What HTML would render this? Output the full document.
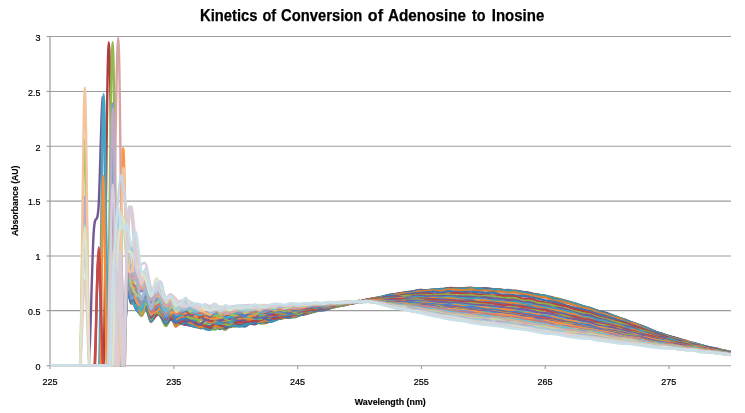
<!DOCTYPE html>
<html lang="en">
<head>
<meta charset="utf-8">
<title>Kinetics of Conversion of Adenosine to Inosine</title>
<style>
html,body{margin:0;padding:0;background:#fff;}
body{width:745px;height:413px;overflow:hidden;font-family:"Liberation Sans",sans-serif;}
svg{display:block;}
.grid line{stroke:#9c9c9c;stroke-width:1.12;}
.axis line{stroke:#9c9c9c;stroke-width:1.12;}
.axis line.v{stroke:#9c9c9c;stroke-width:1.2;}
.ticks line{stroke:#9c9c9c;stroke-width:1.1;}
.series path{fill:none;stroke-width:2.4;stroke-linejoin:round;stroke-linecap:butt;}
text{font-family:"Liberation Sans",sans-serif;fill:#000;}
.tl text{font-size:9.7px;stroke:#000;stroke-width:0.22px;}
.at{font-size:9px;font-weight:bold;stroke:#000;stroke-width:0.15px;}
.title{font-size:16.4px;font-weight:bold;stroke:#000;stroke-width:0.25px;}
</style>
</head>
<body>
<svg width="745" height="413" viewBox="0 0 745 413">
<rect width="745" height="413" fill="#fff"/>
<text class="title" y="20.6"><tspan x="200" textLength="57.4" lengthAdjust="spacingAndGlyphs">Kinetics</tspan> <tspan x="262.4" textLength="13.7" lengthAdjust="spacingAndGlyphs">of</tspan> <tspan x="281.1" textLength="81.2" lengthAdjust="spacingAndGlyphs">Conversion</tspan> <tspan x="367.8" textLength="15.2" lengthAdjust="spacingAndGlyphs">of</tspan> <tspan x="388" textLength="78.1" lengthAdjust="spacingAndGlyphs">Adenosine</tspan> <tspan x="471.9" textLength="13.5" lengthAdjust="spacingAndGlyphs">to</tspan> <tspan x="491.8" textLength="52.5" lengthAdjust="spacingAndGlyphs">Inosine</tspan></text>
<g class="grid">
<line x1="50" y1="310.65" x2="731.0" y2="310.65"/>
<line x1="50" y1="256.00" x2="731.0" y2="256.00"/>
<line x1="50" y1="201.10" x2="731.0" y2="201.10"/>
<line x1="50" y1="146.30" x2="731.0" y2="146.30"/>
<line x1="50" y1="91.45" x2="731.0" y2="91.45"/>
<line x1="50" y1="36.50" x2="731.0" y2="36.50"/>
</g>
<g class="axis">
<line class="v" x1="50" y1="35.95" x2="50" y2="368.9"/>
<line x1="50" y1="365.75" x2="731.0" y2="365.75"/>
</g>
<g class="ticks">
<line x1="46.6" y1="365.75" x2="50" y2="365.75"/>
<line x1="46.6" y1="310.65" x2="50" y2="310.65"/>
<line x1="46.6" y1="256.00" x2="50" y2="256.00"/>
<line x1="46.6" y1="201.10" x2="50" y2="201.10"/>
<line x1="46.6" y1="146.30" x2="50" y2="146.30"/>
<line x1="46.6" y1="91.45" x2="50" y2="91.45"/>
<line x1="46.6" y1="36.50" x2="50" y2="36.50"/>
<line x1="173.88" y1="365.7" x2="173.88" y2="368.9"/>
<line x1="297.66" y1="365.7" x2="297.66" y2="368.9"/>
<line x1="421.44" y1="365.7" x2="421.44" y2="368.9"/>
<line x1="545.22" y1="365.7" x2="545.22" y2="368.9"/>
<line x1="669.00" y1="365.7" x2="669.00" y2="368.9"/>
</g>
<svg class="series" x="50.7" y="35.2" width="680.3" height="331.3" viewBox="50.7 35.2 680.3 331.3" overflow="hidden">
<path d="M47.8,365.5C50.1,365.5 50.1,365.5 61.8,365.5C73.5,365.5 108.1,365.5 118.2,365.5C128.4,365.5 121.5,378.9 122.9,365.5C124.4,352.1 125.8,296.8 127.2,285.4C128.6,273.9 129.7,292.8 131.1,296.8C132.6,300.7 134.5,306.3 136.1,309.1C137.8,311.8 139.4,313.8 141.1,313.1C142.7,312.4 144.4,304.1 146.0,304.9C147.7,305.7 149.3,316.2 151.0,317.7C152.6,319.2 154.3,313.9 155.9,313.6C157.6,313.4 159.2,314.3 160.9,316.1C162.5,318.0 164.2,324.5 165.8,324.7C167.5,324.8 169.1,317.3 170.8,317.2C172.4,317.0 174.1,322.7 175.7,323.8C177.4,324.9 179.0,323.6 180.7,323.6C182.3,323.7 184.0,323.7 185.6,324.0C187.3,324.3 188.9,325.1 190.6,325.2C192.2,325.4 193.9,324.4 195.6,324.9C197.2,325.4 198.9,327.7 200.5,328.0C202.2,328.3 203.8,326.9 205.5,326.8C207.1,326.6 208.8,327.3 210.4,327.2C212.1,327.1 213.7,325.9 215.4,326.2C217.0,326.5 218.7,329.1 220.3,329.0C222.0,328.9 223.6,325.8 225.3,325.5C226.9,325.2 228.6,327.4 230.2,327.1C231.9,326.9 233.5,324.3 235.2,324.1C236.8,323.8 238.5,325.1 240.1,325.5C241.8,325.9 243.4,326.8 245.1,326.4C246.7,326.1 248.4,324.1 250.0,323.4C251.7,322.7 253.3,322.3 255.0,322.1C256.7,322.0 258.3,322.3 260.0,322.2C261.6,322.0 263.3,321.5 264.9,321.3C266.6,321.1 268.2,321.3 269.9,321.2C271.5,321.0 273.2,320.6 274.8,320.1C276.5,319.7 278.1,319.0 279.8,318.5C281.4,318.1 283.1,317.6 284.7,317.4C286.4,317.1 288.0,316.9 289.7,316.8C291.3,316.7 293.0,316.9 294.6,316.7C296.3,316.4 297.9,315.6 299.6,315.2C301.2,314.7 302.9,314.5 304.5,314.1C306.2,313.8 307.8,313.5 309.5,312.9C311.1,312.3 312.8,311.1 314.4,310.7C316.1,310.3 317.8,310.6 319.4,310.5C321.1,310.3 322.7,310.4 324.4,310.1C326.0,309.7 327.7,308.8 329.3,308.3C331.0,307.8 332.6,307.3 334.3,306.9C335.9,306.5 337.6,306.5 339.2,306.0C340.9,305.6 342.5,304.6 344.2,304.3C345.8,304.0 347.5,304.3 349.1,304.0C350.8,303.7 352.4,302.9 354.1,302.5C355.7,302.1 358.1,301.6 359.0,301.5C359.9,301.4 358.1,302.2 359.4,302.0C360.7,301.7 364.4,300.5 366.8,299.8C369.3,299.2 371.8,298.8 374.3,298.4C376.7,297.9 379.2,297.9 381.7,297.4C384.2,296.8 386.6,295.5 389.1,295.0C391.6,294.5 394.1,294.8 396.6,294.4C399.0,294.0 401.5,293.1 404.0,292.7C406.5,292.2 408.9,292.3 411.4,291.8C413.9,291.4 416.4,290.4 418.8,290.2C421.3,290.0 423.8,290.6 426.3,290.5C428.8,290.4 431.2,289.8 433.7,289.6C436.2,289.4 438.7,289.6 441.1,289.4C443.6,289.2 446.1,288.3 448.6,288.2C451.0,288.1 453.5,288.6 456.0,288.7C458.5,288.7 460.9,288.4 463.4,288.3C465.9,288.2 468.4,288.0 470.9,288.1C473.3,288.3 475.8,289.2 478.3,289.2C480.8,289.3 483.2,288.3 485.7,288.4C488.2,288.4 490.7,288.9 493.1,289.3C495.6,289.7 498.1,290.5 500.6,290.6C503.1,290.7 505.5,289.9 508.0,290.0C510.5,290.2 513.0,291.1 515.4,291.5C517.9,291.9 520.4,292.0 522.9,292.2C525.3,292.5 527.8,292.6 530.3,293.1C532.8,293.6 535.3,294.6 537.7,295.1C540.2,295.6 542.7,295.6 545.2,296.1C547.6,296.6 550.1,297.5 552.6,298.1C555.1,298.7 557.5,299.1 560.0,299.7C562.5,300.4 565.0,301.4 567.5,302.2C569.9,302.9 572.4,303.5 574.9,304.2C577.4,304.8 579.8,305.7 582.3,306.3C584.8,306.9 587.3,307.1 589.7,307.8C592.2,308.5 594.7,309.9 597.2,310.7C599.6,311.5 602.1,311.8 604.6,312.5C607.1,313.2 609.6,314.2 612.0,315.1C614.5,316.1 617.0,317.3 619.5,318.2C621.9,319.1 624.4,319.7 626.9,320.6C629.4,321.6 631.8,323.0 634.3,324.0C636.8,325.0 639.3,325.8 641.8,326.8C644.2,327.7 646.7,328.8 649.2,329.7C651.7,330.6 654.1,331.3 656.6,332.1C659.1,332.9 661.6,333.4 664.0,334.3C666.5,335.1 669.0,336.4 671.5,337.3C674.0,338.2 676.4,338.7 678.9,339.5C681.4,340.3 683.9,341.4 686.3,342.1C688.8,342.8 691.3,343.0 693.8,343.6C696.2,344.1 698.7,344.9 701.2,345.5C703.7,346.1 706.2,346.5 708.6,347.1C711.1,347.7 713.6,348.7 716.1,349.2C718.5,349.8 721.0,349.8 723.5,350.3C726.0,350.7 729.7,351.6 730.9,351.8" stroke="#3F6EA7"/>
<path d="M47.8,365.5C50.1,365.5 53.4,365.5 61.8,365.5C70.2,365.5 91.4,365.5 98.4,365.5C105.4,365.5 101.9,419.4 103.6,365.5C105.3,311.6 106.9,42.1 108.8,42.1C110.7,42.1 112.8,311.6 114.8,365.5C116.8,419.4 118.7,377.9 120.8,365.5C122.9,353.1 125.5,301.9 127.2,291.2C128.9,280.6 129.7,299.0 131.1,301.4C132.6,303.9 134.5,304.3 136.1,306.1C137.8,308.0 139.4,312.4 141.1,312.4C142.7,312.5 144.4,305.2 146.0,306.3C147.7,307.5 149.3,318.4 151.0,319.4C152.6,320.4 154.3,313.5 155.9,312.3C157.6,311.1 159.2,310.8 160.9,312.2C162.5,313.7 164.2,320.0 165.8,321.0C167.5,322.1 169.1,318.1 170.8,318.5C172.4,319.0 174.1,322.8 175.7,323.6C177.4,324.4 179.0,323.2 180.7,323.4C182.3,323.5 184.0,324.9 185.6,324.6C187.3,324.4 188.9,321.7 190.6,322.0C192.2,322.4 193.9,326.4 195.6,326.8C197.2,327.2 198.9,324.3 200.5,324.5C202.2,324.7 203.8,327.4 205.5,328.0C207.1,328.6 208.8,328.5 210.4,328.1C212.1,327.6 213.7,325.3 215.4,325.2C217.0,325.2 218.7,327.5 220.3,327.8C222.0,328.0 223.6,327.0 225.3,326.8C226.9,326.6 228.6,326.8 230.2,326.5C231.9,326.2 233.5,325.5 235.2,325.2C236.8,324.9 238.5,324.7 240.1,324.7C241.8,324.7 243.4,325.6 245.1,325.2C246.7,324.7 248.4,322.3 250.0,321.9C251.7,321.5 253.3,322.8 255.0,322.6C256.7,322.4 258.3,320.5 260.0,320.6C261.6,320.7 263.3,323.1 264.9,323.1C266.6,323.1 268.2,321.2 269.9,320.6C271.5,319.9 273.2,319.4 274.8,319.1C276.5,318.8 278.1,318.9 279.8,318.6C281.4,318.4 283.1,317.9 284.7,317.6C286.4,317.3 288.0,317.0 289.7,316.9C291.3,316.7 293.0,316.8 294.6,316.5C296.3,316.2 297.9,315.8 299.6,315.2C301.2,314.7 302.9,313.6 304.5,313.1C306.2,312.7 307.8,312.9 309.5,312.5C311.1,312.2 312.8,311.3 314.4,311.0C316.1,310.6 317.8,310.7 319.4,310.4C321.1,310.1 322.7,309.6 324.4,309.3C326.0,309.0 327.7,308.8 329.3,308.4C331.0,308.1 332.6,307.5 334.3,307.0C335.9,306.5 337.6,305.9 339.2,305.5C340.9,305.0 342.5,304.7 344.2,304.4C345.8,304.0 347.5,303.8 349.1,303.5C350.8,303.1 352.4,302.7 354.1,302.3C355.7,301.9 358.1,301.2 359.0,301.1C359.9,300.9 358.1,301.9 359.4,301.7C360.7,301.4 364.4,300.2 366.8,299.6C369.3,299.0 371.8,298.6 374.3,298.1C376.7,297.7 379.2,297.5 381.7,297.0C384.2,296.4 386.6,295.3 389.1,294.9C391.6,294.5 394.1,295.0 396.6,294.6C399.0,294.3 401.5,293.4 404.0,292.9C406.5,292.5 408.9,292.1 411.4,291.8C413.9,291.4 416.4,291.0 418.8,290.7C421.3,290.5 423.8,290.4 426.3,290.3C428.8,290.1 431.2,290.0 433.7,289.9C436.2,289.8 438.7,290.0 441.1,289.7C443.6,289.4 446.1,288.3 448.6,288.1C451.0,287.8 453.5,288.1 456.0,288.2C458.5,288.2 460.9,288.5 463.4,288.4C465.9,288.3 468.4,287.5 470.9,287.6C473.3,287.7 475.8,288.7 478.3,288.9C480.8,289.0 483.2,288.6 485.7,288.6C488.2,288.7 490.7,289.0 493.1,289.2C495.6,289.3 498.1,289.2 500.6,289.5C503.1,289.8 505.5,290.9 508.0,291.2C510.5,291.4 513.0,290.6 515.4,290.8C517.9,291.0 520.4,291.9 522.9,292.4C525.3,292.9 527.8,293.6 530.3,293.9C532.8,294.3 535.3,294.1 537.7,294.5C540.2,294.9 542.7,295.9 545.2,296.3C547.6,296.8 550.1,296.8 552.6,297.4C555.1,297.9 557.5,298.9 560.0,299.5C562.5,300.2 565.0,300.6 567.5,301.3C569.9,302.0 572.4,302.9 574.9,303.7C577.4,304.5 579.8,305.1 582.3,306.0C584.8,306.8 587.3,308.1 589.7,308.9C592.2,309.7 594.7,310.2 597.2,310.9C599.6,311.7 602.1,312.6 604.6,313.4C607.1,314.1 609.6,314.6 612.0,315.3C614.5,316.1 617.0,317.2 619.5,318.1C621.9,318.9 624.4,319.4 626.9,320.4C629.4,321.3 631.8,322.8 634.3,323.7C636.8,324.6 639.3,325.0 641.8,325.8C644.2,326.7 646.7,327.7 649.2,328.8C651.7,329.8 654.1,331.3 656.6,332.3C659.1,333.3 661.6,333.8 664.0,334.6C666.5,335.3 669.0,336.3 671.5,337.0C674.0,337.7 676.4,338.1 678.9,338.8C681.4,339.4 683.9,340.1 686.3,340.9C688.8,341.8 691.3,343.2 693.8,344.0C696.2,344.8 698.7,345.2 701.2,345.9C703.7,346.5 706.2,347.1 708.6,347.7C711.1,348.3 713.6,348.7 716.1,349.4C718.5,350.0 721.0,351.0 723.5,351.5C726.0,351.9 729.7,352.0 730.9,352.1" stroke="#AA403D"/>
<path d="M47.8,365.5C50.1,365.5 50.0,365.5 61.8,365.5C73.6,365.5 108.1,365.5 118.3,365.5C128.5,365.5 121.5,377.2 123.0,365.5C124.5,353.8 125.8,307.0 127.2,295.2C128.6,283.4 129.7,293.4 131.1,294.6C132.6,295.8 134.5,298.9 136.1,302.4C137.8,305.9 139.4,314.5 141.1,315.6C142.7,316.7 144.4,307.8 146.0,308.8C147.7,309.9 149.3,321.6 151.0,321.9C152.6,322.2 154.3,311.8 155.9,310.9C157.6,310.0 159.2,314.2 160.9,316.7C162.5,319.3 164.2,325.8 165.8,326.1C167.5,326.4 169.1,318.8 170.8,318.4C172.4,318.0 174.1,322.7 175.7,323.6C177.4,324.5 179.0,324.2 180.7,323.8C182.3,323.4 184.0,321.0 185.6,321.1C187.3,321.1 188.9,323.4 190.6,324.1C192.2,324.8 193.9,324.6 195.6,325.3C197.2,326.0 198.9,327.8 200.5,328.2C202.2,328.6 203.8,327.4 205.5,327.5C207.1,327.6 208.8,328.4 210.4,328.7C212.1,329.0 213.7,329.6 215.4,329.4C217.0,329.1 218.7,327.3 220.3,327.3C222.0,327.4 223.6,330.0 225.3,329.8C226.9,329.6 228.6,326.7 230.2,326.2C231.9,325.6 233.5,327.1 235.2,326.5C236.8,325.9 238.5,323.0 240.1,322.6C241.8,322.1 243.4,324.0 245.1,324.0C246.7,324.0 248.4,323.0 250.0,322.6C251.7,322.2 253.3,321.3 255.0,321.4C256.7,321.6 258.3,323.1 260.0,323.4C261.6,323.6 263.3,323.5 264.9,323.1C266.6,322.6 268.2,321.5 269.9,320.8C271.5,320.1 273.2,319.3 274.8,318.8C276.5,318.4 278.1,318.5 279.8,318.3C281.4,318.1 283.1,318.1 284.7,317.8C286.4,317.5 288.0,316.8 289.7,316.7C291.3,316.6 293.0,317.4 294.6,317.2C296.3,317.0 297.9,316.0 299.6,315.3C301.2,314.6 302.9,313.5 304.5,313.1C306.2,312.7 307.8,313.1 309.5,312.9C311.1,312.7 312.8,312.3 314.4,311.9C316.1,311.4 317.8,310.7 319.4,310.3C321.1,309.9 322.7,310.0 324.4,309.5C326.0,309.1 327.7,308.1 329.3,307.7C331.0,307.3 332.6,307.6 334.3,307.3C335.9,307.0 337.6,306.3 339.2,306.0C340.9,305.7 342.5,305.9 344.2,305.5C345.8,305.0 347.5,303.9 349.1,303.4C350.8,302.8 352.4,302.6 354.1,302.2C355.7,301.8 358.1,301.1 359.0,301.1C359.9,301.2 358.1,302.7 359.4,302.5C360.7,302.3 364.4,300.6 366.8,300.1C369.3,299.5 371.8,299.7 374.3,299.2C376.7,298.7 379.2,297.6 381.7,296.9C384.2,296.3 386.6,295.9 389.1,295.5C391.6,295.1 394.1,294.9 396.6,294.4C399.0,293.9 401.5,293.0 404.0,292.6C406.5,292.2 408.9,292.3 411.4,291.9C413.9,291.4 416.4,290.3 418.8,290.1C421.3,289.8 423.8,290.3 426.3,290.2C428.8,290.1 431.2,289.6 433.7,289.6C436.2,289.6 438.7,290.2 441.1,290.1C443.6,290.0 446.1,289.4 448.6,289.1C451.0,288.9 453.5,288.8 456.0,288.6C458.5,288.5 460.9,288.4 463.4,288.3C465.9,288.3 468.4,288.2 470.9,288.1C473.3,288.1 475.8,288.0 478.3,288.2C480.8,288.4 483.2,289.2 485.7,289.4C488.2,289.6 490.7,289.3 493.1,289.5C495.6,289.6 498.1,289.8 500.6,290.0C503.1,290.3 505.5,290.6 508.0,290.8C510.5,290.9 513.0,290.7 515.4,291.0C517.9,291.3 520.4,292.4 522.9,292.7C525.3,293.1 527.8,292.6 530.3,293.0C532.8,293.4 535.3,294.7 537.7,295.1C540.2,295.6 542.7,295.1 545.2,295.6C547.6,296.1 550.1,297.4 552.6,298.0C555.1,298.6 557.5,298.5 560.0,299.2C562.5,299.9 565.0,301.5 567.5,302.2C569.9,302.9 572.4,302.9 574.9,303.6C577.4,304.3 579.8,305.7 582.3,306.5C584.8,307.3 587.3,307.5 589.7,308.2C592.2,308.9 594.7,309.7 597.2,310.6C599.6,311.5 602.1,312.7 604.6,313.6C607.1,314.5 609.6,315.2 612.0,316.0C614.5,316.8 617.0,317.7 619.5,318.5C621.9,319.2 624.4,319.6 626.9,320.6C629.4,321.5 631.8,323.1 634.3,324.1C636.8,325.0 639.3,325.4 641.8,326.4C644.2,327.4 646.7,328.8 649.2,329.9C651.7,330.9 654.1,331.9 656.6,332.7C659.1,333.5 661.6,334.0 664.0,334.7C666.5,335.4 669.0,336.2 671.5,337.0C674.0,337.8 676.4,338.7 678.9,339.5C681.4,340.3 683.9,341.1 686.3,341.7C688.8,342.4 691.3,342.9 693.8,343.6C696.2,344.2 698.7,345.0 701.2,345.7C703.7,346.5 706.2,347.4 708.6,348.0C711.1,348.5 713.6,348.6 716.1,349.1C718.5,349.6 721.0,350.4 723.5,350.8C726.0,351.3 729.7,351.7 730.9,351.9" stroke="#86A548"/>
<path d="M47.8,365.5C50.1,365.5 50.0,365.5 61.8,365.5C73.6,365.5 108.4,365.5 118.5,365.5C128.6,365.5 121.0,378.9 122.5,365.5C123.9,352.1 125.8,296.6 127.2,285.2C128.6,273.9 129.7,294.1 131.1,297.4C132.6,300.6 134.5,301.8 136.1,304.9C137.8,307.9 139.4,315.2 141.1,315.4C142.7,315.6 144.4,305.5 146.0,306.0C147.7,306.6 149.3,317.8 151.0,318.7C152.6,319.5 154.3,311.5 155.9,311.2C157.6,310.8 159.2,314.8 160.9,316.8C162.5,318.7 164.2,322.7 165.8,322.7C167.5,322.7 169.1,317.0 170.8,316.8C172.4,316.6 174.1,320.7 175.7,321.6C177.4,322.5 179.0,321.7 180.7,322.2C182.3,322.7 184.0,323.9 185.6,324.5C187.3,325.1 188.9,325.2 190.6,325.6C192.2,325.9 193.9,326.2 195.6,326.6C197.2,326.9 198.9,327.9 200.5,327.8C202.2,327.8 203.8,326.3 205.5,326.1C207.1,326.0 208.8,326.8 210.4,326.8C212.1,326.7 213.7,325.8 215.4,325.7C217.0,325.6 218.7,325.6 220.3,326.0C222.0,326.4 223.6,328.0 225.3,328.0C226.9,327.9 228.6,326.1 230.2,325.6C231.9,325.1 233.5,325.2 235.2,325.0C236.8,324.8 238.5,324.7 240.1,324.4C241.8,324.0 243.4,323.0 245.1,322.9C246.7,322.7 248.4,323.4 250.0,323.6C251.7,323.8 253.3,324.4 255.0,324.2C256.7,324.0 258.3,322.6 260.0,322.3C261.6,321.9 263.3,322.2 264.9,322.1C266.6,322.0 268.2,322.1 269.9,321.8C271.5,321.5 273.2,320.8 274.8,320.1C276.5,319.4 278.1,318.1 279.8,317.7C281.4,317.2 283.1,317.3 284.7,317.3C286.4,317.3 288.0,317.8 289.7,317.5C291.3,317.2 293.0,316.2 294.6,315.8C296.3,315.3 297.9,315.0 299.6,314.8C301.2,314.6 302.9,314.8 304.5,314.4C306.2,314.1 307.8,313.2 309.5,312.6C311.1,312.1 312.8,311.5 314.4,311.1C316.1,310.7 317.8,310.3 319.4,310.1C321.1,309.9 322.7,310.4 324.4,310.0C326.0,309.7 327.7,308.6 329.3,308.0C331.0,307.4 332.6,306.9 334.3,306.5C335.9,306.1 337.6,305.9 339.2,305.5C340.9,305.2 342.5,304.5 344.2,304.2C345.8,303.9 347.5,304.2 349.1,303.9C350.8,303.5 352.4,302.6 354.1,302.2C355.7,301.8 358.1,301.3 359.0,301.4C359.9,301.4 358.1,302.7 359.4,302.4C360.7,302.2 364.4,300.5 366.8,299.9C369.3,299.3 371.8,299.2 374.3,298.7C376.7,298.2 379.2,297.4 381.7,296.9C384.2,296.3 386.6,296.1 389.1,295.5C391.6,295.0 394.1,294.0 396.6,293.6C399.0,293.1 401.5,292.9 404.0,292.7C406.5,292.4 408.9,292.5 411.4,292.0C413.9,291.6 416.4,290.4 418.8,290.1C421.3,289.8 423.8,290.2 426.3,290.2C428.8,290.2 431.2,290.1 433.7,289.9C436.2,289.7 438.7,289.2 441.1,289.0C443.6,288.8 446.1,288.9 448.6,288.9C451.0,288.9 453.5,288.8 456.0,288.7C458.5,288.7 460.9,288.7 463.4,288.7C465.9,288.7 468.4,288.7 470.9,288.8C473.3,288.8 475.8,289.1 478.3,289.1C480.8,289.0 483.2,288.4 485.7,288.5C488.2,288.6 490.7,289.5 493.1,289.8C495.6,290.1 498.1,290.0 500.6,290.2C503.1,290.4 505.5,290.9 508.0,291.2C510.5,291.4 513.0,291.3 515.4,291.5C517.9,291.6 520.4,291.7 522.9,292.0C525.3,292.3 527.8,292.7 530.3,293.3C532.8,293.8 535.3,294.8 537.7,295.3C540.2,295.8 542.7,295.6 545.2,296.1C547.6,296.6 550.1,297.7 552.6,298.4C555.1,299.0 557.5,299.5 560.0,300.2C562.5,300.8 565.0,301.4 567.5,302.0C569.9,302.7 572.4,303.5 574.9,304.2C577.4,304.9 579.8,305.6 582.3,306.3C584.8,306.9 587.3,307.3 589.7,308.1C592.2,308.9 594.7,310.0 597.2,310.9C599.6,311.7 602.1,312.4 604.6,313.3C607.1,314.1 609.6,315.2 612.0,316.1C614.5,316.9 617.0,317.3 619.5,318.1C621.9,319.0 624.4,320.2 626.9,321.0C629.4,321.9 631.8,322.2 634.3,323.1C636.8,324.0 639.3,325.3 641.8,326.3C644.2,327.3 646.7,328.1 649.2,329.1C651.7,330.1 654.1,331.4 656.6,332.4C659.1,333.4 661.6,334.5 664.0,335.2C666.5,336.0 669.0,336.2 671.5,336.8C674.0,337.4 676.4,337.9 678.9,338.8C681.4,339.7 683.9,341.3 686.3,342.1C688.8,342.9 691.3,343.0 693.8,343.5C696.2,344.0 698.7,344.5 701.2,345.2C703.7,345.9 706.2,347.2 708.6,347.7C711.1,348.3 713.6,347.8 716.1,348.4C718.5,348.9 721.0,350.3 723.5,351.0C726.0,351.7 729.7,352.4 730.9,352.7" stroke="#6E538E"/>
<path d="M47.8,365.5C50.1,365.5 50.1,365.5 61.8,365.5C73.5,365.5 107.9,365.5 118.1,365.5C128.3,365.5 121.7,378.8 123.2,365.5C124.8,352.2 125.9,296.8 127.2,285.7C128.5,274.5 129.7,295.0 131.1,298.6C132.6,302.1 134.5,305.1 136.1,307.1C137.8,309.0 139.4,309.8 141.1,310.4C142.7,310.9 144.4,309.4 146.0,310.5C147.7,311.6 149.3,316.1 151.0,317.0C152.6,317.8 154.3,316.1 155.9,315.6C157.6,315.2 159.2,313.0 160.9,314.4C162.5,315.7 164.2,323.4 165.8,323.9C167.5,324.4 169.1,317.7 170.8,317.5C172.4,317.2 174.1,321.6 175.7,322.7C177.4,323.8 179.0,324.1 180.7,324.1C182.3,324.0 184.0,322.1 185.6,322.2C187.3,322.4 188.9,324.1 190.6,324.9C192.2,325.7 193.9,326.7 195.6,327.1C197.2,327.4 198.9,326.8 200.5,327.1C202.2,327.4 203.8,328.5 205.5,329.0C207.1,329.4 208.8,330.2 210.4,329.6C212.1,329.0 213.7,325.6 215.4,325.3C217.0,325.1 218.7,327.9 220.3,327.9C222.0,328.0 223.6,326.1 225.3,325.7C226.9,325.3 228.6,325.4 230.2,325.5C231.9,325.5 233.5,325.7 235.2,325.9C236.8,326.0 238.5,326.7 240.1,326.5C241.8,326.4 243.4,325.7 245.1,325.1C246.7,324.6 248.4,323.7 250.0,323.2C251.7,322.8 253.3,322.4 255.0,322.3C256.7,322.3 258.3,323.1 260.0,322.8C261.6,322.5 263.3,320.7 264.9,320.5C266.6,320.4 268.2,322.0 269.9,321.9C271.5,321.9 273.2,321.1 274.8,320.4C276.5,319.8 278.1,318.8 279.8,318.2C281.4,317.7 283.1,317.5 284.7,317.3C286.4,317.1 288.0,317.0 289.7,316.9C291.3,316.9 293.0,317.2 294.6,316.9C296.3,316.6 297.9,315.6 299.6,315.1C301.2,314.5 302.9,314.0 304.5,313.5C306.2,313.0 307.8,312.5 309.5,312.2C311.1,311.8 312.8,311.5 314.4,311.2C316.1,311.0 317.8,310.9 319.4,310.5C321.1,310.2 322.7,309.7 324.4,309.3C326.0,308.8 327.7,308.2 329.3,307.7C331.0,307.2 332.6,306.7 334.3,306.3C335.9,305.9 337.6,305.6 339.2,305.4C340.9,305.2 342.5,305.3 344.2,305.1C345.8,304.8 347.5,304.3 349.1,303.9C350.8,303.6 352.4,303.2 354.1,302.8C355.7,302.4 358.1,301.9 359.0,301.7C359.9,301.6 358.1,302.0 359.4,301.7C360.7,301.4 364.4,300.5 366.8,300.0C369.3,299.5 371.8,299.0 374.3,298.5C376.7,297.9 379.2,297.0 381.7,296.6C384.2,296.1 386.6,295.9 389.1,295.6C391.6,295.2 394.1,294.8 396.6,294.5C399.0,294.1 401.5,293.7 404.0,293.4C406.5,293.0 408.9,292.8 411.4,292.4C413.9,291.9 416.4,291.1 418.8,290.9C421.3,290.7 423.8,291.2 426.3,291.0C428.8,290.8 431.2,289.7 433.7,289.5C436.2,289.2 438.7,289.5 441.1,289.5C443.6,289.4 446.1,289.0 448.6,288.9C451.0,288.9 453.5,288.8 456.0,288.9C458.5,288.9 460.9,289.2 463.4,289.2C465.9,289.1 468.4,288.7 470.9,288.6C473.3,288.5 475.8,288.2 478.3,288.4C480.8,288.5 483.2,289.6 485.7,289.8C488.2,290.0 490.7,289.4 493.1,289.4C495.6,289.4 498.1,289.7 500.6,290.0C503.1,290.2 505.5,290.5 508.0,290.7C510.5,291.0 513.0,291.2 515.4,291.4C517.9,291.7 520.4,291.9 522.9,292.3C525.3,292.8 527.8,293.6 530.3,294.1C532.8,294.5 535.3,294.7 537.7,294.9C540.2,295.2 542.7,295.0 545.2,295.6C547.6,296.2 550.1,297.7 552.6,298.5C555.1,299.3 557.5,299.7 560.0,300.2C562.5,300.8 565.0,301.1 567.5,301.7C569.9,302.2 572.4,302.8 574.9,303.5C577.4,304.2 579.8,305.2 582.3,305.9C584.8,306.7 587.3,307.2 589.7,308.1C592.2,309.0 594.7,310.4 597.2,311.4C599.6,312.3 602.1,313.0 604.6,313.7C607.1,314.4 609.6,314.8 612.0,315.5C614.5,316.2 617.0,317.0 619.5,318.0C621.9,318.9 624.4,320.2 626.9,321.1C629.4,322.1 631.8,322.6 634.3,323.4C636.8,324.3 639.3,325.5 641.8,326.4C644.2,327.3 646.7,328.0 649.2,329.0C651.7,330.1 654.1,331.8 656.6,332.7C659.1,333.6 661.6,333.6 664.0,334.4C666.5,335.2 669.0,336.7 671.5,337.6C674.0,338.4 676.4,338.8 678.9,339.5C681.4,340.1 683.9,341.0 686.3,341.6C688.8,342.2 691.3,342.4 693.8,343.0C696.2,343.6 698.7,344.4 701.2,345.1C703.7,345.8 706.2,346.6 708.6,347.2C711.1,347.8 713.6,348.2 716.1,348.8C718.5,349.3 721.0,349.8 723.5,350.5C726.0,351.2 729.7,352.4 730.9,352.8" stroke="#3B97AF"/>
<path d="M47.8,365.5C50.1,365.5 50.1,365.5 61.8,365.5C73.5,365.5 108.0,365.5 118.2,365.5C128.5,365.5 121.9,378.6 123.4,365.5C124.9,352.4 125.9,297.2 127.2,286.8C128.5,276.5 129.7,301.2 131.1,303.3C132.6,305.4 134.5,298.6 136.1,299.4C137.8,300.2 139.4,307.1 141.1,307.9C142.7,308.8 144.4,302.0 146.0,304.3C147.7,306.6 149.3,320.9 151.0,321.8C152.6,322.8 154.3,311.2 155.9,309.8C157.6,308.5 159.2,311.6 160.9,313.7C162.5,315.7 164.2,321.7 165.8,322.2C167.5,322.7 169.1,315.7 170.8,316.5C172.4,317.2 174.1,325.8 175.7,326.6C177.4,327.4 179.0,322.0 180.7,321.0C182.3,320.1 184.0,320.6 185.6,320.9C187.3,321.3 188.9,322.2 190.6,322.9C192.2,323.5 193.9,324.0 195.6,324.8C197.2,325.5 198.9,327.2 200.5,327.3C202.2,327.5 203.8,325.5 205.5,325.4C207.1,325.4 208.8,327.0 210.4,327.1C212.1,327.2 213.7,325.7 215.4,325.8C217.0,325.9 218.7,327.7 220.3,327.6C222.0,327.5 223.6,325.9 225.3,325.2C226.9,324.5 228.6,323.8 230.2,323.5C231.9,323.2 233.5,323.3 235.2,323.2C236.8,323.0 238.5,322.7 240.1,322.5C241.8,322.3 243.4,322.2 245.1,321.9C246.7,321.7 248.4,321.1 250.0,321.1C251.7,321.0 253.3,321.3 255.0,321.4C256.7,321.4 258.3,321.5 260.0,321.5C261.6,321.4 263.3,321.4 264.9,321.1C266.6,320.8 268.2,320.3 269.9,319.8C271.5,319.4 273.2,318.9 274.8,318.4C276.5,317.9 278.1,317.1 279.8,317.0C281.4,317.0 283.1,318.0 284.7,317.9C286.4,317.8 288.0,316.8 289.7,316.5C291.3,316.3 293.0,316.7 294.6,316.3C296.3,315.9 297.9,314.7 299.6,314.2C301.2,313.8 302.9,314.0 304.5,313.6C306.2,313.2 307.8,312.5 309.5,312.0C311.1,311.6 312.8,311.4 314.4,311.0C316.1,310.7 317.8,310.3 319.4,310.0C321.1,309.7 322.7,309.8 324.4,309.3C326.0,308.8 327.7,307.5 329.3,307.0C331.0,306.5 332.6,306.8 334.3,306.6C335.9,306.4 337.6,306.2 339.2,306.0C340.9,305.7 342.5,305.4 344.2,305.0C345.8,304.7 347.5,304.3 349.1,303.9C350.8,303.5 352.4,303.0 354.1,302.5C355.7,302.0 358.1,301.1 359.0,301.1C359.9,301.0 358.1,302.5 359.4,302.5C360.7,302.4 364.4,301.2 366.8,300.6C369.3,300.0 371.8,299.3 374.3,298.8C376.7,298.3 379.2,298.0 381.7,297.6C384.2,297.3 386.6,297.1 389.1,296.6C391.6,296.2 394.1,295.2 396.6,294.7C399.0,294.1 401.5,293.5 404.0,293.3C406.5,293.0 408.9,293.8 411.4,293.4C413.9,293.1 416.4,291.8 418.8,291.4C421.3,291.0 423.8,291.2 426.3,291.0C428.8,290.9 431.2,290.5 433.7,290.5C436.2,290.5 438.7,291.1 441.1,290.9C443.6,290.8 446.1,289.7 448.6,289.5C451.0,289.3 453.5,289.6 456.0,289.7C458.5,289.9 460.9,290.4 463.4,290.3C465.9,290.3 468.4,289.3 470.9,289.4C473.3,289.5 475.8,290.7 478.3,290.9C480.8,291.1 483.2,290.3 485.7,290.4C488.2,290.5 490.7,291.4 493.1,291.6C495.6,291.8 498.1,291.4 500.6,291.6C503.1,291.7 505.5,292.5 508.0,292.6C510.5,292.8 513.0,292.3 515.4,292.5C517.9,292.7 520.4,293.6 522.9,294.0C525.3,294.4 527.8,294.7 530.3,295.1C532.8,295.6 535.3,296.4 537.7,296.7C540.2,297.1 542.7,296.8 545.2,297.4C547.6,298.0 550.1,299.7 552.6,300.4C555.1,301.0 557.5,300.9 560.0,301.3C562.5,301.8 565.0,302.5 567.5,303.1C569.9,303.8 572.4,304.4 574.9,305.2C577.4,305.9 579.8,306.9 582.3,307.6C584.8,308.2 587.3,308.4 589.7,309.2C592.2,310.0 594.7,311.5 597.2,312.4C599.6,313.2 602.1,313.5 604.6,314.2C607.1,314.9 609.6,315.9 612.0,316.7C614.5,317.4 617.0,317.7 619.5,318.7C621.9,319.6 624.4,321.5 626.9,322.4C629.4,323.3 631.8,322.9 634.3,323.8C636.8,324.7 639.3,326.5 641.8,327.6C644.2,328.8 646.7,329.9 649.2,330.8C651.7,331.8 654.1,332.7 656.6,333.4C659.1,334.1 661.6,334.6 664.0,335.3C666.5,336.0 669.0,336.8 671.5,337.6C674.0,338.3 676.4,339.1 678.9,339.8C681.4,340.5 683.9,340.9 686.3,341.6C688.8,342.3 691.3,343.2 693.8,343.9C696.2,344.6 698.7,345.2 701.2,345.9C703.7,346.7 706.2,347.7 708.6,348.2C711.1,348.7 713.6,348.5 716.1,348.9C718.5,349.3 721.0,350.0 723.5,350.6C726.0,351.2 729.7,352.2 730.9,352.6" stroke="#DC8034"/>
<path d="M47.8,365.5C50.1,365.5 50.0,365.5 61.8,365.5C73.6,365.5 108.4,365.5 118.6,365.5C128.8,365.5 121.4,377.0 122.9,365.5C124.3,354.0 125.8,307.0 127.2,296.7C128.6,286.3 129.7,302.9 131.1,303.1C132.6,303.3 134.5,296.3 136.1,298.0C137.8,299.7 139.4,311.8 141.1,313.3C142.7,314.8 144.4,305.5 146.0,306.8C147.7,308.1 149.3,320.6 151.0,321.3C152.6,321.9 154.3,311.9 155.9,310.8C157.6,309.7 159.2,312.6 160.9,314.7C162.5,316.7 164.2,322.5 165.8,323.3C167.5,324.2 169.1,319.8 170.8,319.7C172.4,319.6 174.1,322.8 175.7,322.7C177.4,322.6 179.0,319.1 180.7,319.0C182.3,318.8 184.0,321.5 185.6,321.8C187.3,322.1 188.9,320.4 190.6,320.7C192.2,321.0 193.9,322.9 195.6,323.5C197.2,324.1 198.9,324.2 200.5,324.4C202.2,324.6 203.8,324.7 205.5,325.0C207.1,325.3 208.8,326.5 210.4,326.2C212.1,325.9 213.7,323.3 215.4,323.1C217.0,322.9 218.7,324.4 220.3,324.9C222.0,325.5 223.6,326.3 225.3,326.2C226.9,326.0 228.6,324.6 230.2,324.0C231.9,323.4 233.5,323.1 235.2,322.8C236.8,322.4 238.5,322.1 240.1,322.0C241.8,321.9 243.4,322.4 245.1,322.3C246.7,322.2 248.4,321.3 250.0,321.3C251.7,321.3 253.3,322.5 255.0,322.2C256.7,322.0 258.3,320.6 260.0,320.0C261.6,319.4 263.3,318.6 264.9,318.7C266.6,318.7 268.2,320.4 269.9,320.1C271.5,319.8 273.2,317.4 274.8,316.8C276.5,316.3 278.1,316.7 279.8,316.7C281.4,316.7 283.1,317.0 284.7,317.0C286.4,317.1 288.0,317.4 289.7,316.9C291.3,316.5 293.0,314.8 294.6,314.5C296.3,314.1 297.9,315.0 299.6,314.8C301.2,314.6 302.9,313.6 304.5,313.1C306.2,312.5 307.8,311.8 309.5,311.4C311.1,311.0 312.8,311.0 314.4,310.7C316.1,310.5 317.8,310.1 319.4,309.9C321.1,309.6 322.7,309.6 324.4,309.2C326.0,308.8 327.7,307.9 329.3,307.4C331.0,306.9 332.6,306.5 334.3,306.2C335.9,305.9 337.6,305.8 339.2,305.5C340.9,305.2 342.5,304.7 344.2,304.4C345.8,304.0 347.5,304.0 349.1,303.7C350.8,303.4 352.4,302.9 354.1,302.6C355.7,302.3 358.1,302.1 359.0,301.9C359.9,301.7 358.1,301.6 359.4,301.3C360.7,301.0 364.4,300.5 366.8,300.2C369.3,299.9 371.8,300.0 374.3,299.6C376.7,299.3 379.2,298.8 381.7,298.2C384.2,297.6 386.6,296.4 389.1,296.0C391.6,295.7 394.1,296.2 396.6,296.0C399.0,295.8 401.5,295.0 404.0,294.7C406.5,294.3 408.9,294.0 411.4,293.8C413.9,293.5 416.4,293.3 418.8,293.1C421.3,292.9 423.8,292.5 426.3,292.3C428.8,292.1 431.2,291.7 433.7,291.8C436.2,291.8 438.7,292.7 441.1,292.6C443.6,292.6 446.1,291.4 448.6,291.3C451.0,291.2 453.5,291.9 456.0,292.0C458.5,292.2 460.9,292.3 463.4,292.2C465.9,292.2 468.4,291.6 470.9,291.6C473.3,291.6 475.8,292.1 478.3,292.3C480.8,292.5 483.2,292.8 485.7,292.9C488.2,293.0 490.7,292.5 493.1,292.7C495.6,293.0 498.1,294.1 500.6,294.4C503.1,294.8 505.5,294.6 508.0,294.8C510.5,294.9 513.0,295.2 515.4,295.4C517.9,295.6 520.4,295.8 522.9,296.0C525.3,296.3 527.8,296.6 530.3,297.1C532.8,297.5 535.3,298.0 537.7,298.6C540.2,299.1 542.7,299.8 545.2,300.4C547.6,300.9 550.1,301.2 552.6,301.7C555.1,302.2 557.5,302.6 560.0,303.3C562.5,304.0 565.0,305.1 567.5,305.8C569.9,306.6 572.4,307.0 574.9,307.6C577.4,308.2 579.8,308.8 582.3,309.4C584.8,310.0 587.3,310.4 589.7,311.2C592.2,311.9 594.7,313.2 597.2,313.9C599.6,314.7 602.1,315.1 604.6,315.8C607.1,316.5 609.6,317.3 612.0,318.1C614.5,318.9 617.0,319.8 619.5,320.6C621.9,321.4 624.4,322.2 626.9,323.1C629.4,324.0 631.8,325.0 634.3,325.9C636.8,326.8 639.3,327.6 641.8,328.5C644.2,329.4 646.7,330.5 649.2,331.3C651.7,332.1 654.1,332.5 656.6,333.2C659.1,334.0 661.6,335.0 664.0,335.8C666.5,336.7 669.0,337.5 671.5,338.3C674.0,339.1 676.4,339.7 678.9,340.4C681.4,341.1 683.9,341.8 686.3,342.5C688.8,343.1 691.3,343.8 693.8,344.4C696.2,345.0 698.7,345.5 701.2,346.0C703.7,346.6 706.2,347.3 708.6,347.8C711.1,348.3 713.6,348.4 716.1,349.0C718.5,349.6 721.0,350.9 723.5,351.4C726.0,352.0 729.7,352.2 730.9,352.4" stroke="#4374B0"/>
<path d="M47.8,365.5C50.1,365.5 50.1,365.5 61.8,365.5C73.5,365.5 108.0,365.5 118.2,365.5C128.4,365.5 121.5,379.2 123.0,365.5C124.5,351.8 125.8,294.2 127.2,283.5C128.6,272.9 129.7,298.8 131.1,301.8C132.6,304.8 134.5,300.4 136.1,301.7C137.8,303.0 139.4,309.2 141.1,309.8C142.7,310.4 144.4,303.6 146.0,305.2C147.7,306.9 149.3,318.0 151.0,319.8C152.6,321.5 154.3,317.5 155.9,315.9C157.6,314.2 159.2,308.7 160.9,309.8C162.5,311.0 164.2,321.2 165.8,322.6C167.5,324.1 169.1,318.7 170.8,318.4C172.4,318.0 174.1,319.5 175.7,320.3C177.4,321.0 179.0,323.2 180.7,322.9C182.3,322.7 184.0,319.2 185.6,318.7C187.3,318.3 188.9,319.8 190.6,320.3C192.2,320.8 193.9,321.1 195.6,321.7C197.2,322.2 198.9,323.0 200.5,323.7C202.2,324.5 203.8,325.4 205.5,326.0C207.1,326.7 208.8,328.5 210.4,327.7C212.1,326.9 213.7,321.7 215.4,321.3C217.0,320.9 218.7,324.6 220.3,325.3C222.0,325.9 223.6,325.7 225.3,325.0C226.9,324.3 228.6,321.5 230.2,321.1C231.9,320.6 233.5,322.4 235.2,322.5C236.8,322.7 238.5,322.0 240.1,321.9C241.8,321.8 243.4,322.0 245.1,321.9C246.7,321.7 248.4,321.2 250.0,321.0C251.7,320.9 253.3,321.0 255.0,320.9C256.7,320.7 258.3,320.5 260.0,320.0C261.6,319.5 263.3,318.2 264.9,317.8C266.6,317.4 268.2,317.4 269.9,317.5C271.5,317.6 273.2,318.5 274.8,318.5C276.5,318.5 278.1,317.8 279.8,317.3C281.4,316.9 283.1,316.3 284.7,315.9C286.4,315.6 288.0,315.5 289.7,315.3C291.3,315.1 293.0,315.0 294.6,314.6C296.3,314.3 297.9,313.4 299.6,313.1C301.2,312.9 302.9,313.5 304.5,313.1C306.2,312.7 307.8,311.2 309.5,310.6C311.1,310.1 312.8,310.0 314.4,309.7C316.1,309.4 317.8,309.1 319.4,308.8C321.1,308.6 322.7,308.6 324.4,308.2C326.0,307.9 327.7,307.0 329.3,306.7C331.0,306.4 332.6,306.5 334.3,306.3C335.9,306.2 337.6,306.1 339.2,305.7C340.9,305.3 342.5,304.4 344.2,304.1C345.8,303.7 347.5,303.5 349.1,303.4C350.8,303.2 352.4,303.5 354.1,303.1C355.7,302.7 358.1,301.4 359.0,301.1C359.9,300.8 358.1,301.6 359.4,301.4C360.7,301.2 364.4,300.2 366.8,299.8C369.3,299.4 371.8,299.4 374.3,299.1C376.7,298.9 379.2,298.4 381.7,298.1C384.2,297.8 386.6,297.6 389.1,297.4C391.6,297.1 394.1,297.0 396.6,296.6C399.0,296.3 401.5,295.7 404.0,295.4C406.5,295.1 408.9,295.1 411.4,294.9C413.9,294.7 416.4,294.4 418.8,294.1C421.3,293.9 423.8,293.4 426.3,293.5C428.8,293.5 431.2,294.3 433.7,294.4C436.2,294.5 438.7,294.3 441.1,294.2C443.6,294.0 446.1,293.9 448.6,293.6C451.0,293.4 453.5,292.9 456.0,292.9C458.5,292.9 460.9,293.6 463.4,293.7C465.9,293.9 468.4,293.5 470.9,293.7C473.3,293.8 475.8,294.4 478.3,294.6C480.8,294.8 483.2,294.7 485.7,294.9C488.2,295.0 490.7,295.4 493.1,295.5C495.6,295.6 498.1,295.3 500.6,295.5C503.1,295.6 505.5,296.0 508.0,296.2C510.5,296.4 513.0,296.2 515.4,296.6C517.9,297.0 520.4,298.3 522.9,298.6C525.3,299.0 527.8,298.4 530.3,298.8C532.8,299.2 535.3,300.6 537.7,301.2C540.2,301.8 542.7,302.1 545.2,302.5C547.6,302.9 550.1,303.3 552.6,303.8C555.1,304.3 557.5,304.8 560.0,305.3C562.5,305.8 565.0,306.1 567.5,306.8C569.9,307.5 572.4,308.8 574.9,309.5C577.4,310.2 579.8,310.7 582.3,311.2C584.8,311.7 587.3,311.8 589.7,312.6C592.2,313.4 594.7,315.1 597.2,316.0C599.6,316.9 602.1,317.1 604.6,317.8C607.1,318.6 609.6,319.6 612.0,320.3C614.5,321.0 617.0,321.3 619.5,321.9C621.9,322.5 624.4,323.2 626.9,324.0C629.4,324.7 631.8,325.6 634.3,326.4C636.8,327.3 639.3,328.3 641.8,329.1C644.2,330.0 646.7,330.6 649.2,331.5C651.7,332.4 654.1,333.8 656.6,334.6C659.1,335.4 661.6,335.5 664.0,336.3C666.5,337.1 669.0,338.5 671.5,339.3C674.0,340.1 676.4,340.6 678.9,341.2C681.4,341.8 683.9,342.2 686.3,342.8C688.8,343.4 691.3,344.4 693.8,345.0C696.2,345.6 698.7,345.9 701.2,346.4C703.7,346.8 706.2,347.1 708.6,347.6C711.1,348.1 713.6,348.7 716.1,349.4C718.5,350.1 721.0,351.0 723.5,351.6C726.0,352.2 729.7,352.7 730.9,353.0" stroke="#B34441"/>
<path d="M47.8,365.5C50.1,365.5 50.0,365.5 61.8,365.5C73.6,365.5 108.2,365.5 118.4,365.5C128.6,365.5 121.7,379.8 123.1,365.5C124.6,351.2 125.9,290.6 127.2,279.6C128.5,268.6 129.7,295.9 131.1,299.5C132.6,303.1 134.5,299.2 136.1,301.1C137.8,303.0 139.4,310.5 141.1,310.8C142.7,311.2 144.4,302.7 146.0,303.4C147.7,304.0 149.3,313.1 151.0,314.6C152.6,316.1 154.3,312.2 155.9,312.3C157.6,312.4 159.2,314.3 160.9,315.0C162.5,315.8 164.2,316.6 165.8,316.6C167.5,316.5 169.1,314.1 170.8,314.6C172.4,315.0 174.1,318.5 175.7,319.2C177.4,319.9 179.0,319.1 180.7,318.9C182.3,318.7 184.0,318.2 185.6,318.0C187.3,317.8 188.9,317.5 190.6,317.7C192.2,317.9 193.9,318.4 195.6,319.2C197.2,320.1 198.9,322.1 200.5,322.8C202.2,323.5 203.8,323.5 205.5,323.5C207.1,323.6 208.8,323.6 210.4,323.3C212.1,323.1 213.7,322.2 215.4,322.1C217.0,322.0 218.7,322.3 220.3,322.7C222.0,323.0 223.6,324.0 225.3,324.3C226.9,324.6 228.6,325.2 230.2,324.5C231.9,323.8 233.5,320.9 235.2,320.1C236.8,319.3 238.5,319.8 240.1,319.7C241.8,319.7 243.4,320.2 245.1,319.9C246.7,319.7 248.4,318.6 250.0,318.3C251.7,318.0 253.3,317.9 255.0,318.0C256.7,318.1 258.3,319.1 260.0,319.0C261.6,318.9 263.3,317.5 264.9,317.3C266.6,317.0 268.2,317.7 269.9,317.4C271.5,317.1 273.2,315.8 274.8,315.4C276.5,315.1 278.1,315.3 279.8,315.2C281.4,315.2 283.1,315.3 284.7,315.2C286.4,315.0 288.0,314.6 289.7,314.4C291.3,314.2 293.0,313.9 294.6,313.8C296.3,313.7 297.9,314.2 299.6,313.9C301.2,313.6 302.9,312.1 304.5,311.7C306.2,311.3 307.8,312.0 309.5,311.5C311.1,311.1 312.8,309.7 314.4,309.2C316.1,308.6 317.8,308.5 319.4,308.2C321.1,307.9 322.7,307.6 324.4,307.4C326.0,307.1 327.7,306.8 329.3,306.6C331.0,306.4 332.6,306.4 334.3,306.3C335.9,306.2 337.6,306.4 339.2,306.0C340.9,305.5 342.5,304.0 344.2,303.6C345.8,303.3 347.5,304.2 349.1,303.9C350.8,303.7 352.4,302.5 354.1,302.2C355.7,301.9 358.1,302.3 359.0,302.3C359.9,302.2 358.1,302.3 359.4,301.9C360.7,301.6 364.4,300.6 366.8,300.2C369.3,299.7 371.8,299.5 374.3,299.2C376.7,299.0 379.2,298.8 381.7,298.6C384.2,298.4 386.6,298.3 389.1,298.1C391.6,297.9 394.1,297.7 396.6,297.4C399.0,297.0 401.5,296.1 404.0,295.9C406.5,295.6 408.9,295.9 411.4,295.8C413.9,295.7 416.4,295.2 418.8,295.1C421.3,295.0 423.8,295.1 426.3,295.2C428.8,295.3 431.2,295.5 433.7,295.4C436.2,295.4 438.7,295.1 441.1,294.9C443.6,294.7 446.1,294.4 448.6,294.4C451.0,294.5 453.5,295.1 456.0,295.3C458.5,295.4 460.9,295.4 463.4,295.3C465.9,295.2 468.4,294.7 470.9,294.9C473.3,295.1 475.8,296.2 478.3,296.3C480.8,296.5 483.2,295.8 485.7,295.8C488.2,295.8 490.7,295.9 493.1,296.2C495.6,296.6 498.1,297.5 500.6,297.8C503.1,298.1 505.5,297.8 508.0,297.9C510.5,298.0 513.0,297.9 515.4,298.3C517.9,298.8 520.4,300.3 522.9,300.8C525.3,301.2 527.8,300.7 530.3,301.1C532.8,301.4 535.3,302.3 537.7,302.8C540.2,303.3 542.7,303.4 545.2,303.8C547.6,304.2 550.1,304.7 552.6,305.3C555.1,305.9 557.5,306.7 560.0,307.4C562.5,308.1 565.0,308.8 567.5,309.4C569.9,310.1 572.4,310.8 574.9,311.4C577.4,312.0 579.8,312.6 582.3,313.1C584.8,313.6 587.3,313.8 589.7,314.5C592.2,315.2 594.7,316.4 597.2,317.2C599.6,317.9 602.1,318.4 604.6,319.0C607.1,319.7 609.6,320.4 612.0,321.0C614.5,321.6 617.0,322.1 619.5,322.8C621.9,323.5 624.4,324.4 626.9,325.3C629.4,326.2 631.8,327.2 634.3,328.1C636.8,329.0 639.3,329.8 641.8,330.5C644.2,331.3 646.7,331.6 649.2,332.5C651.7,333.3 654.1,334.8 656.6,335.7C659.1,336.5 661.6,336.9 664.0,337.5C666.5,338.2 669.0,338.8 671.5,339.5C674.0,340.2 676.4,341.2 678.9,341.8C681.4,342.4 683.9,342.3 686.3,343.0C688.8,343.6 691.3,345.1 693.8,345.7C696.2,346.3 698.7,345.9 701.2,346.3C703.7,346.8 706.2,347.9 708.6,348.5C711.1,349.2 713.6,349.8 716.1,350.3C718.5,350.7 721.0,350.9 723.5,351.4C726.0,351.9 729.7,353.1 730.9,353.5" stroke="#8EAE4C"/>
<path d="M47.8,365.5C50.1,365.5 55.7,365.5 61.8,365.5C67.9,365.5 79.9,365.5 84.4,365.5C88.9,365.5 87.5,387.4 89.0,365.5C90.5,343.6 92.0,260.2 93.6,233.9C95.2,207.6 96.9,229.8 98.5,207.7C100.1,185.6 101.8,75.0 103.4,101.3C105.0,127.6 106.5,321.5 108.0,365.5C109.5,409.5 110.9,365.5 112.6,365.5C114.3,365.5 116.4,365.5 118.1,365.5C119.9,365.5 121.6,379.2 123.2,365.5C124.7,351.8 125.9,295.5 127.2,283.1C128.5,270.7 129.7,287.7 131.1,291.1C132.6,294.4 134.5,299.9 136.1,303.2C137.8,306.5 139.4,311.4 141.1,310.8C142.7,310.2 144.4,298.4 146.0,299.8C147.7,301.2 149.3,317.5 151.0,319.2C152.6,321.0 154.3,311.8 155.9,310.2C157.6,308.7 159.2,309.2 160.9,310.1C162.5,311.1 164.2,314.8 165.8,315.7C167.5,316.6 169.1,314.8 170.8,315.5C172.4,316.2 174.1,319.8 175.7,319.9C177.4,320.0 179.0,315.6 180.7,315.9C182.3,316.2 184.0,321.1 185.6,321.7C187.3,322.3 188.9,319.2 190.6,319.5C192.2,319.9 193.9,322.8 195.6,323.6C197.2,324.4 198.9,325.0 200.5,324.3C202.2,323.7 203.8,319.9 205.5,319.7C207.1,319.4 208.8,322.8 210.4,322.8C212.1,322.7 213.7,319.3 215.4,319.3C217.0,319.4 218.7,322.7 220.3,323.0C222.0,323.4 223.6,321.9 225.3,321.7C226.9,321.5 228.6,322.2 230.2,322.0C231.9,321.8 233.5,321.0 235.2,320.7C236.8,320.4 238.5,320.2 240.1,320.1C241.8,319.9 243.4,320.3 245.1,319.8C246.7,319.4 248.4,317.8 250.0,317.6C251.7,317.3 253.3,318.4 255.0,318.4C256.7,318.4 258.3,317.7 260.0,317.6C261.6,317.5 263.3,317.9 264.9,317.8C266.6,317.6 268.2,316.7 269.9,316.6C271.5,316.4 273.2,317.2 274.8,316.8C276.5,316.4 278.1,314.3 279.8,314.0C281.4,313.8 283.1,315.3 284.7,315.2C286.4,315.2 288.0,314.3 289.7,314.0C291.3,313.7 293.0,313.7 294.6,313.4C296.3,313.1 297.9,312.5 299.6,312.1C301.2,311.7 302.9,311.4 304.5,311.1C306.2,310.8 307.8,310.7 309.5,310.4C311.1,310.0 312.8,309.3 314.4,309.0C316.1,308.6 317.8,308.5 319.4,308.2C321.1,308.0 322.7,307.8 324.4,307.4C326.0,307.1 327.7,306.7 329.3,306.3C331.0,306.0 332.6,305.6 334.3,305.3C335.9,305.0 337.6,304.8 339.2,304.5C340.9,304.3 342.5,304.0 344.2,303.9C345.8,303.8 347.5,304.1 349.1,303.8C350.8,303.5 352.4,302.4 354.1,301.9C355.7,301.5 358.1,301.0 359.0,301.0C359.9,301.0 358.1,302.1 359.4,302.0C360.7,302.0 364.4,301.0 366.8,300.6C369.3,300.3 371.8,300.5 374.3,300.2C376.7,299.9 379.2,298.9 381.7,298.6C384.2,298.3 386.6,298.9 389.1,298.6C391.6,298.4 394.1,297.2 396.6,297.0C399.0,296.8 401.5,297.7 404.0,297.6C406.5,297.6 408.9,297.1 411.4,296.7C413.9,296.4 416.4,295.7 418.8,295.6C421.3,295.6 423.8,296.3 426.3,296.4C428.8,296.5 431.2,296.5 433.7,296.5C436.2,296.4 438.7,296.3 441.1,296.3C443.6,296.3 446.1,296.3 448.6,296.3C451.0,296.3 453.5,296.3 456.0,296.4C458.5,296.5 460.9,296.6 463.4,296.7C465.9,296.8 468.4,296.8 470.9,296.9C473.3,297.0 475.8,297.5 478.3,297.6C480.8,297.7 483.2,297.4 485.7,297.5C488.2,297.7 490.7,298.2 493.1,298.4C495.6,298.7 498.1,298.8 500.6,299.1C503.1,299.4 505.5,299.9 508.0,300.1C510.5,300.3 513.0,299.7 515.4,300.1C517.9,300.4 520.4,301.9 522.9,302.3C525.3,302.7 527.8,302.0 530.3,302.4C532.8,302.9 535.3,304.4 537.7,304.9C540.2,305.4 542.7,305.2 545.2,305.6C547.6,306.1 550.1,307.2 552.6,307.6C555.1,308.1 557.5,307.8 560.0,308.3C562.5,308.7 565.0,309.5 567.5,310.2C569.9,311.0 572.4,312.0 574.9,312.7C577.4,313.4 579.8,314.2 582.3,314.6C584.8,315.1 587.3,314.8 589.7,315.5C592.2,316.1 594.7,317.6 597.2,318.4C599.6,319.1 602.1,319.2 604.6,319.9C607.1,320.6 609.6,321.8 612.0,322.7C614.5,323.5 617.0,324.3 619.5,324.9C621.9,325.5 624.4,325.7 626.9,326.2C629.4,326.7 631.8,327.2 634.3,328.1C636.8,329.0 639.3,330.5 641.8,331.4C644.2,332.3 646.7,332.6 649.2,333.4C651.7,334.3 654.1,335.8 656.6,336.4C659.1,337.1 661.6,336.8 664.0,337.4C666.5,338.1 669.0,339.4 671.5,340.2C674.0,340.9 676.4,341.3 678.9,342.0C681.4,342.7 683.9,343.8 686.3,344.4C688.8,344.9 691.3,345.1 693.8,345.5C696.2,346.0 698.7,346.6 701.2,347.1C703.7,347.5 706.2,347.5 708.6,348.0C711.1,348.6 713.6,349.9 716.1,350.4C718.5,351.0 721.0,350.8 723.5,351.3C726.0,351.7 729.7,352.8 730.9,353.0" stroke="#745895"/>
<path d="M47.8,365.5C50.1,365.5 50.1,365.5 61.8,365.5C73.5,365.5 108.2,365.5 118.3,365.5C128.4,365.5 120.9,378.5 122.4,365.5C123.9,352.5 125.7,298.3 127.2,287.3C128.7,276.3 129.7,295.9 131.1,299.4C132.6,302.8 134.5,305.3 136.1,307.7C137.8,310.1 139.4,315.5 141.1,313.7C142.7,311.9 144.4,296.1 146.0,297.2C147.7,298.3 149.3,318.2 151.0,320.5C152.6,322.8 154.3,313.1 155.9,311.0C157.6,308.9 159.2,305.7 160.9,307.6C162.5,309.5 164.2,321.5 165.8,322.4C167.5,323.3 169.1,313.2 170.8,312.8C172.4,312.5 174.1,319.6 175.7,320.3C177.4,321.0 179.0,317.7 180.7,317.0C182.3,316.4 184.0,316.0 185.6,316.2C187.3,316.5 188.9,317.8 190.6,318.5C192.2,319.2 193.9,320.0 195.6,320.2C197.2,320.4 198.9,319.4 200.5,319.4C202.2,319.4 203.8,319.5 205.5,320.2C207.1,320.9 208.8,323.2 210.4,323.4C212.1,323.5 213.7,321.0 215.4,321.1C217.0,321.1 218.7,324.1 220.3,323.9C222.0,323.7 223.6,320.1 225.3,319.8C226.9,319.6 228.6,322.5 230.2,322.3C231.9,322.2 233.5,319.8 235.2,319.0C236.8,318.2 238.5,317.4 240.1,317.3C241.8,317.2 243.4,318.0 245.1,318.3C246.7,318.6 248.4,318.9 250.0,318.9C251.7,318.9 253.3,318.5 255.0,318.3C256.7,318.1 258.3,318.3 260.0,317.9C261.6,317.5 263.3,316.4 264.9,316.0C266.6,315.7 268.2,315.9 269.9,315.8C271.5,315.6 273.2,315.6 274.8,315.2C276.5,314.7 278.1,313.2 279.8,313.1C281.4,313.1 283.1,314.8 284.7,314.9C286.4,315.0 288.0,314.1 289.7,313.8C291.3,313.5 293.0,313.3 294.6,313.0C296.3,312.7 297.9,312.4 299.6,312.1C301.2,311.7 302.9,311.1 304.5,310.8C306.2,310.4 307.8,310.5 309.5,310.1C311.1,309.7 312.8,308.8 314.4,308.4C316.1,308.0 317.8,308.0 319.4,307.9C321.1,307.7 322.7,307.8 324.4,307.6C326.0,307.5 327.7,307.4 329.3,307.0C331.0,306.6 332.6,305.6 334.3,305.3C335.9,305.0 337.6,305.6 339.2,305.4C340.9,305.2 342.5,304.6 344.2,304.3C345.8,303.9 347.5,303.5 349.1,303.3C350.8,303.1 352.4,303.2 354.1,303.0C355.7,302.8 358.1,302.1 359.0,301.9C359.9,301.8 358.1,302.1 359.4,301.9C360.7,301.7 364.4,301.1 366.8,300.7C369.3,300.3 371.8,299.8 374.3,299.6C376.7,299.4 379.2,299.7 381.7,299.6C384.2,299.5 386.6,299.0 389.1,298.8C391.6,298.7 394.1,298.8 396.6,298.7C399.0,298.5 401.5,298.0 404.0,297.8C406.5,297.7 408.9,297.7 411.4,297.5C413.9,297.4 416.4,296.9 418.8,297.0C421.3,297.0 423.8,297.8 426.3,297.9C428.8,298.0 431.2,297.4 433.7,297.4C436.2,297.3 438.7,297.7 441.1,297.6C443.6,297.6 446.1,297.0 448.6,297.0C451.0,297.0 453.5,297.5 456.0,297.7C458.5,297.9 460.9,298.2 463.4,298.3C465.9,298.5 468.4,298.6 470.9,298.7C473.3,298.7 475.8,298.2 478.3,298.4C480.8,298.6 483.2,299.5 485.7,299.8C488.2,300.1 490.7,300.1 493.1,300.3C495.6,300.5 498.1,300.6 500.6,300.8C503.1,301.1 505.5,301.9 508.0,302.1C510.5,302.2 513.0,301.4 515.4,301.7C517.9,301.9 520.4,303.0 522.9,303.4C525.3,303.8 527.8,303.8 530.3,304.3C532.8,304.8 535.3,305.8 537.7,306.3C540.2,306.7 542.7,306.8 545.2,307.1C547.6,307.4 550.1,307.9 552.6,308.3C555.1,308.8 557.5,309.4 560.0,309.9C562.5,310.4 565.0,310.7 567.5,311.3C569.9,311.8 572.4,312.4 574.9,313.3C577.4,314.1 579.8,315.8 582.3,316.5C584.8,317.1 587.3,316.8 589.7,317.3C592.2,317.9 594.7,319.2 597.2,319.8C599.6,320.4 602.1,320.4 604.6,321.0C607.1,321.5 609.6,322.6 612.0,323.3C614.5,324.0 617.0,324.5 619.5,325.2C621.9,325.9 624.4,326.9 626.9,327.6C629.4,328.3 631.8,328.7 634.3,329.4C636.8,330.0 639.3,330.6 641.8,331.5C644.2,332.4 646.7,333.7 649.2,334.6C651.7,335.6 654.1,336.7 656.6,337.4C659.1,338.1 661.6,338.5 664.0,338.9C666.5,339.3 669.0,339.4 671.5,339.9C674.0,340.5 676.4,341.5 678.9,342.2C681.4,342.9 683.9,343.6 686.3,344.2C688.8,344.9 691.3,345.6 693.8,346.0C696.2,346.5 698.7,346.6 701.2,347.0C703.7,347.5 706.2,348.2 708.6,348.7C711.1,349.2 713.6,349.6 716.1,350.2C718.5,350.7 721.0,351.5 723.5,352.0C726.0,352.5 729.7,352.9 730.9,353.1" stroke="#3E9FB9"/>
<path d="M47.8,365.5C50.1,365.5 50.0,365.5 61.8,365.5C73.6,365.5 108.2,365.5 118.4,365.5C128.6,365.5 121.6,378.6 123.1,365.5C124.6,352.4 125.9,299.4 127.2,286.9C128.5,274.4 129.7,289.3 131.1,290.4C132.6,291.5 134.5,289.2 136.1,293.3C137.8,297.5 139.4,312.9 141.1,315.2C142.7,317.5 144.4,307.1 146.0,307.3C147.7,307.5 149.3,316.3 151.0,316.6C152.6,316.8 154.3,309.4 155.9,309.0C157.6,308.5 159.2,312.1 160.9,313.8C162.5,315.6 164.2,319.3 165.8,319.3C167.5,319.4 169.1,314.0 170.8,314.0C172.4,314.1 174.1,318.9 175.7,319.5C177.4,320.1 179.0,317.9 180.7,317.5C182.3,317.1 184.0,317.4 185.6,317.1C187.3,316.8 188.9,315.6 190.6,315.7C192.2,315.8 193.9,317.1 195.6,317.7C197.2,318.2 198.9,318.4 200.5,318.7C202.2,319.1 203.8,319.2 205.5,319.9C207.1,320.5 208.8,322.3 210.4,322.5C212.1,322.6 213.7,321.0 215.4,320.6C217.0,320.2 218.7,320.0 220.3,320.0C222.0,320.0 223.6,320.9 225.3,320.7C226.9,320.5 228.6,319.1 230.2,318.7C231.9,318.3 233.5,318.1 235.2,318.1C236.8,318.1 238.5,318.5 240.1,318.4C241.8,318.4 243.4,317.8 245.1,318.0C246.7,318.2 248.4,319.8 250.0,319.6C251.7,319.5 253.3,317.4 255.0,317.0C256.7,316.6 258.3,317.4 260.0,317.2C261.6,316.9 263.3,315.6 264.9,315.4C266.6,315.2 268.2,316.2 269.9,316.0C271.5,315.8 273.2,314.7 274.8,314.4C276.5,314.0 278.1,314.1 279.8,313.9C281.4,313.8 283.1,313.7 284.7,313.5C286.4,313.2 288.0,312.7 289.7,312.5C291.3,312.3 293.0,312.6 294.6,312.4C296.3,312.3 297.9,312.0 299.6,311.7C301.2,311.3 302.9,310.8 304.5,310.4C306.2,310.0 307.8,309.6 309.5,309.2C311.1,308.9 312.8,308.8 314.4,308.5C316.1,308.3 317.8,308.0 319.4,307.8C321.1,307.6 322.7,307.6 324.4,307.4C326.0,307.2 327.7,306.8 329.3,306.5C331.0,306.1 332.6,305.7 334.3,305.4C335.9,305.1 337.6,304.9 339.2,304.7C340.9,304.5 342.5,304.6 344.2,304.2C345.8,303.9 347.5,302.8 349.1,302.5C350.8,302.3 352.4,303.0 354.1,302.8C355.7,302.6 358.1,301.5 359.0,301.3C359.9,301.2 358.1,301.8 359.4,301.8C360.7,301.7 364.4,301.6 366.8,301.3C369.3,301.0 371.8,300.1 374.3,299.9C376.7,299.7 379.2,300.3 381.7,300.2C384.2,300.1 386.6,299.5 389.1,299.3C391.6,299.0 394.1,298.8 396.6,298.6C399.0,298.4 401.5,297.9 404.0,297.8C406.5,297.8 408.9,298.1 411.4,298.2C413.9,298.3 416.4,298.4 418.8,298.4C421.3,298.5 423.8,298.6 426.3,298.5C428.8,298.4 431.2,297.8 433.7,297.9C436.2,297.9 438.7,298.8 441.1,298.8C443.6,298.8 446.1,298.0 448.6,298.1C451.0,298.2 453.5,299.0 456.0,299.3C458.5,299.6 460.9,299.6 463.4,299.8C465.9,299.9 468.4,300.1 470.9,300.2C473.3,300.4 475.8,300.6 478.3,300.7C480.8,300.7 483.2,300.2 485.7,300.4C488.2,300.6 490.7,301.5 493.1,301.8C495.6,302.0 498.1,301.8 500.6,302.0C503.1,302.2 505.5,302.6 508.0,302.8C510.5,303.0 513.0,303.0 515.4,303.4C517.9,303.8 520.4,304.7 522.9,305.2C525.3,305.6 527.8,305.8 530.3,306.1C532.8,306.3 535.3,306.4 537.7,306.9C540.2,307.4 542.7,308.5 545.2,309.0C547.6,309.5 550.1,309.5 552.6,309.9C555.1,310.3 557.5,310.6 560.0,311.2C562.5,311.7 565.0,312.6 567.5,313.2C569.9,313.7 572.4,313.7 574.9,314.5C577.4,315.3 579.8,317.1 582.3,317.8C584.8,318.6 587.3,318.2 589.7,318.8C592.2,319.4 594.7,320.7 597.2,321.4C599.6,322.0 602.1,322.2 604.6,322.7C607.1,323.3 609.6,323.9 612.0,324.4C614.5,325.0 617.0,325.6 619.5,326.3C621.9,327.0 624.4,328.1 626.9,328.8C629.4,329.4 631.8,329.4 634.3,330.2C636.8,331.0 639.3,332.7 641.8,333.5C644.2,334.3 646.7,334.1 649.2,334.8C651.7,335.5 654.1,336.7 656.6,337.5C659.1,338.3 661.6,339.0 664.0,339.7C666.5,340.4 669.0,341.0 671.5,341.7C674.0,342.3 676.4,342.8 678.9,343.3C681.4,343.9 683.9,344.4 686.3,344.9C688.8,345.3 691.3,345.6 693.8,346.0C696.2,346.3 698.7,346.7 701.2,347.2C703.7,347.6 706.2,348.1 708.6,348.7C711.1,349.4 713.6,350.2 716.1,350.9C718.5,351.5 721.0,352.2 723.5,352.6C726.0,353.0 729.7,353.2 730.9,353.3" stroke="#E88737"/>
<path d="M47.8,365.5C50.1,365.5 50.0,365.5 61.8,365.5C73.6,365.5 108.3,365.5 118.5,365.5C128.8,365.5 121.9,377.4 123.3,365.5C124.8,353.6 125.9,306.0 127.2,294.2C128.5,282.3 129.7,293.0 131.1,294.4C132.6,295.8 134.5,301.5 136.1,302.6C137.8,303.7 139.4,300.3 141.1,301.2C142.7,302.0 144.4,305.5 146.0,307.8C147.7,310.1 149.3,315.6 151.0,315.0C152.6,314.4 154.3,304.8 155.9,304.1C157.6,303.3 159.2,307.9 160.9,310.5C162.5,313.0 164.2,319.6 165.8,319.4C167.5,319.1 169.1,308.7 170.8,309.0C172.4,309.4 174.1,319.7 175.7,321.4C177.4,323.1 179.0,319.7 180.7,319.3C182.3,318.8 184.0,319.3 185.6,318.7C187.3,318.2 188.9,316.2 190.6,315.9C192.2,315.6 193.9,316.4 195.6,317.0C197.2,317.5 198.9,319.3 200.5,319.3C202.2,319.3 203.8,316.7 205.5,317.0C207.1,317.3 208.8,320.6 210.4,321.0C212.1,321.4 213.7,319.3 215.4,319.2C217.0,319.2 218.7,321.0 220.3,320.9C222.0,320.7 223.6,318.7 225.3,318.5C226.9,318.2 228.6,319.2 230.2,319.2C231.9,319.2 233.5,319.0 235.2,318.4C236.8,317.9 238.5,316.2 240.1,315.9C241.8,315.5 243.4,316.4 245.1,316.4C246.7,316.5 248.4,316.0 250.0,316.2C251.7,316.4 253.3,317.5 255.0,317.6C256.7,317.8 258.3,317.4 260.0,317.1C261.6,316.8 263.3,316.2 264.9,315.9C266.6,315.5 268.2,315.4 269.9,315.1C271.5,314.9 273.2,314.7 274.8,314.4C276.5,314.1 278.1,313.5 279.8,313.3C281.4,313.0 283.1,312.9 284.7,312.9C286.4,312.8 288.0,313.3 289.7,313.1C291.3,312.9 293.0,312.0 294.6,311.7C296.3,311.5 297.9,311.7 299.6,311.5C301.2,311.3 302.9,310.7 304.5,310.4C306.2,310.0 307.8,309.9 309.5,309.4C311.1,309.0 312.8,308.1 314.4,307.7C316.1,307.4 317.8,307.5 319.4,307.4C321.1,307.3 322.7,307.6 324.4,307.3C326.0,307.1 327.7,306.1 329.3,305.7C331.0,305.4 332.6,305.4 334.3,305.2C335.9,305.0 337.6,304.8 339.2,304.6C340.9,304.3 342.5,304.2 344.2,303.9C345.8,303.6 347.5,303.0 349.1,302.7C350.8,302.4 352.4,302.4 354.1,302.3C355.7,302.2 358.1,302.0 359.0,302.1C359.9,302.1 358.1,302.5 359.4,302.4C360.7,302.3 364.4,301.6 366.8,301.2C369.3,300.8 371.8,300.1 374.3,299.9C376.7,299.7 379.2,300.1 381.7,300.1C384.2,300.1 386.6,299.8 389.1,299.7C391.6,299.6 394.1,299.6 396.6,299.4C399.0,299.2 401.5,298.7 404.0,298.6C406.5,298.4 408.9,298.6 411.4,298.6C413.9,298.6 416.4,298.6 418.8,298.7C421.3,298.7 423.8,298.5 426.3,298.6C428.8,298.7 431.2,299.0 433.7,299.1C436.2,299.3 438.7,299.3 441.1,299.4C443.6,299.5 446.1,299.7 448.6,299.9C451.0,300.1 453.5,300.5 456.0,300.6C458.5,300.7 460.9,300.6 463.4,300.6C465.9,300.5 468.4,300.1 470.9,300.4C473.3,300.7 475.8,302.1 478.3,302.4C480.8,302.7 483.2,302.2 485.7,302.2C488.2,302.2 490.7,302.4 493.1,302.6C495.6,302.8 498.1,303.0 500.6,303.4C503.1,303.8 505.5,304.4 508.0,304.7C510.5,305.0 513.0,305.0 515.4,305.2C517.9,305.4 520.4,305.8 522.9,306.0C525.3,306.3 527.8,306.4 530.3,306.8C532.8,307.3 535.3,308.3 537.7,308.8C540.2,309.2 542.7,309.0 545.2,309.4C547.6,309.9 550.1,310.9 552.6,311.4C555.1,312.0 557.5,312.3 560.0,312.9C562.5,313.4 565.0,314.2 567.5,314.8C569.9,315.3 572.4,315.8 574.9,316.4C577.4,317.1 579.8,318.0 582.3,318.6C584.8,319.1 587.3,319.2 589.7,319.7C592.2,320.2 594.7,320.9 597.2,321.5C599.6,322.2 602.1,322.9 604.6,323.5C607.1,324.1 609.6,324.4 612.0,325.1C614.5,325.8 617.0,327.0 619.5,327.6C621.9,328.3 624.4,328.3 626.9,329.0C629.4,329.7 631.8,331.1 634.3,331.9C636.8,332.8 639.3,333.5 641.8,334.1C644.2,334.8 646.7,335.1 649.2,335.9C651.7,336.6 654.1,338.0 656.6,338.6C659.1,339.2 661.6,338.9 664.0,339.4C666.5,339.8 669.0,340.7 671.5,341.3C674.0,342.0 676.4,342.8 678.9,343.4C681.4,344.0 683.9,344.2 686.3,344.7C688.8,345.3 691.3,346.2 693.8,346.8C696.2,347.4 698.7,347.8 701.2,348.2C703.7,348.6 706.2,348.9 708.6,349.3C711.1,349.8 713.6,350.7 716.1,351.1C718.5,351.5 721.0,351.2 723.5,351.6C726.0,352.0 729.7,353.2 730.9,353.5" stroke="#467AB9"/>
<path d="M47.8,365.5C50.1,365.5 54.5,365.5 61.8,365.5C69.1,365.5 86.2,365.5 91.7,365.5C97.2,365.5 93.9,383.4 95.0,365.5C96.1,347.6 97.0,258.0 98.3,258.0C99.6,258.0 101.4,347.6 102.9,365.5C104.4,383.4 104.9,365.5 107.5,365.5C110.1,365.5 116.0,365.5 118.6,365.5C121.1,365.5 121.4,380.4 122.8,365.5C124.3,350.6 125.8,288.5 127.2,276.4C128.6,264.3 129.7,289.7 131.1,293.1C132.6,296.5 134.5,293.5 136.1,296.5C137.8,299.6 139.4,310.4 141.1,311.4C142.7,312.3 144.4,301.4 146.0,302.3C147.7,303.2 149.3,315.9 151.0,316.7C152.6,317.6 154.3,309.4 155.9,307.5C157.6,305.5 159.2,303.1 160.9,304.9C162.5,306.7 164.2,316.9 165.8,318.2C167.5,319.4 169.1,312.7 170.8,312.4C172.4,312.2 174.1,316.4 175.7,316.6C177.4,316.8 179.0,313.8 180.7,313.7C182.3,313.5 184.0,315.4 185.6,315.9C187.3,316.3 188.9,316.1 190.6,316.6C192.2,317.0 193.9,318.3 195.6,318.6C197.2,318.9 198.9,318.3 200.5,318.3C202.2,318.3 203.8,318.1 205.5,318.5C207.1,319.0 208.8,321.0 210.4,321.0C212.1,321.1 213.7,319.4 215.4,319.0C217.0,318.6 218.7,318.4 220.3,318.5C222.0,318.7 223.6,319.5 225.3,319.6C226.9,319.8 228.6,320.0 230.2,319.4C231.9,318.8 233.5,316.8 235.2,316.3C236.8,315.8 238.5,316.4 240.1,316.4C241.8,316.5 243.4,316.7 245.1,316.7C246.7,316.6 248.4,316.1 250.0,316.0C251.7,315.9 253.3,316.3 255.0,316.2C256.7,316.0 258.3,315.5 260.0,315.3C261.6,315.1 263.3,315.1 264.9,314.9C266.6,314.7 268.2,314.3 269.9,314.3C271.5,314.3 273.2,315.2 274.8,314.9C276.5,314.7 278.1,313.1 279.8,312.7C281.4,312.4 283.1,312.8 284.7,312.7C286.4,312.5 288.0,312.0 289.7,311.8C291.3,311.7 293.0,311.8 294.6,311.7C296.3,311.5 297.9,311.1 299.6,311.0C301.2,310.8 302.9,310.9 304.5,310.7C306.2,310.5 307.8,310.1 309.5,309.7C311.1,309.4 312.8,309.0 314.4,308.6C316.1,308.3 317.8,307.8 319.4,307.4C321.1,307.0 322.7,306.6 324.4,306.2C326.0,305.8 327.7,305.2 329.3,305.1C331.0,305.0 332.6,305.7 334.3,305.6C335.9,305.5 337.6,304.8 339.2,304.4C340.9,304.0 342.5,303.4 344.2,303.2C345.8,303.0 347.5,303.2 349.1,303.1C350.8,303.1 352.4,303.4 354.1,303.1C355.7,302.7 358.1,301.2 359.0,301.0C359.9,300.9 358.1,302.0 359.4,302.0C360.7,302.0 364.4,301.2 366.8,300.8C369.3,300.4 371.8,299.7 374.3,299.5C376.7,299.4 379.2,299.8 381.7,299.8C384.2,299.8 386.6,299.6 389.1,299.5C391.6,299.4 394.1,299.1 396.6,299.1C399.0,299.1 401.5,299.4 404.0,299.5C406.5,299.7 408.9,300.1 411.4,300.0C413.9,299.9 416.4,298.9 418.8,298.8C421.3,298.8 423.8,299.6 426.3,299.8C428.8,299.9 431.2,299.6 433.7,299.7C436.2,299.8 438.7,300.2 441.1,300.4C443.6,300.6 446.1,300.7 448.6,300.8C451.0,300.9 453.5,300.7 456.0,300.9C458.5,301.0 460.9,301.5 463.4,301.7C465.9,301.8 468.4,301.7 470.9,301.8C473.3,302.0 475.8,302.4 478.3,302.6C480.8,302.8 483.2,302.7 485.7,302.9C488.2,303.0 490.7,303.1 493.1,303.5C495.6,303.8 498.1,304.7 500.6,305.0C503.1,305.2 505.5,304.7 508.0,304.9C510.5,305.2 513.0,306.1 515.4,306.4C517.9,306.7 520.4,306.4 522.9,306.7C525.3,307.1 527.8,308.1 530.3,308.6C532.8,309.1 535.3,309.5 537.7,309.7C540.2,310.0 542.7,309.7 545.2,310.2C547.6,310.6 550.1,311.7 552.6,312.4C555.1,313.1 557.5,313.8 560.0,314.4C562.5,315.0 565.0,315.5 567.5,316.0C569.9,316.4 572.4,316.5 574.9,317.0C577.4,317.5 579.8,318.5 582.3,319.0C584.8,319.5 587.3,319.6 589.7,320.2C592.2,320.8 594.7,321.9 597.2,322.6C599.6,323.3 602.1,323.9 604.6,324.4C607.1,325.0 609.6,325.3 612.0,325.8C614.5,326.3 617.0,326.7 619.5,327.4C621.9,328.1 624.4,329.5 626.9,330.1C629.4,330.7 631.8,330.5 634.3,331.2C636.8,331.9 639.3,333.4 641.8,334.2C644.2,334.9 646.7,335.1 649.2,335.7C651.7,336.3 654.1,337.1 656.6,337.7C659.1,338.4 661.6,338.9 664.0,339.5C666.5,340.2 669.0,341.0 671.5,341.6C674.0,342.1 676.4,342.5 678.9,343.0C681.4,343.5 683.9,343.8 686.3,344.4C688.8,345.1 691.3,346.5 693.8,347.1C696.2,347.6 698.7,347.4 701.2,347.8C703.7,348.2 706.2,349.0 708.6,349.4C711.1,349.9 713.6,350.4 716.1,350.8C718.5,351.2 721.0,351.6 723.5,352.0C726.0,352.4 729.7,353.0 730.9,353.2" stroke="#BC4744"/>
<path d="M47.8,365.5C50.1,365.5 52.8,365.5 61.8,365.5C70.8,365.5 94.4,365.5 102.0,365.5C109.6,365.5 105.5,419.4 107.3,365.5C109.1,311.6 110.8,42.1 112.6,42.1C114.4,42.1 116.1,311.6 117.9,365.5C119.7,419.4 121.7,380.0 123.3,365.5C124.8,351.0 125.9,290.4 127.2,278.6C128.5,266.8 129.7,292.7 131.1,294.7C132.6,296.8 134.5,287.7 136.1,291.0C137.8,294.3 139.4,312.3 141.1,314.5C142.7,316.7 144.4,303.4 146.0,304.2C147.7,304.9 149.3,318.4 151.0,318.8C152.6,319.3 154.3,308.7 155.9,307.1C157.6,305.5 159.2,308.0 160.9,309.2C162.5,310.5 164.2,313.9 165.8,314.5C167.5,315.2 169.1,313.3 170.8,313.1C172.4,313.0 174.1,313.7 175.7,313.7C177.4,313.6 179.0,312.6 180.7,312.9C182.3,313.3 184.0,314.8 185.6,315.6C187.3,316.5 188.9,317.5 190.6,318.0C192.2,318.5 193.9,318.3 195.6,318.6C197.2,319.0 198.9,320.4 200.5,320.0C202.2,319.5 203.8,316.2 205.5,315.8C207.1,315.4 208.8,317.0 210.4,317.7C212.1,318.3 213.7,319.7 215.4,319.5C217.0,319.3 218.7,316.5 220.3,316.4C222.0,316.4 223.6,318.5 225.3,319.1C226.9,319.7 228.6,320.7 230.2,320.0C231.9,319.4 233.5,315.8 235.2,314.9C236.8,314.0 238.5,314.5 240.1,314.8C241.8,315.1 243.4,316.2 245.1,316.5C246.7,316.9 248.4,317.4 250.0,317.0C251.7,316.5 253.3,313.9 255.0,313.6C256.7,313.3 258.3,315.1 260.0,315.2C261.6,315.4 263.3,314.7 264.9,314.4C266.6,314.1 268.2,313.6 269.9,313.3C271.5,313.0 273.2,312.8 274.8,312.6C276.5,312.5 278.1,312.3 279.8,312.3C281.4,312.4 283.1,313.1 284.7,312.9C286.4,312.7 288.0,311.2 289.7,311.0C291.3,310.8 293.0,312.0 294.6,311.9C296.3,311.8 297.9,310.7 299.6,310.3C301.2,309.8 302.9,309.5 304.5,309.2C306.2,308.9 307.8,308.6 309.5,308.3C311.1,308.1 312.8,307.9 314.4,307.6C316.1,307.4 317.8,307.1 319.4,306.9C321.1,306.6 322.7,306.3 324.4,306.2C326.0,306.0 327.7,306.1 329.3,305.9C331.0,305.7 332.6,305.2 334.3,304.9C335.9,304.6 337.6,304.4 339.2,304.3C340.9,304.2 342.5,304.3 344.2,304.1C345.8,303.9 347.5,303.7 349.1,303.3C350.8,302.9 352.4,302.1 354.1,301.8C355.7,301.4 358.1,301.1 359.0,301.2C359.9,301.2 358.1,302.3 359.4,302.2C360.7,302.0 364.4,300.8 366.8,300.4C369.3,300.1 371.8,300.2 374.3,300.1C376.7,300.0 379.2,299.9 381.7,299.8C384.2,299.8 386.6,299.7 389.1,299.9C391.6,300.2 394.1,301.0 396.6,301.1C399.0,301.2 401.5,300.6 404.0,300.4C406.5,300.2 408.9,300.2 411.4,300.0C413.9,299.9 416.4,299.4 418.8,299.6C421.3,299.8 423.8,300.9 426.3,301.2C428.8,301.6 431.2,301.6 433.7,301.7C436.2,301.8 438.7,301.7 441.1,301.8C443.6,301.9 446.1,302.1 448.6,302.2C451.0,302.3 453.5,302.2 456.0,302.5C458.5,302.7 460.9,303.5 463.4,303.6C465.9,303.7 468.4,303.1 470.9,303.1C473.3,303.2 475.8,303.9 478.3,304.1C480.8,304.4 483.2,304.3 485.7,304.6C488.2,304.9 490.7,305.4 493.1,305.7C495.6,306.1 498.1,306.7 500.6,306.9C503.1,307.2 505.5,307.4 508.0,307.5C510.5,307.6 513.0,307.1 515.4,307.5C517.9,307.9 520.4,309.4 522.9,309.8C525.3,310.2 527.8,309.7 530.3,309.9C532.8,310.1 535.3,310.5 537.7,311.0C540.2,311.4 542.7,312.2 545.2,312.8C547.6,313.3 550.1,313.8 552.6,314.2C555.1,314.7 557.5,314.8 560.0,315.3C562.5,315.7 565.0,316.2 567.5,316.8C569.9,317.4 572.4,318.4 574.9,319.1C577.4,319.7 579.8,320.3 582.3,320.8C584.8,321.3 587.3,321.4 589.7,322.0C592.2,322.6 594.7,323.7 597.2,324.2C599.6,324.8 602.1,324.9 604.6,325.4C607.1,325.9 609.6,326.6 612.0,327.2C614.5,327.7 617.0,328.0 619.5,328.7C621.9,329.4 624.4,331.0 626.9,331.6C629.4,332.2 631.8,331.8 634.3,332.4C636.8,332.9 639.3,333.9 641.8,334.7C644.2,335.4 646.7,336.4 649.2,337.1C651.7,337.8 654.1,338.4 656.6,338.9C659.1,339.4 661.6,339.6 664.0,340.2C666.5,340.7 669.0,341.5 671.5,342.2C674.0,342.8 676.4,343.4 678.9,343.9C681.4,344.4 683.9,344.8 686.3,345.3C688.8,345.8 691.3,346.4 693.8,347.0C696.2,347.6 698.7,348.3 701.2,348.8C703.7,349.3 706.2,349.5 708.6,349.9C711.1,350.3 713.6,350.7 716.1,351.0C718.5,351.4 721.0,351.8 723.5,352.2C726.0,352.5 729.7,352.9 730.9,353.1" stroke="#95B750"/>
<path d="M47.8,365.5C50.1,365.5 50.1,365.5 61.8,365.5C73.5,365.5 108.0,365.5 118.2,365.5C128.3,365.5 121.1,379.7 122.6,365.5C124.1,351.3 125.8,294.3 127.2,280.3C128.6,266.3 129.7,278.6 131.1,281.5C132.6,284.3 134.5,292.7 136.1,297.4C137.8,302.0 139.4,308.4 141.1,309.3C142.7,310.3 144.4,301.7 146.0,303.1C147.7,304.5 149.3,316.7 151.0,317.6C152.6,318.4 154.3,310.5 155.9,308.1C157.6,305.8 159.2,301.8 160.9,303.6C162.5,305.5 164.2,318.4 165.8,319.4C167.5,320.4 169.1,310.2 170.8,309.7C172.4,309.1 174.1,315.8 175.7,316.2C177.4,316.7 179.0,312.6 180.7,312.4C182.3,312.3 184.0,315.1 185.6,315.2C187.3,315.3 188.9,312.8 190.6,313.1C192.2,313.4 193.9,316.5 195.6,317.0C197.2,317.5 198.9,315.2 200.5,315.8C202.2,316.4 203.8,320.0 205.5,320.4C207.1,320.7 208.8,318.4 210.4,317.7C212.1,316.9 213.7,315.4 215.4,315.9C217.0,316.4 218.7,320.5 220.3,320.7C222.0,320.9 223.6,317.3 225.3,317.0C226.9,316.7 228.6,319.3 230.2,318.9C231.9,318.5 233.5,315.1 235.2,314.7C236.8,314.2 238.5,316.0 240.1,316.1C241.8,316.3 243.4,315.5 245.1,315.4C246.7,315.2 248.4,315.1 250.0,315.2C251.7,315.2 253.3,316.2 255.0,315.9C256.7,315.5 258.3,313.5 260.0,313.0C261.6,312.5 263.3,312.8 264.9,313.0C266.6,313.2 268.2,314.4 269.9,314.2C271.5,314.1 273.2,312.6 274.8,312.1C276.5,311.7 278.1,311.4 279.8,311.4C281.4,311.5 283.1,312.3 284.7,312.4C286.4,312.5 288.0,312.3 289.7,311.9C291.3,311.5 293.0,310.2 294.6,310.0C296.3,309.7 297.9,310.7 299.6,310.4C301.2,310.2 302.9,309.2 304.5,308.7C306.2,308.3 307.8,308.0 309.5,307.7C311.1,307.4 312.8,307.2 314.4,307.1C316.1,307.0 317.8,307.4 319.4,307.2C321.1,307.0 322.7,306.2 324.4,305.9C326.0,305.7 327.7,306.0 329.3,305.9C331.0,305.8 332.6,305.5 334.3,305.2C335.9,304.8 337.6,304.0 339.2,303.8C340.9,303.6 342.5,304.0 344.2,303.8C345.8,303.7 347.5,302.9 349.1,302.7C350.8,302.5 352.4,302.9 354.1,302.7C355.7,302.5 358.1,301.8 359.0,301.6C359.9,301.4 358.1,301.8 359.4,301.8C360.7,301.7 364.4,301.6 366.8,301.4C369.3,301.2 371.8,300.8 374.3,300.6C376.7,300.4 379.2,300.3 381.7,300.2C384.2,300.1 386.6,300.2 389.1,300.2C391.6,300.2 394.1,300.4 396.6,300.5C399.0,300.6 401.5,300.9 404.0,300.9C406.5,300.9 408.9,300.7 411.4,300.7C413.9,300.7 416.4,300.6 418.8,300.7C421.3,300.9 423.8,301.5 426.3,301.6C428.8,301.8 431.2,301.6 433.7,301.7C436.2,301.7 438.7,301.6 441.1,301.8C443.6,302.0 446.1,302.7 448.6,302.8C451.0,302.9 453.5,302.4 456.0,302.5C458.5,302.7 460.9,303.2 463.4,303.6C465.9,303.9 468.4,304.2 470.9,304.5C473.3,304.8 475.8,305.1 478.3,305.2C480.8,305.3 483.2,305.2 485.7,305.4C488.2,305.5 490.7,305.8 493.1,306.0C495.6,306.3 498.1,306.4 500.6,306.7C503.1,307.1 505.5,307.6 508.0,307.9C510.5,308.3 513.0,308.4 515.4,308.7C517.9,308.9 520.4,309.0 522.9,309.3C525.3,309.7 527.8,310.2 530.3,310.7C532.8,311.2 535.3,312.0 537.7,312.4C540.2,312.8 542.7,312.8 545.2,313.1C547.6,313.4 550.1,313.6 552.6,314.2C555.1,314.7 557.5,315.7 560.0,316.4C562.5,317.1 565.0,317.8 567.5,318.3C569.9,318.7 572.4,318.6 574.9,319.0C577.4,319.4 579.8,320.2 582.3,320.7C584.8,321.2 587.3,321.3 589.7,322.0C592.2,322.8 594.7,324.3 597.2,325.1C599.6,325.9 602.1,326.4 604.6,326.7C607.1,327.1 609.6,326.7 612.0,327.2C614.5,327.7 617.0,329.0 619.5,329.7C621.9,330.3 624.4,330.5 626.9,331.1C629.4,331.7 631.8,332.6 634.3,333.2C636.8,333.8 639.3,334.0 641.8,334.7C644.2,335.4 646.7,336.5 649.2,337.2C651.7,338.0 654.1,338.8 656.6,339.4C659.1,340.0 661.6,340.1 664.0,340.7C666.5,341.3 669.0,342.4 671.5,342.9C674.0,343.4 676.4,343.4 678.9,343.9C681.4,344.3 683.9,345.0 686.3,345.6C688.8,346.2 691.3,347.0 693.8,347.5C696.2,348.1 698.7,348.4 701.2,348.8C703.7,349.3 706.2,349.7 708.6,350.1C711.1,350.5 713.6,351.1 716.1,351.4C718.5,351.8 721.0,351.9 723.5,352.2C726.0,352.4 729.7,352.9 730.9,353.0" stroke="#7A5C9D"/>
<path d="M47.8,365.5C50.1,365.5 54.0,365.5 61.8,365.5C69.6,365.5 88.6,365.5 94.8,365.5C101.0,365.5 97.7,410.7 99.2,365.5C100.7,320.3 102.1,94.1 103.6,94.1C105.1,94.1 106.8,320.3 108.4,365.5C110.0,410.7 111.5,365.5 113.2,365.5C114.9,365.5 116.7,365.5 118.4,365.5C120.0,365.5 121.6,380.0 123.0,365.5C124.5,351.0 125.8,289.4 127.2,278.4C128.6,267.5 129.7,295.3 131.1,299.9C132.6,304.4 134.5,305.5 136.1,305.8C137.8,306.1 139.4,302.5 141.1,301.7C142.7,300.8 144.4,298.7 146.0,300.7C147.7,302.8 149.3,312.4 151.0,314.0C152.6,315.7 154.3,311.0 155.9,310.6C157.6,310.3 159.2,311.7 160.9,311.7C162.5,311.7 164.2,310.8 165.8,310.7C167.5,310.7 169.1,310.8 170.8,311.6C172.4,312.4 174.1,315.0 175.7,315.7C177.4,316.3 179.0,316.5 180.7,315.6C182.3,314.7 184.0,310.5 185.6,310.2C187.3,309.9 188.9,313.1 190.6,313.9C192.2,314.8 193.9,315.0 195.6,315.2C197.2,315.5 198.9,315.5 200.5,315.7C202.2,315.8 203.8,316.4 205.5,316.3C207.1,316.2 208.8,314.7 210.4,315.0C212.1,315.4 213.7,318.4 215.4,318.6C217.0,318.8 218.7,316.4 220.3,316.3C222.0,316.2 223.6,318.0 225.3,318.1C226.9,318.2 228.6,317.3 230.2,316.9C231.9,316.5 233.5,316.3 235.2,315.9C236.8,315.5 238.5,314.5 240.1,314.7C241.8,314.8 243.4,316.8 245.1,316.9C246.7,317.0 248.4,315.9 250.0,315.3C251.7,314.7 253.3,313.3 255.0,313.1C256.7,312.9 258.3,314.0 260.0,314.1C261.6,314.2 263.3,314.0 264.9,313.7C266.6,313.4 268.2,312.6 269.9,312.2C271.5,311.9 273.2,311.9 274.8,311.7C276.5,311.6 278.1,311.3 279.8,311.2C281.4,311.1 283.1,311.3 284.7,311.2C286.4,311.2 288.0,311.4 289.7,311.1C291.3,310.8 293.0,309.7 294.6,309.6C296.3,309.4 297.9,310.3 299.6,310.2C301.2,310.2 302.9,309.9 304.5,309.4C306.2,309.0 307.8,308.1 309.5,307.7C311.1,307.4 312.8,307.6 314.4,307.5C316.1,307.3 317.8,307.1 319.4,306.9C321.1,306.7 322.7,306.5 324.4,306.2C326.0,305.8 327.7,305.0 329.3,304.8C331.0,304.5 332.6,304.9 334.3,304.8C335.9,304.7 337.6,304.6 339.2,304.4C340.9,304.2 342.5,303.9 344.2,303.6C345.8,303.3 347.5,302.9 349.1,302.7C350.8,302.5 352.4,302.7 354.1,302.5C355.7,302.3 358.1,301.7 359.0,301.5C359.9,301.3 358.1,301.4 359.4,301.4C360.7,301.3 364.4,301.0 366.8,300.9C369.3,300.8 371.8,300.7 374.3,300.8C376.7,300.8 379.2,301.2 381.7,301.3C384.2,301.4 386.6,301.4 389.1,301.5C391.6,301.6 394.1,301.9 396.6,302.0C399.0,302.1 401.5,301.9 404.0,302.0C406.5,302.0 408.9,302.3 411.4,302.3C413.9,302.2 416.4,301.7 418.8,301.7C421.3,301.8 423.8,302.3 426.3,302.6C428.8,302.9 431.2,303.1 433.7,303.4C436.2,303.6 438.7,303.6 441.1,303.9C443.6,304.1 446.1,304.6 448.6,304.7C451.0,304.7 453.5,304.1 456.0,304.2C458.5,304.2 460.9,304.7 463.4,305.0C465.9,305.3 468.4,305.7 470.9,306.0C473.3,306.3 475.8,306.5 478.3,306.7C480.8,306.9 483.2,307.2 485.7,307.3C488.2,307.5 490.7,307.4 493.1,307.7C495.6,308.0 498.1,308.8 500.6,309.2C503.1,309.7 505.5,310.1 508.0,310.3C510.5,310.5 513.0,309.8 515.4,310.1C517.9,310.5 520.4,311.9 522.9,312.3C525.3,312.8 527.8,312.4 530.3,312.7C532.8,313.1 535.3,314.2 537.7,314.6C540.2,315.1 542.7,315.2 545.2,315.5C547.6,315.9 550.1,316.1 552.6,316.5C555.1,316.8 557.5,317.1 560.0,317.7C562.5,318.2 565.0,319.2 567.5,319.8C569.9,320.4 572.4,320.9 574.9,321.5C577.4,322.0 579.8,322.5 582.3,323.0C584.8,323.5 587.3,323.9 589.7,324.5C592.2,325.2 594.7,326.4 597.2,326.9C599.6,327.5 602.1,327.2 604.6,327.7C607.1,328.2 609.6,329.3 612.0,329.9C614.5,330.4 617.0,330.4 619.5,330.9C621.9,331.4 624.4,332.3 626.9,332.9C629.4,333.4 631.8,333.6 634.3,334.3C636.8,335.0 639.3,336.2 641.8,337.0C644.2,337.7 646.7,338.1 649.2,338.6C651.7,339.1 654.1,339.6 656.6,340.0C659.1,340.4 661.6,340.6 664.0,341.0C666.5,341.5 669.0,342.3 671.5,342.8C674.0,343.4 676.4,343.8 678.9,344.4C681.4,345.0 683.9,346.1 686.3,346.5C688.8,346.9 691.3,346.7 693.8,347.1C696.2,347.5 698.7,348.2 701.2,348.7C703.7,349.2 706.2,349.8 708.6,350.1C711.1,350.4 713.6,350.1 716.1,350.6C718.5,351.0 721.0,352.4 723.5,352.8C726.0,353.2 729.7,353.0 730.9,353.0" stroke="#42A7C3"/>
<path d="M47.8,365.5C50.1,365.5 53.4,365.5 61.8,365.5C70.1,365.5 91.4,365.5 97.9,365.5C104.4,365.5 99.7,397.1 100.6,365.5C101.5,333.9 102.3,175.9 103.3,175.9C104.3,175.9 105.6,333.9 106.7,365.5C107.8,397.1 108.1,365.5 110.1,365.5C112.1,365.5 116.3,365.5 118.4,365.5C120.5,365.5 121.3,378.7 122.8,365.5C124.3,352.3 125.8,298.3 127.2,286.5C128.6,274.7 129.7,293.0 131.1,294.7C132.6,296.4 134.5,293.7 136.1,296.6C137.8,299.5 139.4,311.5 141.1,312.3C142.7,313.1 144.4,301.3 146.0,301.5C147.7,301.7 149.3,311.7 151.0,313.4C152.6,315.1 154.3,312.5 155.9,311.8C157.6,311.0 159.2,307.9 160.9,309.0C162.5,310.1 164.2,318.0 165.8,318.3C167.5,318.7 169.1,312.1 170.8,311.1C172.4,310.1 174.1,312.0 175.7,312.5C177.4,312.9 179.0,313.7 180.7,313.9C182.3,314.0 184.0,313.5 185.6,313.3C187.3,313.1 188.9,311.9 190.6,312.5C192.2,313.1 193.9,316.2 195.6,316.7C197.2,317.1 198.9,315.0 200.5,315.0C202.2,315.1 203.8,316.4 205.5,316.9C207.1,317.4 208.8,317.8 210.4,318.1C212.1,318.3 213.7,318.2 215.4,318.2C217.0,318.2 218.7,318.3 220.3,317.9C222.0,317.4 223.6,316.0 225.3,315.4C226.9,314.8 228.6,314.3 230.2,314.3C231.9,314.2 233.5,315.1 235.2,315.2C236.8,315.2 238.5,314.8 240.1,314.8C241.8,314.9 243.4,315.4 245.1,315.5C246.7,315.7 248.4,315.7 250.0,315.7C251.7,315.6 253.3,315.8 255.0,315.2C256.7,314.5 258.3,311.9 260.0,311.7C261.6,311.5 263.3,313.8 264.9,313.9C266.6,313.9 268.2,312.7 269.9,312.1C271.5,311.5 273.2,310.5 274.8,310.3C276.5,310.1 278.1,310.9 279.8,311.0C281.4,311.1 283.1,311.3 284.7,311.1C286.4,311.0 288.0,310.3 289.7,310.2C291.3,310.0 293.0,310.2 294.6,310.0C296.3,309.9 297.9,309.5 299.6,309.3C301.2,309.1 302.9,309.0 304.5,308.6C306.2,308.3 307.8,307.6 309.5,307.2C311.1,306.9 312.8,306.6 314.4,306.5C316.1,306.4 317.8,306.8 319.4,306.8C321.1,306.8 322.7,306.8 324.4,306.5C326.0,306.2 327.7,305.5 329.3,305.2C331.0,304.9 332.6,304.9 334.3,304.8C335.9,304.6 337.6,304.7 339.2,304.4C340.9,304.1 342.5,303.2 344.2,303.0C345.8,302.8 347.5,303.2 349.1,303.1C350.8,303.0 352.4,302.7 354.1,302.4C355.7,302.2 358.1,301.5 359.0,301.5C359.9,301.5 358.1,302.7 359.4,302.5C360.7,302.4 364.4,301.0 366.8,300.7C369.3,300.3 371.8,300.5 374.3,300.4C376.7,300.4 379.2,300.3 381.7,300.5C384.2,300.8 386.6,301.6 389.1,301.8C391.6,302.0 394.1,302.0 396.6,301.9C399.0,301.9 401.5,301.7 404.0,301.8C406.5,301.9 408.9,302.4 411.4,302.5C413.9,302.7 416.4,302.8 418.8,302.8C421.3,302.9 423.8,302.7 426.3,302.9C428.8,303.0 431.2,303.6 433.7,303.8C436.2,304.1 438.7,304.2 441.1,304.4C443.6,304.6 446.1,305.1 448.6,305.2C451.0,305.3 453.5,304.8 456.0,305.0C458.5,305.2 460.9,306.1 463.4,306.4C465.9,306.7 468.4,306.8 470.9,306.9C473.3,307.0 475.8,307.1 478.3,307.3C480.8,307.4 483.2,307.3 485.7,307.6C488.2,307.9 490.7,308.7 493.1,309.0C495.6,309.3 498.1,309.1 500.6,309.3C503.1,309.4 505.5,309.5 508.0,309.8C510.5,310.1 513.0,310.5 515.4,311.1C517.9,311.6 520.4,312.8 522.9,313.2C525.3,313.5 527.8,313.1 530.3,313.4C532.8,313.6 535.3,314.1 537.7,314.6C540.2,315.1 542.7,316.0 545.2,316.4C547.6,316.8 550.1,316.5 552.6,317.0C555.1,317.4 557.5,318.5 560.0,319.0C562.5,319.6 565.0,320.0 567.5,320.4C569.9,320.9 572.4,321.0 574.9,321.5C577.4,322.1 579.8,323.2 582.3,323.7C584.8,324.2 587.3,323.9 589.7,324.4C592.2,325.0 594.7,326.3 597.2,326.9C599.6,327.5 602.1,327.6 604.6,328.1C607.1,328.5 609.6,329.2 612.0,329.7C614.5,330.3 617.0,330.9 619.5,331.4C621.9,332.0 624.4,332.4 626.9,332.9C629.4,333.4 631.8,333.9 634.3,334.6C636.8,335.2 639.3,336.3 641.8,336.9C644.2,337.5 646.7,337.6 649.2,338.2C651.7,338.9 654.1,340.0 656.6,340.5C659.1,341.0 661.6,340.9 664.0,341.3C666.5,341.8 669.0,342.5 671.5,343.1C674.0,343.7 676.4,344.2 678.9,344.8C681.4,345.3 683.9,346.1 686.3,346.5C688.8,346.9 691.3,347.1 693.8,347.4C696.2,347.7 698.7,347.9 701.2,348.3C703.7,348.8 706.2,349.5 708.6,349.9C711.1,350.3 713.6,350.3 716.1,350.7C718.5,351.2 721.0,352.1 723.5,352.6C726.0,353.1 729.7,353.5 730.9,353.7" stroke="#F48E3A"/>
<path d="M47.8,365.5C50.1,365.5 50.0,365.5 61.8,365.5C73.6,365.5 108.3,365.5 118.5,365.5C128.6,365.5 121.5,378.8 123.0,365.5C124.4,352.2 125.8,296.6 127.2,285.9C128.6,275.1 129.7,299.9 131.1,301.1C132.6,302.3 134.5,292.6 136.1,293.2C137.8,293.8 139.4,303.7 141.1,304.7C142.7,305.7 144.4,298.1 146.0,299.0C147.7,299.9 149.3,308.4 151.0,310.0C152.6,311.7 154.3,310.5 155.9,309.0C157.6,307.6 159.2,299.9 160.9,301.4C162.5,302.9 164.2,316.7 165.8,318.0C167.5,319.2 169.1,308.9 170.8,308.8C172.4,308.6 174.1,316.5 175.7,317.1C177.4,317.8 179.0,314.1 180.7,312.9C182.3,311.7 184.0,309.5 185.6,309.9C187.3,310.3 188.9,314.5 190.6,315.1C192.2,315.7 193.9,313.7 195.6,313.6C197.2,313.5 198.9,314.3 200.5,314.5C202.2,314.8 203.8,314.8 205.5,315.0C207.1,315.2 208.8,316.1 210.4,315.9C212.1,315.7 213.7,313.8 215.4,313.7C217.0,313.6 218.7,315.2 220.3,315.5C222.0,315.8 223.6,316.0 225.3,315.7C226.9,315.5 228.6,314.5 230.2,314.1C231.9,313.7 233.5,313.2 235.2,313.3C236.8,313.3 238.5,314.1 240.1,314.5C241.8,315.0 243.4,316.2 245.1,316.0C246.7,315.7 248.4,313.4 250.0,313.0C251.7,312.5 253.3,313.6 255.0,313.3C256.7,313.0 258.3,311.3 260.0,311.3C261.6,311.2 263.3,312.7 264.9,313.0C266.6,313.3 268.2,313.3 269.9,312.8C271.5,312.4 273.2,310.5 274.8,310.2C276.5,309.9 278.1,310.6 279.8,310.8C281.4,311.1 283.1,311.9 284.7,311.6C286.4,311.3 288.0,309.4 289.7,309.2C291.3,309.0 293.0,310.4 294.6,310.3C296.3,310.2 297.9,308.7 299.6,308.4C301.2,308.1 302.9,308.8 304.5,308.6C306.2,308.4 307.8,307.7 309.5,307.3C311.1,306.9 312.8,306.5 314.4,306.4C316.1,306.3 317.8,307.0 319.4,306.9C321.1,306.7 322.7,306.1 324.4,305.8C326.0,305.4 327.7,305.2 329.3,305.0C331.0,304.7 332.6,304.5 334.3,304.3C335.9,304.1 337.6,304.1 339.2,303.8C340.9,303.5 342.5,302.8 344.2,302.7C345.8,302.5 347.5,302.9 349.1,302.8C350.8,302.7 352.4,302.6 354.1,302.3C355.7,302.0 358.1,301.1 359.0,301.0C359.9,300.9 358.1,301.6 359.4,301.6C360.7,301.5 364.4,300.6 366.8,300.6C369.3,300.6 371.8,301.2 374.3,301.4C376.7,301.6 379.2,301.7 381.7,301.8C384.2,301.9 386.6,301.9 389.1,301.9C391.6,302.0 394.1,302.2 396.6,302.2C399.0,302.3 401.5,302.1 404.0,302.1C406.5,302.2 408.9,302.1 411.4,302.3C413.9,302.5 416.4,303.1 418.8,303.3C421.3,303.6 423.8,303.9 426.3,304.0C428.8,304.2 431.2,304.0 433.7,304.1C436.2,304.3 438.7,305.0 441.1,305.2C443.6,305.3 446.1,304.9 448.6,305.1C451.0,305.3 453.5,305.9 456.0,306.3C458.5,306.7 460.9,307.4 463.4,307.5C465.9,307.6 468.4,306.8 470.9,307.0C473.3,307.1 475.8,307.9 478.3,308.3C480.8,308.7 483.2,309.2 485.7,309.5C488.2,309.7 490.7,309.5 493.1,309.7C495.6,309.9 498.1,310.3 500.6,310.7C503.1,311.0 505.5,311.8 508.0,312.0C510.5,312.2 513.0,311.6 515.4,311.9C517.9,312.1 520.4,313.1 522.9,313.6C525.3,314.0 527.8,314.3 530.3,314.7C532.8,315.2 535.3,316.0 537.7,316.2C540.2,316.5 542.7,316.0 545.2,316.4C547.6,316.8 550.1,317.9 552.6,318.6C555.1,319.2 557.5,319.6 560.0,320.2C562.5,320.8 565.0,321.5 567.5,322.0C569.9,322.5 572.4,322.9 574.9,323.3C577.4,323.7 579.8,324.0 582.3,324.4C584.8,324.7 587.3,324.6 589.7,325.2C592.2,325.8 594.7,327.4 597.2,328.1C599.6,328.9 602.1,329.2 604.6,329.6C607.1,330.0 609.6,330.0 612.0,330.5C614.5,330.9 617.0,331.7 619.5,332.2C621.9,332.7 624.4,332.8 626.9,333.4C629.4,334.0 631.8,335.0 634.3,335.6C636.8,336.3 639.3,336.6 641.8,337.2C644.2,337.9 646.7,339.0 649.2,339.7C651.7,340.4 654.1,340.9 656.6,341.4C659.1,341.8 661.6,342.0 664.0,342.4C666.5,342.8 669.0,343.4 671.5,343.8C674.0,344.3 676.4,344.5 678.9,344.8C681.4,345.2 683.9,345.4 686.3,346.0C688.8,346.5 691.3,347.8 693.8,348.2C696.2,348.6 698.7,348.1 701.2,348.5C703.7,348.8 706.2,350.0 708.6,350.5C711.1,351.0 713.6,351.1 716.1,351.4C718.5,351.7 721.0,351.7 723.5,352.2C726.0,352.7 729.7,354.0 730.9,354.3" stroke="#4A80C3"/>
<path d="M47.8,365.5C50.1,365.5 54.7,365.5 61.8,365.5C68.9,365.5 84.8,365.5 90.2,365.5C95.7,365.5 93.1,385.2 94.5,365.5C95.9,345.8 97.4,247.1 98.8,247.1C100.2,247.1 101.5,345.8 102.8,365.5C104.1,385.2 104.2,365.5 106.8,365.5C109.4,365.5 115.8,365.5 118.5,365.5C121.3,365.5 121.9,377.7 123.3,365.5C124.8,353.3 125.9,304.0 127.2,292.2C128.5,280.4 129.7,294.4 131.1,294.7C132.6,295.0 134.5,293.5 136.1,294.2C137.8,294.9 139.4,299.0 141.1,298.9C142.7,298.8 144.4,290.6 146.0,293.5C147.7,296.4 149.3,314.8 151.0,316.3C152.6,317.8 154.3,304.3 155.9,302.7C157.6,301.1 159.2,305.6 160.9,306.7C162.5,307.8 164.2,308.8 165.8,309.3C167.5,309.8 169.1,309.2 170.8,309.6C172.4,309.9 174.1,310.6 175.7,311.3C177.4,312.1 179.0,314.1 180.7,313.9C182.3,313.7 184.0,309.9 185.6,309.9C187.3,310.0 188.9,313.6 190.6,314.1C192.2,314.6 193.9,312.5 195.6,313.0C197.2,313.4 198.9,316.5 200.5,316.8C202.2,317.1 203.8,314.7 205.5,314.7C207.1,314.7 208.8,316.7 210.4,316.8C212.1,317.0 213.7,316.0 215.4,315.7C217.0,315.5 218.7,315.4 220.3,315.1C222.0,314.9 223.6,314.5 225.3,314.4C226.9,314.3 228.6,314.7 230.2,314.5C231.9,314.3 233.5,313.4 235.2,313.1C236.8,312.8 238.5,312.9 240.1,312.7C241.8,312.6 243.4,312.4 245.1,312.3C246.7,312.2 248.4,312.1 250.0,312.1C251.7,312.0 253.3,312.1 255.0,311.8C256.7,311.6 258.3,310.5 260.0,310.6C261.6,310.7 263.3,312.4 264.9,312.4C266.6,312.3 268.2,310.7 269.9,310.6C271.5,310.4 273.2,311.7 274.8,311.4C276.5,311.1 278.1,308.9 279.8,308.7C281.4,308.5 283.1,310.1 284.7,310.3C286.4,310.4 288.0,309.7 289.7,309.4C291.3,309.0 293.0,308.3 294.6,308.2C296.3,308.1 297.9,308.8 299.6,308.8C301.2,308.8 302.9,308.3 304.5,308.2C306.2,308.0 307.8,308.3 309.5,308.0C311.1,307.6 312.8,306.8 314.4,306.3C316.1,305.8 317.8,305.3 319.4,305.2C321.1,305.0 322.7,305.6 324.4,305.4C326.0,305.2 327.7,304.2 329.3,303.9C331.0,303.7 332.6,303.8 334.3,303.9C335.9,303.9 337.6,304.1 339.2,304.1C340.9,304.0 342.5,304.0 344.2,303.7C345.8,303.5 347.5,303.0 349.1,302.7C350.8,302.4 352.4,302.1 354.1,302.0C355.7,301.8 358.1,301.7 359.0,301.7C359.9,301.6 358.1,302.0 359.4,301.8C360.7,301.6 364.4,300.8 366.8,300.7C369.3,300.6 371.8,300.8 374.3,301.1C376.7,301.3 379.2,301.9 381.7,302.1C384.2,302.3 386.6,302.2 389.1,302.3C391.6,302.3 394.1,302.3 396.6,302.5C399.0,302.7 401.5,303.0 404.0,303.3C406.5,303.6 408.9,304.0 411.4,304.1C413.9,304.2 416.4,304.0 418.8,304.1C421.3,304.2 423.8,304.7 426.3,304.9C428.8,305.1 431.2,305.2 433.7,305.5C436.2,305.7 438.7,306.1 441.1,306.4C443.6,306.7 446.1,307.0 448.6,307.2C451.0,307.4 453.5,307.2 456.0,307.4C458.5,307.7 460.9,308.4 463.4,308.7C465.9,309.0 468.4,308.9 470.9,309.2C473.3,309.6 475.8,310.2 478.3,310.5C480.8,310.8 483.2,310.7 485.7,310.8C488.2,310.9 490.7,311.1 493.1,311.3C495.6,311.5 498.1,311.8 500.6,312.0C503.1,312.2 505.5,312.4 508.0,312.7C510.5,312.9 513.0,313.2 515.4,313.6C517.9,314.0 520.4,314.5 522.9,315.0C525.3,315.5 527.8,316.1 530.3,316.5C532.8,316.8 535.3,316.9 537.7,317.1C540.2,317.4 542.7,317.7 545.2,318.1C547.6,318.5 550.1,319.1 552.6,319.7C555.1,320.3 557.5,321.0 560.0,321.5C562.5,322.0 565.0,322.3 567.5,322.7C569.9,323.2 572.4,323.8 574.9,324.4C577.4,325.0 579.8,325.9 582.3,326.4C584.8,326.9 587.3,326.6 589.7,327.1C592.2,327.6 594.7,328.8 597.2,329.4C599.6,330.0 602.1,330.4 604.6,330.7C607.1,331.0 609.6,330.9 612.0,331.3C614.5,331.7 617.0,332.5 619.5,333.0C621.9,333.5 624.4,333.8 626.9,334.3C629.4,334.9 631.8,335.7 634.3,336.3C636.8,337.0 639.3,337.5 641.8,338.0C644.2,338.5 646.7,338.9 649.2,339.5C651.7,340.1 654.1,341.0 656.6,341.7C659.1,342.3 661.6,343.0 664.0,343.3C666.5,343.7 669.0,343.3 671.5,343.5C674.0,343.8 676.4,344.5 678.9,344.9C681.4,345.4 683.9,345.8 686.3,346.3C688.8,346.8 691.3,347.3 693.8,347.9C696.2,348.4 698.7,349.2 701.2,349.6C703.7,350.0 706.2,350.1 708.6,350.3C711.1,350.6 713.6,350.8 716.1,351.3C718.5,351.8 721.0,352.8 723.5,353.3C726.0,353.7 729.7,353.9 730.9,354.0" stroke="#C64B47"/>
<path d="M47.8,365.5C50.1,365.5 57.2,365.5 61.8,365.5C66.4,365.5 72.5,365.5 75.6,365.5C78.7,365.5 78.7,403.1 80.2,365.5C81.7,327.9 83.3,139.7 84.8,139.7C86.3,139.7 87.9,327.9 89.4,365.5C90.9,403.1 89.1,365.5 94.0,365.5C98.9,365.5 113.8,365.5 118.7,365.5C123.5,365.5 121.7,380.7 123.1,365.5C124.5,350.3 125.9,289.2 127.2,274.4C128.5,259.6 129.7,274.0 131.1,276.6C132.6,279.3 134.5,285.3 136.1,290.3C137.8,295.2 139.4,304.0 141.1,306.3C142.7,308.6 144.4,304.0 146.0,304.0C147.7,304.0 149.3,306.1 151.0,306.2C152.6,306.3 154.3,305.0 155.9,304.4C157.6,303.8 159.2,301.1 160.9,302.6C162.5,304.0 164.2,311.3 165.8,312.9C167.5,314.4 169.1,312.4 170.8,311.8C172.4,311.3 174.1,310.1 175.7,309.8C177.4,309.4 179.0,309.9 180.7,309.7C182.3,309.5 184.0,308.0 185.6,308.5C187.3,308.9 188.9,311.7 190.6,312.4C192.2,313.1 193.9,312.9 195.6,312.7C197.2,312.4 198.9,310.6 200.5,311.0C202.2,311.3 203.8,313.7 205.5,314.5C207.1,315.4 208.8,316.0 210.4,316.2C212.1,316.3 213.7,315.3 215.4,315.4C217.0,315.6 218.7,317.3 220.3,317.1C222.0,316.8 223.6,314.3 225.3,313.8C226.9,313.4 228.6,314.0 230.2,314.3C231.9,314.5 233.5,315.8 235.2,315.3C236.8,314.8 238.5,311.9 240.1,311.3C241.8,310.7 243.4,311.8 245.1,311.8C246.7,311.8 248.4,311.2 250.0,311.5C251.7,311.8 253.3,313.6 255.0,313.7C256.7,313.7 258.3,312.2 260.0,311.6C261.6,311.1 263.3,310.3 264.9,310.3C266.6,310.3 268.2,311.6 269.9,311.7C271.5,311.8 273.2,311.1 274.8,310.8C276.5,310.4 278.1,309.6 279.8,309.6C281.4,309.6 283.1,311.0 284.7,310.9C286.4,310.8 288.0,309.5 289.7,309.0C291.3,308.5 293.0,308.3 294.6,308.1C296.3,308.0 297.9,308.3 299.6,308.1C301.2,307.8 302.9,307.0 304.5,306.8C306.2,306.6 307.8,307.0 309.5,306.9C311.1,306.7 312.8,306.2 314.4,306.0C316.1,305.8 317.8,305.8 319.4,305.7C321.1,305.7 322.7,305.8 324.4,305.6C326.0,305.5 327.7,305.1 329.3,304.9C331.0,304.7 332.6,304.6 334.3,304.4C335.9,304.2 337.6,304.0 339.2,303.8C340.9,303.6 342.5,303.5 344.2,303.3C345.8,303.1 347.5,302.8 349.1,302.6C350.8,302.4 352.4,302.3 354.1,302.1C355.7,301.9 358.1,301.3 359.0,301.3C359.9,301.3 358.1,302.0 359.4,302.1C360.7,302.1 364.4,301.7 366.8,301.6C369.3,301.5 371.8,301.5 374.3,301.4C376.7,301.3 379.2,301.0 381.7,301.2C384.2,301.3 386.6,301.8 389.1,302.1C391.6,302.5 394.1,303.0 396.6,303.2C399.0,303.4 401.5,303.3 404.0,303.5C406.5,303.6 408.9,304.0 411.4,304.2C413.9,304.3 416.4,304.2 418.8,304.4C421.3,304.6 423.8,305.1 426.3,305.3C428.8,305.5 431.2,305.5 433.7,305.8C436.2,306.0 438.7,306.3 441.1,306.6C443.6,306.9 446.1,307.3 448.6,307.6C451.0,307.9 453.5,308.0 456.0,308.3C458.5,308.6 460.9,309.1 463.4,309.3C465.9,309.6 468.4,309.5 470.9,309.7C473.3,309.8 475.8,310.0 478.3,310.3C480.8,310.6 483.2,311.3 485.7,311.5C488.2,311.7 490.7,311.1 493.1,311.3C495.6,311.5 498.1,312.4 500.6,312.7C503.1,313.0 505.5,312.9 508.0,313.3C510.5,313.6 513.0,314.4 515.4,314.8C517.9,315.3 520.4,315.7 522.9,316.1C525.3,316.5 527.8,316.8 530.3,317.1C532.8,317.5 535.3,317.8 537.7,318.3C540.2,318.8 542.7,319.5 545.2,319.9C547.6,320.3 550.1,320.1 552.6,320.6C555.1,321.1 557.5,322.3 560.0,322.8C562.5,323.3 565.0,323.1 567.5,323.4C569.9,323.7 572.4,324.0 574.9,324.6C577.4,325.1 579.8,326.1 582.3,326.7C584.8,327.2 587.3,327.3 589.7,327.7C592.2,328.2 594.7,329.1 597.2,329.6C599.6,330.1 602.1,330.4 604.6,330.8C607.1,331.2 609.6,331.6 612.0,332.0C614.5,332.4 617.0,332.9 619.5,333.4C621.9,333.9 624.4,334.5 626.9,334.9C629.4,335.4 631.8,335.5 634.3,336.1C636.8,336.7 639.3,337.7 641.8,338.4C644.2,339.1 646.7,339.7 649.2,340.3C651.7,340.9 654.1,341.5 656.6,342.0C659.1,342.5 661.6,343.1 664.0,343.5C666.5,343.9 669.0,344.1 671.5,344.5C674.0,344.9 676.4,345.5 678.9,345.9C681.4,346.2 683.9,346.1 686.3,346.4C688.8,346.7 691.3,347.4 693.8,347.8C696.2,348.3 698.7,348.3 701.2,348.8C703.7,349.4 706.2,350.7 708.6,351.1C711.1,351.5 713.6,351.1 716.1,351.3C718.5,351.6 721.0,352.0 723.5,352.4C726.0,352.8 729.7,353.5 730.9,353.7" stroke="#9DC054"/>
<path d="M47.8,365.5C50.1,365.5 50.0,365.5 61.8,365.5C73.6,365.5 108.4,365.5 118.6,365.5C128.9,365.5 121.9,379.4 123.4,365.5C124.8,351.6 125.9,295.5 127.2,282.2C128.5,268.9 129.7,284.0 131.1,285.7C132.6,287.5 134.5,289.8 136.1,292.7C137.8,295.5 139.4,302.2 141.1,302.8C142.7,303.3 144.4,295.4 146.0,296.2C147.7,297.1 149.3,306.7 151.0,307.9C152.6,309.2 154.3,304.3 155.9,303.6C157.6,302.8 159.2,302.1 160.9,303.6C162.5,305.1 164.2,311.9 165.8,312.5C167.5,313.0 169.1,306.5 170.8,306.8C172.4,307.2 174.1,314.1 175.7,314.6C177.4,315.0 179.0,310.0 180.7,309.5C182.3,308.9 184.0,311.4 185.6,311.2C187.3,311.1 188.9,308.4 190.6,308.8C192.2,309.1 193.9,312.6 195.6,313.3C197.2,314.0 198.9,313.0 200.5,313.1C202.2,313.2 203.8,313.3 205.5,313.8C207.1,314.4 208.8,316.6 210.4,316.2C212.1,315.9 213.7,312.0 215.4,311.6C217.0,311.2 218.7,313.5 220.3,314.0C222.0,314.6 223.6,315.0 225.3,314.6C226.9,314.3 228.6,312.4 230.2,312.1C231.9,311.9 233.5,313.0 235.2,313.1C236.8,313.3 238.5,313.2 240.1,312.9C241.8,312.7 243.4,312.0 245.1,311.7C246.7,311.4 248.4,311.0 250.0,310.9C251.7,310.9 253.3,311.6 255.0,311.5C256.7,311.3 258.3,310.2 260.0,310.1C261.6,310.0 263.3,310.9 264.9,311.1C266.6,311.3 268.2,311.5 269.9,311.3C271.5,311.0 273.2,310.0 274.8,309.5C276.5,309.0 278.1,308.3 279.8,308.3C281.4,308.3 283.1,309.4 284.7,309.4C286.4,309.5 288.0,308.7 289.7,308.7C291.3,308.6 293.0,309.0 294.6,309.1C296.3,309.2 297.9,309.5 299.6,309.2C301.2,308.9 302.9,307.5 304.5,307.2C306.2,307.0 307.8,307.7 309.5,307.5C311.1,307.3 312.8,306.2 314.4,305.9C316.1,305.6 317.8,306.0 319.4,305.8C321.1,305.7 322.7,305.5 324.4,305.2C326.0,304.9 327.7,304.1 329.3,304.0C331.0,303.9 332.6,304.8 334.3,304.7C335.9,304.7 337.6,304.1 339.2,303.8C340.9,303.5 342.5,303.4 344.2,303.1C345.8,302.8 347.5,302.2 349.1,302.1C350.8,301.9 352.4,302.2 354.1,302.1C355.7,302.1 358.1,301.9 359.0,301.9C359.9,301.9 358.1,302.3 359.4,302.1C360.7,301.8 364.4,300.5 366.8,300.4C369.3,300.3 371.8,301.2 374.3,301.4C376.7,301.6 379.2,301.6 381.7,301.8C384.2,302.0 386.6,302.1 389.1,302.4C391.6,302.7 394.1,303.4 396.6,303.6C399.0,303.9 401.5,303.6 404.0,303.8C406.5,304.1 408.9,304.8 411.4,305.0C413.9,305.1 416.4,304.7 418.8,304.8C421.3,304.8 423.8,305.1 426.3,305.3C428.8,305.6 431.2,305.7 433.7,306.2C436.2,306.6 438.7,307.8 441.1,307.9C443.6,308.1 446.1,307.0 448.6,307.1C451.0,307.3 453.5,308.5 456.0,309.0C458.5,309.4 460.9,309.8 463.4,309.9C465.9,309.9 468.4,309.2 470.9,309.4C473.3,309.6 475.8,310.4 478.3,310.8C480.8,311.2 483.2,311.4 485.7,311.5C488.2,311.7 490.7,311.3 493.1,311.6C495.6,311.9 498.1,312.9 500.6,313.2C503.1,313.6 505.5,313.6 508.0,313.9C510.5,314.2 513.0,314.6 515.4,315.0C517.9,315.4 520.4,315.9 522.9,316.3C525.3,316.7 527.8,317.0 530.3,317.3C532.8,317.6 535.3,317.8 537.7,318.2C540.2,318.6 542.7,319.3 545.2,319.8C547.6,320.3 550.1,320.6 552.6,321.2C555.1,321.7 557.5,322.6 560.0,323.1C562.5,323.6 565.0,324.2 567.5,324.5C569.9,324.8 572.4,324.6 574.9,325.0C577.4,325.4 579.8,326.6 582.3,327.1C584.8,327.6 587.3,327.7 589.7,328.1C592.2,328.5 594.7,329.0 597.2,329.5C599.6,330.0 602.1,330.6 604.6,331.1C607.1,331.6 609.6,331.8 612.0,332.3C614.5,332.8 617.0,333.5 619.5,334.1C621.9,334.7 624.4,335.6 626.9,336.0C629.4,336.5 631.8,336.3 634.3,336.6C636.8,337.0 639.3,337.5 641.8,338.1C644.2,338.6 646.7,339.2 649.2,339.8C651.7,340.5 654.1,341.4 656.6,342.0C659.1,342.5 661.6,342.6 664.0,343.0C666.5,343.4 669.0,344.0 671.5,344.3C674.0,344.7 676.4,344.8 678.9,345.2C681.4,345.5 683.9,346.1 686.3,346.6C688.8,347.1 691.3,347.8 693.8,348.3C696.2,348.8 698.7,349.1 701.2,349.5C703.7,349.9 706.2,350.2 708.6,350.6C711.1,351.0 713.6,351.3 716.1,351.8C718.5,352.2 721.0,352.7 723.5,353.1C726.0,353.5 729.7,353.8 730.9,353.9" stroke="#8061A5"/>
<path d="M47.8,365.5C50.1,365.5 50.0,365.5 61.8,365.5C73.6,365.5 108.2,365.5 118.4,365.5C128.7,365.5 121.7,377.5 123.1,365.5C124.6,353.5 125.9,307.1 127.2,293.6C128.5,280.1 129.7,284.0 131.1,284.5C132.6,285.0 134.5,292.3 136.1,296.6C137.8,301.0 139.4,310.2 141.1,310.6C142.7,310.9 144.4,297.9 146.0,298.6C147.7,299.4 149.3,314.8 151.0,315.0C152.6,315.3 154.3,301.3 155.9,300.1C157.6,298.9 159.2,305.9 160.9,308.0C162.5,310.0 164.2,312.4 165.8,312.2C167.5,312.1 169.1,306.6 170.8,307.0C172.4,307.4 174.1,313.7 175.7,314.7C177.4,315.7 179.0,314.1 180.7,313.2C182.3,312.3 184.0,309.8 185.6,309.4C187.3,309.0 188.9,310.1 190.6,310.8C192.2,311.5 193.9,312.8 195.6,313.5C197.2,314.2 198.9,315.3 200.5,315.1C202.2,314.9 203.8,312.6 205.5,312.1C207.1,311.5 208.8,311.4 210.4,311.7C212.1,311.9 213.7,313.4 215.4,313.6C217.0,313.9 218.7,313.5 220.3,313.4C222.0,313.2 223.6,312.9 225.3,312.7C226.9,312.4 228.6,312.0 230.2,312.0C231.9,312.1 233.5,313.1 235.2,313.0C236.8,313.0 238.5,312.0 240.1,311.8C241.8,311.6 243.4,312.1 245.1,311.8C246.7,311.6 248.4,310.4 250.0,310.3C251.7,310.1 253.3,310.9 255.0,310.9C256.7,310.9 258.3,310.1 260.0,310.0C261.6,309.9 263.3,310.1 264.9,310.0C266.6,310.0 268.2,309.6 269.9,309.6C271.5,309.7 273.2,310.4 274.8,310.2C276.5,310.1 278.1,308.9 279.8,308.6C281.4,308.2 283.1,308.1 284.7,308.2C286.4,308.2 288.0,308.8 289.7,308.8C291.3,308.7 293.0,308.1 294.6,308.0C296.3,307.9 297.9,308.5 299.6,308.3C301.2,308.1 302.9,307.2 304.5,306.9C306.2,306.6 307.8,306.6 309.5,306.3C311.1,306.1 312.8,305.4 314.4,305.3C316.1,305.1 317.8,305.5 319.4,305.5C321.1,305.5 322.7,305.4 324.4,305.2C326.0,305.1 327.7,304.7 329.3,304.4C331.0,304.2 332.6,303.9 334.3,303.8C335.9,303.6 337.6,303.8 339.2,303.5C340.9,303.3 342.5,302.5 344.2,302.4C345.8,302.2 347.5,302.8 349.1,302.8C350.8,302.7 352.4,302.0 354.1,301.9C355.7,301.7 358.1,301.7 359.0,301.8C359.9,301.8 358.1,302.2 359.4,302.0C360.7,301.8 364.4,300.8 366.8,300.6C369.3,300.4 371.8,300.8 374.3,301.0C376.7,301.2 379.2,301.5 381.7,301.9C384.2,302.3 386.6,303.2 389.1,303.4C391.6,303.6 394.1,303.1 396.6,303.1C399.0,303.2 401.5,303.2 404.0,303.6C406.5,303.9 408.9,304.9 411.4,305.3C413.9,305.6 416.4,305.5 418.8,305.7C421.3,306.0 423.8,306.5 426.3,306.7C428.8,307.0 431.2,306.8 433.7,307.1C436.2,307.4 438.7,308.4 441.1,308.6C443.6,308.9 446.1,308.5 448.6,308.7C451.0,308.9 453.5,309.6 456.0,309.9C458.5,310.1 460.9,309.9 463.4,310.1C465.9,310.4 468.4,310.9 470.9,311.3C473.3,311.7 475.8,312.3 478.3,312.4C480.8,312.6 483.2,312.1 485.7,312.2C488.2,312.4 490.7,313.0 493.1,313.4C495.6,313.7 498.1,314.2 500.6,314.5C503.1,314.9 505.5,315.1 508.0,315.4C510.5,315.6 513.0,315.5 515.4,315.9C517.9,316.4 520.4,317.4 522.9,317.8C525.3,318.2 527.8,318.2 530.3,318.6C532.8,319.0 535.3,319.7 537.7,320.2C540.2,320.7 542.7,321.1 545.2,321.4C547.6,321.8 550.1,322.2 552.6,322.6C555.1,322.9 557.5,323.4 560.0,323.7C562.5,324.0 565.0,324.1 567.5,324.5C569.9,325.0 572.4,325.8 574.9,326.4C577.4,327.0 579.8,327.8 582.3,328.2C584.8,328.7 587.3,328.6 589.7,329.0C592.2,329.4 594.7,330.0 597.2,330.6C599.6,331.2 602.1,332.2 604.6,332.6C607.1,333.1 609.6,333.0 612.0,333.5C614.5,334.0 617.0,335.0 619.5,335.6C621.9,336.1 624.4,336.5 626.9,336.9C629.4,337.3 631.8,337.5 634.3,337.9C636.8,338.3 639.3,338.9 641.8,339.4C644.2,339.9 646.7,340.4 649.2,340.9C651.7,341.4 654.1,342.1 656.6,342.5C659.1,342.9 661.6,342.8 664.0,343.1C666.5,343.5 669.0,344.3 671.5,344.7C674.0,345.2 676.4,345.5 678.9,346.0C681.4,346.4 683.9,347.2 686.3,347.5C688.8,347.8 691.3,347.5 693.8,347.8C696.2,348.1 698.7,348.7 701.2,349.2C703.7,349.7 706.2,350.5 708.6,350.9C711.1,351.4 713.6,351.6 716.1,351.9C718.5,352.2 721.0,352.4 723.5,352.7C726.0,353.0 729.7,353.4 730.9,353.6" stroke="#45B0CC"/>
<path d="M47.8,365.5C50.1,365.5 50.6,365.5 61.8,365.5C73.0,365.5 105.4,365.5 114.9,365.5C124.4,365.5 117.6,401.5 118.9,365.5C120.2,329.5 121.5,163.7 122.9,149.6C124.3,135.4 125.8,259.3 127.2,280.7C128.6,302.1 129.7,274.8 131.1,278.1C132.6,281.4 134.5,296.3 136.1,300.6C137.8,304.9 139.4,305.4 141.1,304.1C142.7,302.7 144.4,290.9 146.0,292.5C147.7,294.1 149.3,312.0 151.0,313.8C152.6,315.6 154.3,305.1 155.9,303.5C157.6,301.9 159.2,302.5 160.9,304.1C162.5,305.7 164.2,311.5 165.8,312.8C167.5,314.1 169.1,312.0 170.8,312.1C172.4,312.1 174.1,313.5 175.7,313.1C177.4,312.8 179.0,310.4 180.7,309.8C182.3,309.2 184.0,309.8 185.6,309.5C187.3,309.3 188.9,308.2 190.6,308.3C192.2,308.3 193.9,309.0 195.6,309.8C197.2,310.6 198.9,312.3 200.5,312.9C202.2,313.5 203.8,313.4 205.5,313.2C207.1,313.0 208.8,311.8 210.4,311.5C212.1,311.1 213.7,310.8 215.4,311.2C217.0,311.6 218.7,313.4 220.3,313.9C222.0,314.4 223.6,314.7 225.3,314.3C226.9,314.0 228.6,312.4 230.2,311.7C231.9,311.1 233.5,310.5 235.2,310.6C236.8,310.7 238.5,312.2 240.1,312.4C241.8,312.6 243.4,312.0 245.1,311.9C246.7,311.8 248.4,312.0 250.0,311.9C251.7,311.7 253.3,311.4 255.0,311.0C256.7,310.6 258.3,309.3 260.0,309.5C261.6,309.6 263.3,311.8 264.9,311.8C266.6,311.8 268.2,309.7 269.9,309.4C271.5,309.2 273.2,310.2 274.8,310.2C276.5,310.1 278.1,309.4 279.8,309.2C281.4,308.9 283.1,308.5 284.7,308.5C286.4,308.5 288.0,309.2 289.7,309.3C291.3,309.3 293.0,308.7 294.6,308.6C296.3,308.5 297.9,308.7 299.6,308.4C301.2,308.2 302.9,307.6 304.5,307.3C306.2,306.9 307.8,306.7 309.5,306.3C311.1,305.9 312.8,305.2 314.4,305.0C316.1,304.9 317.8,305.6 319.4,305.6C321.1,305.5 322.7,304.8 324.4,304.6C326.0,304.5 327.7,304.9 329.3,304.7C331.0,304.4 332.6,303.4 334.3,303.2C335.9,303.1 337.6,303.8 339.2,303.8C340.9,303.8 342.5,303.4 344.2,303.1C345.8,302.9 347.5,302.6 349.1,302.4C350.8,302.2 352.4,302.2 354.1,302.1C355.7,301.9 358.1,301.5 359.0,301.6C359.9,301.7 358.1,302.7 359.4,302.5C360.7,302.3 364.4,301.0 366.8,300.7C369.3,300.4 371.8,300.7 374.3,300.9C376.7,301.2 379.2,301.8 381.7,302.2C384.2,302.7 386.6,303.1 389.1,303.4C391.6,303.6 394.1,303.6 396.6,303.6C399.0,303.7 401.5,303.4 404.0,303.8C406.5,304.1 408.9,305.4 411.4,305.7C413.9,306.0 416.4,305.6 418.8,305.7C421.3,305.8 423.8,306.2 426.3,306.5C428.8,306.8 431.2,307.2 433.7,307.6C436.2,307.9 438.7,308.3 441.1,308.5C443.6,308.7 446.1,308.7 448.6,308.9C451.0,309.0 453.5,309.1 456.0,309.4C458.5,309.7 460.9,310.2 463.4,310.5C465.9,310.8 468.4,310.7 470.9,311.0C473.3,311.2 475.8,311.6 478.3,312.0C480.8,312.4 483.2,312.8 485.7,313.1C488.2,313.5 490.7,314.0 493.1,314.2C495.6,314.4 498.1,314.3 500.6,314.5C503.1,314.7 505.5,315.0 508.0,315.3C510.5,315.5 513.0,315.6 515.4,316.1C517.9,316.5 520.4,317.7 522.9,318.0C525.3,318.3 527.8,317.7 530.3,318.1C532.8,318.6 535.3,320.3 537.7,320.7C540.2,321.1 542.7,320.5 545.2,320.7C547.6,321.0 550.1,321.8 552.6,322.3C555.1,322.8 557.5,323.1 560.0,323.5C562.5,323.9 565.0,324.2 567.5,324.7C569.9,325.1 572.4,325.8 574.9,326.4C577.4,327.0 579.8,327.6 582.3,328.1C584.8,328.5 587.3,328.8 589.7,329.3C592.2,329.7 594.7,330.2 597.2,330.6C599.6,331.1 602.1,331.5 604.6,331.9C607.1,332.3 609.6,332.5 612.0,333.1C614.5,333.7 617.0,334.8 619.5,335.4C621.9,336.0 624.4,336.5 626.9,336.9C629.4,337.2 631.8,337.3 634.3,337.7C636.8,338.0 639.3,338.5 641.8,339.2C644.2,339.8 646.7,340.9 649.2,341.5C651.7,342.2 654.1,342.6 656.6,343.0C659.1,343.3 661.6,343.5 664.0,343.8C666.5,344.1 669.0,344.5 671.5,344.8C674.0,345.2 676.4,345.7 678.9,346.0C681.4,346.4 683.9,346.6 686.3,347.0C688.8,347.4 691.3,348.1 693.8,348.5C696.2,348.9 698.7,349.2 701.2,349.5C703.7,349.8 706.2,349.9 708.6,350.2C711.1,350.6 713.6,351.4 716.1,351.8C718.5,352.1 721.0,352.0 723.5,352.4C726.0,352.8 729.7,353.8 730.9,354.1" stroke="#FF953E"/>
<path d="M47.8,365.5C50.1,365.5 51.8,365.5 61.8,365.5C71.8,365.5 100.0,365.5 108.1,365.5C116.2,365.5 109.6,409.2 110.3,365.5C111.0,321.8 111.8,103.5 112.5,103.5C113.2,103.5 114.0,321.8 114.7,365.5C115.4,409.2 115.5,365.5 116.9,365.5C118.3,365.5 121.3,380.6 123.0,365.5C124.7,350.4 125.8,285.9 127.2,274.7C128.6,263.5 129.7,295.6 131.1,298.4C132.6,301.2 134.5,290.5 136.1,291.6C137.8,292.6 139.4,303.5 141.1,304.7C142.7,305.9 144.4,298.1 146.0,298.8C147.7,299.5 149.3,307.6 151.0,308.9C152.6,310.3 154.3,307.9 155.9,306.8C157.6,305.7 159.2,300.7 160.9,302.2C162.5,303.8 164.2,315.1 165.8,316.1C167.5,317.1 169.1,309.3 170.8,308.0C172.4,306.7 174.1,308.2 175.7,308.4C177.4,308.6 179.0,309.2 180.7,309.2C182.3,309.1 184.0,307.7 185.6,308.0C187.3,308.2 188.9,309.9 190.6,310.8C192.2,311.7 193.9,313.5 195.6,313.2C197.2,313.0 198.9,309.7 200.5,309.2C202.2,308.7 203.8,310.0 205.5,310.5C207.1,310.9 208.8,311.6 210.4,311.8C212.1,312.1 213.7,312.0 215.4,311.9C217.0,311.9 218.7,311.2 220.3,311.5C222.0,311.9 223.6,314.0 225.3,314.0C226.9,314.1 228.6,312.2 230.2,311.7C231.9,311.1 233.5,310.4 235.2,310.6C236.8,310.8 238.5,312.9 240.1,312.9C241.8,312.8 243.4,310.5 245.1,310.2C246.7,310.0 248.4,311.3 250.0,311.2C251.7,311.1 253.3,309.5 255.0,309.6C256.7,309.7 258.3,311.6 260.0,311.8C261.6,312.1 263.3,311.6 264.9,311.2C266.6,310.9 268.2,310.4 269.9,309.9C271.5,309.5 273.2,309.0 274.8,308.5C276.5,308.1 278.1,307.4 279.8,307.4C281.4,307.4 283.1,308.3 284.7,308.4C286.4,308.5 288.0,308.3 289.7,308.1C291.3,308.0 293.0,307.5 294.6,307.4C296.3,307.3 297.9,307.7 299.6,307.6C301.2,307.5 302.9,306.9 304.5,306.6C306.2,306.3 307.8,306.1 309.5,306.0C311.1,305.8 312.8,305.8 314.4,305.6C316.1,305.4 317.8,304.9 319.4,304.9C321.1,304.8 322.7,305.5 324.4,305.4C326.0,305.3 327.7,304.7 329.3,304.3C331.0,304.0 332.6,303.5 334.3,303.4C335.9,303.3 337.6,303.9 339.2,303.7C340.9,303.6 342.5,302.9 344.2,302.7C345.8,302.5 347.5,302.5 349.1,302.4C350.8,302.3 352.4,302.4 354.1,302.2C355.7,301.9 358.1,301.0 359.0,301.0C359.9,300.9 358.1,301.6 359.4,301.7C360.7,301.7 364.4,301.3 366.8,301.3C369.3,301.3 371.8,301.4 374.3,301.5C376.7,301.7 379.2,301.9 381.7,302.3C384.2,302.7 386.6,303.6 389.1,303.9C391.6,304.1 394.1,303.6 396.6,303.8C399.0,303.9 401.5,304.4 404.0,304.8C406.5,305.2 408.9,306.1 411.4,306.4C413.9,306.6 416.4,306.3 418.8,306.4C421.3,306.5 423.8,306.5 426.3,306.8C428.8,307.1 431.2,307.7 433.7,308.1C436.2,308.4 438.7,308.4 441.1,308.7C443.6,309.0 446.1,309.5 448.6,309.9C451.0,310.2 453.5,310.3 456.0,310.6C458.5,310.8 460.9,311.1 463.4,311.3C465.9,311.6 468.4,311.5 470.9,311.9C473.3,312.3 475.8,313.6 478.3,313.9C480.8,314.2 483.2,313.5 485.7,313.8C488.2,314.0 490.7,314.8 493.1,315.2C495.6,315.6 498.1,315.7 500.6,316.0C503.1,316.4 505.5,317.1 508.0,317.3C510.5,317.6 513.0,316.9 515.4,317.3C517.9,317.6 520.4,318.9 522.9,319.4C525.3,319.9 527.8,320.0 530.3,320.3C532.8,320.5 535.3,320.5 537.7,320.8C540.2,321.0 542.7,321.4 545.2,322.0C547.6,322.5 550.1,323.2 552.6,323.8C555.1,324.5 557.5,325.3 560.0,325.7C562.5,326.1 565.0,325.8 567.5,326.2C569.9,326.7 572.4,327.8 574.9,328.4C577.4,329.0 579.8,329.4 582.3,329.6C584.8,329.9 587.3,329.6 589.7,330.0C592.2,330.3 594.7,331.1 597.2,331.6C599.6,332.1 602.1,332.6 604.6,333.0C607.1,333.3 609.6,333.5 612.0,334.0C614.5,334.4 617.0,335.2 619.5,335.7C621.9,336.3 624.4,336.9 626.9,337.4C629.4,337.8 631.8,338.0 634.3,338.4C636.8,338.7 639.3,338.9 641.8,339.4C644.2,340.0 646.7,341.0 649.2,341.6C651.7,342.2 654.1,342.6 656.6,343.0C659.1,343.4 661.6,343.4 664.0,343.9C666.5,344.4 669.0,345.4 671.5,345.9C674.0,346.4 676.4,346.5 678.9,346.9C681.4,347.3 683.9,348.0 686.3,348.3C688.8,348.6 691.3,348.2 693.8,348.5C696.2,348.8 698.7,349.6 701.2,350.0C703.7,350.5 706.2,351.0 708.6,351.4C711.1,351.7 713.6,352.1 716.1,352.3C718.5,352.5 721.0,352.6 723.5,352.8C726.0,353.1 729.7,353.6 730.9,353.7" stroke="#779DCB"/>
<path d="M47.8,365.5C50.1,365.5 50.1,365.5 61.8,365.5C73.5,365.5 107.9,365.5 118.1,365.5C128.4,365.5 121.7,381.2 123.3,365.5C124.8,349.8 125.9,285.0 127.2,271.4C128.5,257.8 129.7,281.1 131.1,283.7C132.6,286.4 134.5,284.1 136.1,287.0C137.8,289.9 139.4,300.0 141.1,301.1C142.7,302.2 144.4,291.9 146.0,293.6C147.7,295.3 149.3,309.4 151.0,311.5C152.6,313.6 154.3,307.3 155.9,306.2C157.6,305.1 159.2,304.4 160.9,305.1C162.5,305.7 164.2,310.6 165.8,310.2C167.5,309.7 169.1,302.0 170.8,302.5C172.4,303.1 174.1,312.0 175.7,313.5C177.4,315.0 179.0,312.8 180.7,311.8C182.3,310.8 184.0,308.3 185.6,307.6C187.3,306.9 188.9,306.8 190.6,307.6C192.2,308.3 193.9,311.3 195.6,312.1C197.2,313.0 198.9,312.4 200.5,312.6C202.2,312.8 203.8,313.1 205.5,313.1C207.1,313.1 208.8,313.2 210.4,312.6C212.1,312.0 213.7,309.1 215.4,309.4C217.0,309.7 218.7,313.8 220.3,314.4C222.0,315.0 223.6,313.1 225.3,313.0C226.9,312.8 228.6,313.6 230.2,313.3C231.9,313.0 233.5,311.6 235.2,311.3C236.8,310.9 238.5,311.1 240.1,311.2C241.8,311.2 243.4,311.3 245.1,311.6C246.7,311.8 248.4,312.5 250.0,312.5C251.7,312.5 253.3,312.0 255.0,311.5C256.7,311.0 258.3,309.7 260.0,309.4C261.6,309.2 263.3,309.9 264.9,309.9C266.6,309.9 268.2,309.6 269.9,309.4C271.5,309.1 273.2,308.6 274.8,308.5C276.5,308.3 278.1,308.8 279.8,308.7C281.4,308.6 283.1,307.9 284.7,307.8C286.4,307.8 288.0,308.5 289.7,308.5C291.3,308.6 293.0,308.4 294.6,308.3C296.3,308.2 297.9,308.2 299.6,308.0C301.2,307.7 302.9,307.2 304.5,306.7C306.2,306.3 307.8,305.6 309.5,305.4C311.1,305.2 312.8,305.4 314.4,305.3C316.1,305.2 317.8,305.1 319.4,304.9C321.1,304.7 322.7,304.3 324.4,304.2C326.0,304.1 327.7,304.1 329.3,304.2C331.0,304.2 332.6,304.4 334.3,304.3C335.9,304.2 337.6,304.0 339.2,303.8C340.9,303.6 342.5,303.2 344.2,303.1C345.8,303.0 347.5,303.3 349.1,303.1C350.8,303.0 352.4,302.5 354.1,302.2C355.7,302.0 358.1,301.7 359.0,301.6C359.9,301.4 358.1,301.4 359.4,301.3C360.7,301.1 364.4,300.8 366.8,300.8C369.3,300.8 371.8,301.1 374.3,301.4C376.7,301.7 379.2,302.2 381.7,302.6C384.2,303.0 386.6,303.3 389.1,303.7C391.6,304.1 394.1,304.8 396.6,305.0C399.0,305.2 401.5,304.7 404.0,305.0C406.5,305.2 408.9,306.3 411.4,306.5C413.9,306.7 416.4,306.2 418.8,306.3C421.3,306.3 423.8,306.5 426.3,306.9C428.8,307.3 431.2,308.1 433.7,308.5C436.2,308.9 438.7,309.0 441.1,309.4C443.6,309.7 446.1,310.0 448.6,310.4C451.0,310.8 453.5,311.3 456.0,311.6C458.5,311.9 460.9,311.9 463.4,312.1C465.9,312.3 468.4,312.6 470.9,312.8C473.3,313.1 475.8,313.4 478.3,313.6C480.8,313.8 483.2,314.1 485.7,314.3C488.2,314.5 490.7,314.5 493.1,314.8C495.6,315.1 498.1,316.0 500.6,316.3C503.1,316.6 505.5,316.6 508.0,316.7C510.5,316.9 513.0,316.9 515.4,317.4C517.9,317.8 520.4,319.0 522.9,319.5C525.3,320.0 527.8,320.1 530.3,320.3C532.8,320.6 535.3,320.9 537.7,321.2C540.2,321.5 542.7,321.9 545.2,322.4C547.6,322.8 550.1,323.5 552.6,324.1C555.1,324.7 557.5,325.4 560.0,325.9C562.5,326.3 565.0,326.5 567.5,326.7C569.9,327.0 572.4,326.9 574.9,327.4C577.4,327.9 579.8,329.2 582.3,329.7C584.8,330.2 587.3,330.0 589.7,330.5C592.2,331.0 594.7,332.0 597.2,332.5C599.6,332.9 602.1,332.9 604.6,333.3C607.1,333.6 609.6,334.0 612.0,334.5C614.5,334.9 617.0,335.4 619.5,335.9C621.9,336.4 624.4,337.0 626.9,337.5C629.4,338.0 631.8,338.6 634.3,339.0C636.8,339.3 639.3,339.1 641.8,339.5C644.2,340.0 646.7,341.0 649.2,341.6C651.7,342.3 654.1,343.1 656.6,343.6C659.1,344.0 661.6,344.0 664.0,344.3C666.5,344.6 669.0,345.0 671.5,345.3C674.0,345.6 676.4,345.8 678.9,346.2C681.4,346.6 683.9,347.2 686.3,347.7C688.8,348.1 691.3,348.5 693.8,348.9C696.2,349.2 698.7,349.4 701.2,349.8C703.7,350.2 706.2,351.1 708.6,351.5C711.1,351.9 713.6,352.0 716.1,352.2C718.5,352.4 721.0,352.4 723.5,352.7C726.0,353.0 729.7,353.8 730.9,354.0" stroke="#CD7876"/>
<path d="M47.8,365.5C50.1,365.5 52.4,365.5 61.8,365.5C71.2,365.5 96.6,365.5 104.2,365.5C111.8,365.5 106.3,386.5 107.4,365.5C108.5,344.5 109.3,239.4 110.6,239.4C111.9,239.4 113.5,344.5 115.0,365.5C116.5,386.5 118.2,365.5 119.4,365.5C120.6,365.5 121.2,381.1 122.5,365.5C123.8,349.9 125.8,285.3 127.2,271.9C128.6,258.5 129.7,281.4 131.1,285.1C132.6,288.9 134.5,292.6 136.1,294.5C137.8,296.4 139.4,297.1 141.1,296.7C142.7,296.4 144.4,291.6 146.0,292.2C147.7,292.8 149.3,298.3 151.0,300.2C152.6,302.0 154.3,303.3 155.9,303.4C157.6,303.5 159.2,299.5 160.9,300.7C162.5,301.8 164.2,309.2 165.8,310.3C167.5,311.5 169.1,308.4 170.8,307.7C172.4,307.1 174.1,306.8 175.7,306.4C177.4,306.0 179.0,305.1 180.7,305.4C182.3,305.6 184.0,307.1 185.6,308.0C187.3,309.0 188.9,310.8 190.6,311.0C192.2,311.3 193.9,309.7 195.6,309.6C197.2,309.4 198.9,309.6 200.5,310.0C202.2,310.5 203.8,311.7 205.5,312.5C207.1,313.3 208.8,315.7 210.4,315.1C212.1,314.5 213.7,308.7 215.4,308.6C217.0,308.6 218.7,314.3 220.3,314.7C222.0,315.1 223.6,311.5 225.3,311.2C226.9,310.9 228.6,312.9 230.2,312.9C231.9,313.0 233.5,311.9 235.2,311.4C236.8,310.9 238.5,309.7 240.1,309.9C241.8,310.1 243.4,312.5 245.1,312.7C246.7,312.9 248.4,311.6 250.0,311.2C251.7,310.7 253.3,310.4 255.0,309.9C256.7,309.5 258.3,308.9 260.0,308.7C261.6,308.5 263.3,308.7 264.9,308.7C266.6,308.7 268.2,308.8 269.9,308.9C271.5,309.0 273.2,309.7 274.8,309.3C276.5,309.0 278.1,307.0 279.8,306.9C281.4,306.7 283.1,308.3 284.7,308.4C286.4,308.5 288.0,307.5 289.7,307.4C291.3,307.4 293.0,308.2 294.6,308.1C296.3,308.1 297.9,307.5 299.6,307.2C301.2,306.8 302.9,306.3 304.5,306.1C306.2,305.9 307.8,306.2 309.5,306.0C311.1,305.8 312.8,305.0 314.4,304.7C316.1,304.4 317.8,304.4 319.4,304.2C321.1,304.1 322.7,304.0 324.4,303.9C326.0,303.9 327.7,304.0 329.3,304.0C331.0,304.1 332.6,304.2 334.3,304.2C335.9,304.2 337.6,304.2 339.2,304.0C340.9,303.8 342.5,303.1 344.2,302.9C345.8,302.8 347.5,303.2 349.1,303.1C350.8,302.9 352.4,302.0 354.1,301.9C355.7,301.8 358.1,302.3 359.0,302.2C359.9,302.1 358.1,301.7 359.4,301.5C360.7,301.3 364.4,301.0 366.8,301.1C369.3,301.2 371.8,301.9 374.3,302.2C376.7,302.4 379.2,302.4 381.7,302.6C384.2,302.8 386.6,303.3 389.1,303.6C391.6,303.9 394.1,304.3 396.6,304.7C399.0,305.0 401.5,305.2 404.0,305.5C406.5,305.8 408.9,306.1 411.4,306.4C413.9,306.6 416.4,306.4 418.8,306.8C421.3,307.2 423.8,308.1 426.3,308.5C428.8,308.9 431.2,308.8 433.7,309.3C436.2,309.7 438.7,310.8 441.1,311.0C443.6,311.3 446.1,310.6 448.6,310.9C451.0,311.1 453.5,312.2 456.0,312.6C458.5,313.0 460.9,313.1 463.4,313.4C465.9,313.7 468.4,314.2 470.9,314.4C473.3,314.6 475.8,314.5 478.3,314.7C480.8,314.9 483.2,315.2 485.7,315.6C488.2,315.9 490.7,316.4 493.1,316.7C495.6,317.0 498.1,317.1 500.6,317.4C503.1,317.6 505.5,318.1 508.0,318.4C510.5,318.6 513.0,318.5 515.4,318.9C517.9,319.3 520.4,320.2 522.9,320.6C525.3,321.1 527.8,321.2 530.3,321.6C532.8,322.0 535.3,322.6 537.7,323.0C540.2,323.5 542.7,324.1 545.2,324.5C547.6,324.9 550.1,324.9 552.6,325.2C555.1,325.5 557.5,325.8 560.0,326.3C562.5,326.8 565.0,327.8 567.5,328.3C569.9,328.7 572.4,328.7 574.9,329.0C577.4,329.4 579.8,329.9 582.3,330.3C584.8,330.6 587.3,330.8 589.7,331.2C592.2,331.6 594.7,332.3 597.2,332.7C599.6,333.2 602.1,333.4 604.6,333.9C607.1,334.4 609.6,335.2 612.0,335.6C614.5,336.0 617.0,335.9 619.5,336.3C621.9,336.7 624.4,337.5 626.9,338.1C629.4,338.6 631.8,339.2 634.3,339.5C636.8,339.9 639.3,339.8 641.8,340.3C644.2,340.8 646.7,342.0 649.2,342.6C651.7,343.1 654.1,343.0 656.6,343.5C659.1,343.9 661.6,344.7 664.0,345.0C666.5,345.3 669.0,345.2 671.5,345.4C674.0,345.6 676.4,346.0 678.9,346.4C681.4,346.9 683.9,347.9 686.3,348.3C688.8,348.6 691.3,348.5 693.8,348.8C696.2,349.0 698.7,349.5 701.2,349.9C703.7,350.3 706.2,350.8 708.6,351.1C711.1,351.5 713.6,351.5 716.1,351.8C718.5,352.2 721.0,352.8 723.5,353.3C726.0,353.7 729.7,354.2 730.9,354.4" stroke="#B1C97F"/>
<path d="M47.8,365.5C50.1,365.5 52.5,365.5 61.8,365.5C71.1,365.5 95.9,365.5 103.6,365.5C111.3,365.5 106.7,390.9 108.2,365.5C109.7,340.1 111.3,213.2 112.8,213.2C114.3,213.2 115.7,340.1 117.4,365.5C119.1,390.9 121.2,380.1 122.8,365.5C124.4,350.9 125.8,293.2 127.2,278.1C128.6,263.0 129.7,274.5 131.1,274.9C132.6,275.2 134.5,277.5 136.1,280.3C137.8,283.0 139.4,290.0 141.1,291.3C142.7,292.6 144.4,286.2 146.0,288.1C147.7,290.0 149.3,300.5 151.0,302.5C152.6,304.5 154.3,301.4 155.9,300.1C157.6,298.7 159.2,292.6 160.9,294.4C162.5,296.1 164.2,309.3 165.8,310.6C167.5,311.9 169.1,302.5 170.8,302.4C172.4,302.2 174.1,308.9 175.7,309.9C177.4,310.9 179.0,309.2 180.7,308.3C182.3,307.4 184.0,304.8 185.6,304.5C187.3,304.2 188.9,305.4 190.6,306.6C192.2,307.8 193.9,311.1 195.6,311.7C197.2,312.2 198.9,309.6 200.5,309.6C202.2,309.6 203.8,311.6 205.5,311.6C207.1,311.6 208.8,309.4 210.4,309.5C212.1,309.5 213.7,311.5 215.4,311.9C217.0,312.3 218.7,311.8 220.3,312.0C222.0,312.1 223.6,312.9 225.3,313.0C226.9,313.0 228.6,312.9 230.2,312.3C231.9,311.7 233.5,309.9 235.2,309.4C236.8,308.9 238.5,309.2 240.1,309.2C241.8,309.2 243.4,309.2 245.1,309.4C246.7,309.6 248.4,310.4 250.0,310.5C251.7,310.6 253.3,310.3 255.0,310.0C256.7,309.8 258.3,308.9 260.0,308.9C261.6,308.8 263.3,309.8 264.9,309.6C266.6,309.3 268.2,307.5 269.9,307.4C271.5,307.3 273.2,309.1 274.8,309.1C276.5,309.0 278.1,307.1 279.8,307.1C281.4,307.0 283.1,308.5 284.7,308.6C286.4,308.8 288.0,308.0 289.7,307.9C291.3,307.8 293.0,307.9 294.6,307.9C296.3,307.8 297.9,307.8 299.6,307.5C301.2,307.2 302.9,306.1 304.5,305.8C306.2,305.6 307.8,306.1 309.5,306.0C311.1,305.9 312.8,305.4 314.4,305.3C316.1,305.2 317.8,305.2 319.4,305.2C321.1,305.1 322.7,305.1 324.4,304.8C326.0,304.6 327.7,304.2 329.3,303.9C331.0,303.6 332.6,303.2 334.3,303.1C335.9,303.0 337.6,303.3 339.2,303.3C340.9,303.2 342.5,302.9 344.2,302.7C345.8,302.6 347.5,302.6 349.1,302.4C350.8,302.2 352.4,301.8 354.1,301.8C355.7,301.7 358.1,301.9 359.0,301.9C359.9,301.9 358.1,301.8 359.4,301.7C360.7,301.7 364.4,301.5 366.8,301.6C369.3,301.6 371.8,301.8 374.3,302.0C376.7,302.1 379.2,302.2 381.7,302.5C384.2,302.9 386.6,303.5 389.1,303.9C391.6,304.3 394.1,304.8 396.6,305.1C399.0,305.5 401.5,305.8 404.0,306.1C406.5,306.4 408.9,306.6 411.4,306.7C413.9,306.8 416.4,306.4 418.8,306.7C421.3,307.0 423.8,308.0 426.3,308.5C428.8,308.9 431.2,309.0 433.7,309.4C436.2,309.8 438.7,310.7 441.1,310.9C443.6,311.2 446.1,310.8 448.6,311.1C451.0,311.4 453.5,312.3 456.0,312.7C458.5,313.0 460.9,312.9 463.4,313.2C465.9,313.5 468.4,314.0 470.9,314.3C473.3,314.7 475.8,315.2 478.3,315.5C480.8,315.7 483.2,315.3 485.7,315.6C488.2,315.9 490.7,316.8 493.1,317.2C495.6,317.6 498.1,317.9 500.6,318.2C503.1,318.5 505.5,318.8 508.0,319.0C510.5,319.3 513.0,319.4 515.4,319.7C517.9,319.9 520.4,320.1 522.9,320.5C525.3,321.0 527.8,322.0 530.3,322.4C532.8,322.8 535.3,322.6 537.7,322.9C540.2,323.1 542.7,323.6 545.2,324.0C547.6,324.4 550.1,324.8 552.6,325.2C555.1,325.7 557.5,326.4 560.0,327.0C562.5,327.6 565.0,328.4 567.5,328.9C569.9,329.4 572.4,329.8 574.9,330.1C577.4,330.4 579.8,330.3 582.3,330.6C584.8,330.9 587.3,331.6 589.7,332.1C592.2,332.5 594.7,333.0 597.2,333.4C599.6,333.8 602.1,334.2 604.6,334.5C607.1,334.8 609.6,334.8 612.0,335.2C614.5,335.6 617.0,336.2 619.5,336.7C621.9,337.2 624.4,337.8 626.9,338.2C629.4,338.7 631.8,339.1 634.3,339.5C636.8,339.9 639.3,340.1 641.8,340.7C644.2,341.3 646.7,342.3 649.2,342.9C651.7,343.5 654.1,343.8 656.6,344.2C659.1,344.6 661.6,345.0 664.0,345.3C666.5,345.7 669.0,345.9 671.5,346.3C674.0,346.7 676.4,347.3 678.9,347.6C681.4,347.9 683.9,347.6 686.3,347.8C688.8,348.1 691.3,348.8 693.8,349.1C696.2,349.4 698.7,349.3 701.2,349.7C703.7,350.0 706.2,350.9 708.6,351.3C711.1,351.6 713.6,351.6 716.1,351.9C718.5,352.3 721.0,353.1 723.5,353.4C726.0,353.7 729.7,353.8 730.9,353.9" stroke="#9C87B6"/>
<path d="M47.8,365.5C50.1,365.5 52.0,365.5 61.8,365.5C71.6,365.5 98.6,365.5 106.8,365.5C115.0,365.5 109.7,387.6 111.2,365.5C112.7,343.4 114.1,232.9 115.6,232.9C117.1,232.9 118.8,343.4 120.0,365.5C121.2,387.6 121.5,382.8 122.7,365.5C123.9,348.2 125.8,275.9 127.2,261.5C128.6,247.0 129.7,275.6 131.1,278.8C132.6,282.0 134.5,277.2 136.1,280.7C137.8,284.2 139.4,297.8 141.1,299.8C142.7,301.8 144.4,291.0 146.0,292.6C147.7,294.2 149.3,308.9 151.0,309.3C152.6,309.7 154.3,296.2 155.9,295.1C157.6,293.9 159.2,299.5 160.9,302.1C162.5,304.8 164.2,311.2 165.8,311.1C167.5,311.0 169.1,301.9 170.8,301.7C172.4,301.4 174.1,308.1 175.7,309.6C177.4,311.1 179.0,310.6 180.7,310.6C182.3,310.7 184.0,310.2 185.6,309.9C187.3,309.6 188.9,308.5 190.6,308.8C192.2,309.1 193.9,311.3 195.6,311.6C197.2,311.9 198.9,310.3 200.5,310.5C202.2,310.7 203.8,312.4 205.5,312.9C207.1,313.5 208.8,314.5 210.4,313.9C212.1,313.4 213.7,310.2 215.4,309.5C217.0,308.8 218.7,309.6 220.3,309.8C222.0,309.9 223.6,310.0 225.3,310.4C226.9,310.8 228.6,312.2 230.2,312.1C231.9,312.0 233.5,309.9 235.2,309.7C236.8,309.5 238.5,311.1 240.1,311.0C241.8,310.8 243.4,309.2 245.1,309.0C246.7,308.9 248.4,310.1 250.0,310.0C251.7,310.0 253.3,309.3 255.0,309.0C256.7,308.6 258.3,308.0 260.0,307.9C261.6,307.8 263.3,308.0 264.9,308.1C266.6,308.2 268.2,308.4 269.9,308.5C271.5,308.7 273.2,308.9 274.8,308.8C276.5,308.6 278.1,307.6 279.8,307.6C281.4,307.6 283.1,308.9 284.7,308.7C286.4,308.5 288.0,306.7 289.7,306.4C291.3,306.1 293.0,307.0 294.6,307.1C296.3,307.1 297.9,306.6 299.6,306.5C301.2,306.3 302.9,306.1 304.5,306.0C306.2,305.9 307.8,306.2 309.5,306.0C311.1,305.8 312.8,304.9 314.4,304.7C316.1,304.4 317.8,304.5 319.4,304.5C321.1,304.4 322.7,304.6 324.4,304.5C326.0,304.3 327.7,303.9 329.3,303.7C331.0,303.5 332.6,303.3 334.3,303.3C335.9,303.3 337.6,303.7 339.2,303.6C340.9,303.6 342.5,302.9 344.2,302.8C345.8,302.6 347.5,302.6 349.1,302.5C350.8,302.4 352.4,302.5 354.1,302.3C355.7,302.1 358.1,301.5 359.0,301.5C359.9,301.5 358.1,302.5 359.4,302.5C360.7,302.5 364.4,301.8 366.8,301.7C369.3,301.5 371.8,301.6 374.3,301.6C376.7,301.7 379.2,301.9 381.7,302.2C384.2,302.6 386.6,303.2 389.1,303.8C391.6,304.3 394.1,305.1 396.6,305.4C399.0,305.6 401.5,305.0 404.0,305.2C406.5,305.5 408.9,306.4 411.4,306.8C413.9,307.2 416.4,307.3 418.8,307.6C421.3,307.9 423.8,308.6 426.3,308.8C428.8,309.1 431.2,308.8 433.7,309.1C436.2,309.5 438.7,310.2 441.1,310.7C443.6,311.2 446.1,311.5 448.6,311.9C451.0,312.3 453.5,312.8 456.0,313.0C458.5,313.3 460.9,313.4 463.4,313.7C465.9,314.0 468.4,314.6 470.9,315.0C473.3,315.3 475.8,315.6 478.3,315.8C480.8,316.0 483.2,315.7 485.7,316.0C488.2,316.2 490.7,316.9 493.1,317.3C495.6,317.7 498.1,318.1 500.6,318.4C503.1,318.6 505.5,318.6 508.0,318.8C510.5,319.1 513.0,319.5 515.4,319.8C517.9,320.2 520.4,320.4 522.9,320.8C525.3,321.2 527.8,321.8 530.3,322.2C532.8,322.6 535.3,323.0 537.7,323.3C540.2,323.7 542.7,323.8 545.2,324.3C547.6,324.7 550.1,325.7 552.6,326.2C555.1,326.6 557.5,326.6 560.0,326.9C562.5,327.2 565.0,327.5 567.5,328.0C569.9,328.5 572.4,329.3 574.9,329.8C577.4,330.4 579.8,331.1 582.3,331.4C584.8,331.8 587.3,331.9 589.7,332.2C592.2,332.4 594.7,332.7 597.2,333.2C599.6,333.6 602.1,334.2 604.6,334.7C607.1,335.2 609.6,335.5 612.0,336.1C614.5,336.6 617.0,337.4 619.5,337.8C621.9,338.2 624.4,338.1 626.9,338.5C629.4,338.9 631.8,339.8 634.3,340.2C636.8,340.6 639.3,340.4 641.8,340.8C644.2,341.3 646.7,342.3 649.2,342.9C651.7,343.5 654.1,344.2 656.6,344.5C659.1,344.8 661.6,344.3 664.0,344.6C666.5,344.8 669.0,345.5 671.5,345.9C674.0,346.3 676.4,346.5 678.9,346.9C681.4,347.4 683.9,348.3 686.3,348.6C688.8,348.9 691.3,348.6 693.8,348.8C696.2,349.1 698.7,349.8 701.2,350.2C703.7,350.5 706.2,350.9 708.6,351.1C711.1,351.4 713.6,351.5 716.1,351.7C718.5,352.0 721.0,352.5 723.5,352.9C726.0,353.3 729.7,354.0 730.9,354.2" stroke="#74BED2"/>
<path d="M47.8,365.5C50.1,365.5 52.3,365.5 61.8,365.5C71.3,365.5 97.3,365.5 105.0,365.5C112.7,365.5 107.0,382.0 108.0,365.5C109.0,349.0 109.8,266.8 111.0,266.8C112.2,266.8 114.1,349.0 115.0,365.5C115.9,382.0 115.3,386.0 116.2,365.5C117.1,345.0 119.0,242.7 120.4,242.7C121.8,242.7 123.5,364.6 124.6,365.5C125.7,366.4 126.1,264.6 127.2,248.3C128.3,232.1 129.7,262.5 131.1,267.8C132.6,273.1 134.5,276.5 136.1,280.0C137.8,283.5 139.4,287.9 141.1,288.8C142.7,289.8 144.4,284.7 146.0,285.9C147.7,287.0 149.3,294.2 151.0,295.8C152.6,297.3 154.3,294.9 155.9,295.2C157.6,295.5 159.2,295.8 160.9,297.6C162.5,299.5 164.2,305.8 165.8,306.4C167.5,306.9 169.1,299.9 170.8,300.9C172.4,301.8 174.1,310.6 175.7,312.0C177.4,313.5 179.0,310.3 180.7,309.5C182.3,308.7 184.0,307.8 185.6,307.2C187.3,306.7 188.9,305.9 190.6,306.0C192.2,306.1 193.9,307.0 195.6,307.7C197.2,308.4 198.9,309.3 200.5,310.2C202.2,311.1 203.8,312.2 205.5,312.9C207.1,313.5 208.8,314.5 210.4,314.0C212.1,313.6 213.7,310.6 215.4,310.3C217.0,310.0 218.7,312.0 220.3,312.1C222.0,312.3 223.6,311.7 225.3,311.3C226.9,310.8 228.6,309.6 230.2,309.6C231.9,309.5 233.5,311.2 235.2,311.0C236.8,310.8 238.5,308.4 240.1,308.4C241.8,308.4 243.4,310.6 245.1,310.9C246.7,311.1 248.4,310.4 250.0,310.0C251.7,309.7 253.3,308.7 255.0,308.8C256.7,308.9 258.3,310.8 260.0,310.5C261.6,310.3 263.3,307.6 264.9,307.3C266.6,306.9 268.2,308.5 269.9,308.4C271.5,308.3 273.2,306.9 274.8,306.7C276.5,306.5 278.1,307.1 279.8,307.4C281.4,307.7 283.1,308.4 284.7,308.4C286.4,308.4 288.0,307.7 289.7,307.5C291.3,307.3 293.0,307.2 294.6,307.2C296.3,307.2 297.9,307.5 299.6,307.3C301.2,307.2 302.9,307.0 304.5,306.6C306.2,306.2 307.8,305.3 309.5,305.0C311.1,304.7 312.8,305.0 314.4,304.9C316.1,304.8 317.8,304.5 319.4,304.4C321.1,304.2 322.7,303.8 324.4,303.7C326.0,303.6 327.7,303.8 329.3,303.7C331.0,303.7 332.6,303.5 334.3,303.3C335.9,303.1 337.6,302.9 339.2,302.8C340.9,302.6 342.5,302.6 344.2,302.5C345.8,302.4 347.5,302.2 349.1,302.2C350.8,302.2 352.4,302.4 354.1,302.4C355.7,302.3 358.1,302.1 359.0,301.9C359.9,301.8 358.1,301.7 359.4,301.6C360.7,301.5 364.4,301.3 366.8,301.3C369.3,301.3 371.8,301.1 374.3,301.4C376.7,301.6 379.2,302.3 381.7,302.8C384.2,303.3 386.6,303.8 389.1,304.2C391.6,304.6 394.1,305.0 396.6,305.4C399.0,305.7 401.5,306.0 404.0,306.3C406.5,306.6 408.9,306.7 411.4,307.1C413.9,307.5 416.4,308.3 418.8,308.8C421.3,309.2 423.8,309.6 426.3,309.9C428.8,310.2 431.2,310.3 433.7,310.5C436.2,310.7 438.7,310.9 441.1,311.4C443.6,311.8 446.1,312.9 448.6,313.3C451.0,313.7 453.5,313.7 456.0,313.9C458.5,314.2 460.9,314.7 463.4,314.9C465.9,315.1 468.4,314.9 470.9,315.3C473.3,315.6 475.8,316.5 478.3,317.0C480.8,317.5 483.2,317.9 485.7,318.1C488.2,318.3 490.7,317.9 493.1,318.0C495.6,318.2 498.1,318.7 500.6,319.0C503.1,319.3 505.5,319.7 508.0,320.0C510.5,320.3 513.0,320.5 515.4,320.9C517.9,321.2 520.4,321.8 522.9,322.3C525.3,322.8 527.8,323.4 530.3,323.8C532.8,324.2 535.3,324.3 537.7,324.6C540.2,324.9 542.7,325.0 545.2,325.5C547.6,325.9 550.1,326.7 552.6,327.2C555.1,327.7 557.5,328.3 560.0,328.7C562.5,329.2 565.0,329.6 567.5,329.9C569.9,330.2 572.4,330.2 574.9,330.7C577.4,331.1 579.8,332.3 582.3,332.6C584.8,332.9 587.3,332.3 589.7,332.7C592.2,333.0 594.7,334.1 597.2,334.6C599.6,335.1 602.1,335.4 604.6,335.7C607.1,336.1 609.6,336.1 612.0,336.5C614.5,336.9 617.0,337.8 619.5,338.2C621.9,338.6 624.4,338.4 626.9,338.7C629.4,339.0 631.8,339.3 634.3,339.9C636.8,340.4 639.3,341.5 641.8,342.1C644.2,342.7 646.7,342.8 649.2,343.3C651.7,343.8 654.1,344.9 656.6,345.2C659.1,345.5 661.6,344.9 664.0,345.1C666.5,345.3 669.0,345.9 671.5,346.3C674.0,346.7 676.4,346.9 678.9,347.4C681.4,347.8 683.9,348.8 686.3,349.1C688.8,349.3 691.3,348.6 693.8,348.8C696.2,348.9 698.7,349.6 701.2,350.0C703.7,350.5 706.2,351.1 708.6,351.5C711.1,352.0 713.6,352.1 716.1,352.5C718.5,352.8 721.0,353.3 723.5,353.6C726.0,353.8 729.7,353.9 730.9,354.0" stroke="#F7AD71"/>
<path d="M47.8,365.5C50.1,365.5 52.3,365.5 61.8,365.5C71.3,365.5 96.9,365.5 104.8,365.5C112.7,365.5 107.7,387.6 109.2,365.5C110.7,343.4 112.1,232.9 113.6,232.9C115.1,232.9 117.4,343.4 118.0,365.5C118.6,387.6 116.9,382.9 117.4,365.5C117.9,348.1 119.8,261.3 121.0,261.3C122.2,261.3 123.6,366.1 124.6,365.5C125.6,364.9 126.1,273.4 127.2,257.6C128.3,241.7 129.7,267.0 131.1,270.6C132.6,274.1 134.5,274.1 136.1,278.8C137.8,283.6 139.4,297.3 141.1,298.9C142.7,300.5 144.4,286.9 146.0,288.5C147.7,290.0 149.3,307.9 151.0,308.3C152.6,308.8 154.3,293.1 155.9,291.1C157.6,289.1 159.2,293.8 160.9,296.2C162.5,298.6 164.2,304.3 165.8,305.5C167.5,306.7 169.1,302.8 170.8,303.5C172.4,304.3 174.1,309.0 175.7,310.1C177.4,311.2 179.0,310.2 180.7,309.9C182.3,309.5 184.0,308.5 185.6,308.1C187.3,307.7 188.9,307.4 190.6,307.6C192.2,307.8 193.9,309.4 195.6,309.4C197.2,309.4 198.9,308.0 200.5,307.8C202.2,307.6 203.8,307.5 205.5,308.3C207.1,309.1 208.8,312.1 210.4,312.6C212.1,313.0 213.7,311.6 215.4,311.1C217.0,310.6 218.7,309.2 220.3,309.6C222.0,310.1 223.6,313.5 225.3,313.7C226.9,313.9 228.6,311.9 230.2,311.0C231.9,310.1 233.5,308.7 235.2,308.5C236.8,308.3 238.5,309.3 240.1,309.6C241.8,310.0 243.4,310.7 245.1,310.6C246.7,310.4 248.4,309.0 250.0,308.8C251.7,308.5 253.3,309.1 255.0,309.2C256.7,309.3 258.3,309.6 260.0,309.4C261.6,309.2 263.3,308.4 264.9,308.2C266.6,308.0 268.2,308.2 269.9,308.0C271.5,307.7 273.2,307.2 274.8,306.8C276.5,306.5 278.1,305.9 279.8,305.8C281.4,305.7 283.1,306.0 284.7,306.3C286.4,306.6 288.0,307.6 289.7,307.6C291.3,307.6 293.0,306.4 294.6,306.1C296.3,305.9 297.9,306.1 299.6,306.0C301.2,305.8 302.9,305.2 304.5,305.1C306.2,305.0 307.8,305.4 309.5,305.3C311.1,305.2 312.8,304.7 314.4,304.5C316.1,304.3 317.8,304.1 319.4,304.1C321.1,304.1 322.7,304.4 324.4,304.4C326.0,304.4 327.7,304.3 329.3,304.1C331.0,303.8 332.6,303.1 334.3,302.9C335.9,302.7 337.6,302.8 339.2,302.8C340.9,302.8 342.5,303.2 344.2,303.1C345.8,302.9 347.5,302.0 349.1,301.9C350.8,301.7 352.4,302.4 354.1,302.3C355.7,302.3 358.1,301.4 359.0,301.4C359.9,301.4 358.1,302.4 359.4,302.4C360.7,302.3 364.4,301.3 366.8,301.2C369.3,301.2 371.8,301.7 374.3,302.1C376.7,302.5 379.2,303.0 381.7,303.4C384.2,303.8 386.6,304.1 389.1,304.5C391.6,304.9 394.1,305.3 396.6,305.7C399.0,306.1 401.5,306.8 404.0,307.1C406.5,307.4 408.9,307.1 411.4,307.5C413.9,307.8 416.4,308.4 418.8,308.9C421.3,309.5 423.8,310.4 426.3,310.8C428.8,311.2 431.2,311.1 433.7,311.3C436.2,311.5 438.7,311.6 441.1,312.0C443.6,312.4 446.1,313.0 448.6,313.5C451.0,314.0 453.5,314.5 456.0,315.0C458.5,315.4 460.9,315.8 463.4,316.0C465.9,316.3 468.4,316.2 470.9,316.4C473.3,316.6 475.8,317.1 478.3,317.4C480.8,317.7 483.2,317.9 485.7,318.1C488.2,318.3 490.7,318.3 493.1,318.6C495.6,318.8 498.1,319.1 500.6,319.5C503.1,319.9 505.5,320.6 508.0,320.9C510.5,321.3 513.0,321.3 515.4,321.7C517.9,322.1 520.4,322.9 522.9,323.4C525.3,323.8 527.8,323.9 530.3,324.2C532.8,324.5 535.3,324.8 537.7,325.2C540.2,325.6 542.7,325.9 545.2,326.5C547.6,327.0 550.1,328.0 552.6,328.4C555.1,328.8 557.5,328.6 560.0,328.9C562.5,329.1 565.0,329.4 567.5,329.9C569.9,330.3 572.4,331.1 574.9,331.6C577.4,332.0 579.8,332.2 582.3,332.5C584.8,332.8 587.3,332.8 589.7,333.4C592.2,334.0 594.7,335.4 597.2,335.9C599.6,336.4 602.1,336.1 604.6,336.4C607.1,336.8 609.6,337.4 612.0,337.8C614.5,338.2 617.0,338.5 619.5,338.9C621.9,339.3 624.4,339.8 626.9,340.1C629.4,340.4 631.8,340.5 634.3,340.8C636.8,341.1 639.3,341.5 641.8,342.0C644.2,342.6 646.7,343.8 649.2,344.2C651.7,344.6 654.1,344.4 656.6,344.6C659.1,344.9 661.6,345.5 664.0,345.7C666.5,346.0 669.0,346.0 671.5,346.3C674.0,346.7 676.4,347.3 678.9,347.8C681.4,348.3 683.9,349.1 686.3,349.4C688.8,349.7 691.3,349.4 693.8,349.6C696.2,349.8 698.7,350.2 701.2,350.5C703.7,350.8 706.2,351.0 708.6,351.3C711.1,351.7 713.6,351.9 716.1,352.3C718.5,352.8 721.0,353.5 723.5,353.9C726.0,354.3 729.7,354.6 730.9,354.7" stroke="#A2B9D6"/>
<path d="M47.8,365.5C50.1,365.5 52.4,365.5 61.8,365.5C71.2,365.5 96.0,365.5 104.2,365.5C112.4,365.5 108.9,420.1 111.2,365.5C113.5,310.9 116.2,37.7 118.2,37.7C120.2,37.7 121.5,326.9 123.0,365.5C124.5,404.1 125.8,283.8 127.2,269.4C128.6,254.9 129.7,277.5 131.1,278.7C132.6,280.0 134.5,275.1 136.1,276.7C137.8,278.3 139.4,287.7 141.1,288.4C142.7,289.1 144.4,279.3 146.0,281.1C147.7,282.9 149.3,296.8 151.0,299.2C152.6,301.5 154.3,296.2 155.9,295.3C157.6,294.4 159.2,292.2 160.9,293.9C162.5,295.5 164.2,303.5 165.8,305.4C167.5,307.3 169.1,305.0 170.8,305.0C172.4,305.0 174.1,305.1 175.7,305.3C177.4,305.5 179.0,305.9 180.7,306.1C182.3,306.3 184.0,306.7 185.6,306.3C187.3,306.0 188.9,303.8 190.6,304.0C192.2,304.2 193.9,306.8 195.6,307.4C197.2,308.1 198.9,308.1 200.5,308.0C202.2,307.9 203.8,306.9 205.5,307.0C207.1,307.2 208.8,308.7 210.4,308.8C212.1,309.0 213.7,307.8 215.4,308.2C217.0,308.5 218.7,309.9 220.3,310.8C222.0,311.7 223.6,313.4 225.3,313.7C226.9,314.1 228.6,313.4 230.2,312.9C231.9,312.4 233.5,311.6 235.2,310.7C236.8,309.8 238.5,307.8 240.1,307.7C241.8,307.6 243.4,309.8 245.1,310.2C246.7,310.5 248.4,310.3 250.0,310.0C251.7,309.6 253.3,308.4 255.0,308.0C256.7,307.5 258.3,307.4 260.0,307.4C261.6,307.4 263.3,308.0 264.9,308.0C266.6,308.0 268.2,307.5 269.9,307.3C271.5,307.2 273.2,307.0 274.8,307.0C276.5,306.9 278.1,306.8 279.8,306.9C281.4,306.9 283.1,307.3 284.7,307.5C286.4,307.6 288.0,307.8 289.7,307.6C291.3,307.4 293.0,306.6 294.6,306.3C296.3,306.1 297.9,306.4 299.6,306.3C301.2,306.1 302.9,305.7 304.5,305.4C306.2,305.1 307.8,304.8 309.5,304.7C311.1,304.6 312.8,305.0 314.4,305.0C316.1,305.0 317.8,305.0 319.4,304.8C321.1,304.6 322.7,303.9 324.4,303.8C326.0,303.7 327.7,304.2 329.3,304.1C331.0,304.0 332.6,303.3 334.3,303.1C335.9,303.0 337.6,303.2 339.2,303.1C340.9,303.0 342.5,302.5 344.2,302.4C345.8,302.3 347.5,302.7 349.1,302.6C350.8,302.5 352.4,301.9 354.1,301.8C355.7,301.7 358.1,302.1 359.0,302.0C359.9,302.0 358.1,301.7 359.4,301.6C360.7,301.5 364.4,301.2 366.8,301.3C369.3,301.3 371.8,301.7 374.3,302.0C376.7,302.3 379.2,302.8 381.7,303.2C384.2,303.6 386.6,303.6 389.1,304.2C391.6,304.7 394.1,305.9 396.6,306.4C399.0,306.8 401.5,306.5 404.0,306.9C406.5,307.2 408.9,308.3 411.4,308.5C413.9,308.8 416.4,308.1 418.8,308.3C421.3,308.5 423.8,309.4 426.3,309.9C428.8,310.5 431.2,311.1 433.7,311.6C436.2,312.0 438.7,312.4 441.1,312.7C443.6,313.1 446.1,313.5 448.6,313.8C451.0,314.1 453.5,314.2 456.0,314.5C458.5,314.7 460.9,315.1 463.4,315.4C465.9,315.8 468.4,316.4 470.9,316.8C473.3,317.1 475.8,317.3 478.3,317.6C480.8,318.0 483.2,318.7 485.7,318.9C488.2,319.0 490.7,318.1 493.1,318.4C495.6,318.7 498.1,320.2 500.6,320.6C503.1,321.0 505.5,320.7 508.0,321.0C510.5,321.2 513.0,321.7 515.4,322.0C517.9,322.4 520.4,322.6 522.9,323.0C525.3,323.4 527.8,324.0 530.3,324.4C532.8,324.9 535.3,325.4 537.7,325.9C540.2,326.3 542.7,326.9 545.2,327.2C547.6,327.4 550.1,327.2 552.6,327.6C555.1,328.0 557.5,329.5 560.0,329.8C562.5,330.2 565.0,329.7 567.5,329.9C569.9,330.1 572.4,330.8 574.9,331.2C577.4,331.7 579.8,332.0 582.3,332.5C584.8,333.0 587.3,333.7 589.7,334.2C592.2,334.7 594.7,335.3 597.2,335.7C599.6,336.0 602.1,336.0 604.6,336.2C607.1,336.5 609.6,336.5 612.0,337.0C614.5,337.5 617.0,338.7 619.5,339.1C621.9,339.5 624.4,339.0 626.9,339.3C629.4,339.7 631.8,340.9 634.3,341.3C636.8,341.8 639.3,341.6 641.8,342.0C644.2,342.4 646.7,343.1 649.2,343.5C651.7,344.0 654.1,344.5 656.6,344.8C659.1,345.2 661.6,345.5 664.0,345.7C666.5,346.0 669.0,346.0 671.5,346.5C674.0,346.9 676.4,348.0 678.9,348.3C681.4,348.6 683.9,348.1 686.3,348.4C688.8,348.6 691.3,349.4 693.8,349.7C696.2,350.1 698.7,350.4 701.2,350.7C703.7,351.1 706.2,351.6 708.6,351.8C711.1,352.0 713.6,351.8 716.1,352.1C718.5,352.3 721.0,352.9 723.5,353.3C726.0,353.7 729.7,354.3 730.9,354.5" stroke="#D7A2A1"/>
<path d="M47.8,365.5C50.1,365.5 57.2,365.5 61.8,365.5C66.4,365.5 72.4,365.5 75.5,365.5C78.6,365.5 78.6,385.6 80.2,365.5C81.8,345.4 83.3,244.9 84.9,244.9C86.5,244.9 88.0,345.4 89.6,365.5C91.2,385.6 90.2,365.5 94.3,365.5C98.4,365.5 110.4,365.5 114.4,365.5C118.4,365.5 117.1,389.1 118.4,365.5C119.7,341.9 120.9,240.4 122.4,224.1C123.9,207.9 125.7,263.1 127.2,267.9C128.7,272.7 129.7,251.6 131.1,253.0C132.6,254.4 134.5,270.8 136.1,276.1C137.8,281.5 139.4,283.7 141.1,285.2C142.7,286.7 144.4,283.4 146.0,285.0C147.7,286.5 149.3,293.8 151.0,294.3C152.6,294.8 154.3,288.5 155.9,288.0C157.6,287.4 159.2,289.0 160.9,291.0C162.5,292.9 164.2,298.5 165.8,299.5C167.5,300.5 169.1,295.2 170.8,297.1C172.4,299.0 174.1,309.4 175.7,311.0C177.4,312.6 179.0,307.3 180.7,306.8C182.3,306.3 184.0,308.5 185.6,308.1C187.3,307.7 188.9,304.7 190.6,304.6C192.2,304.4 193.9,306.3 195.6,307.4C197.2,308.4 198.9,311.0 200.5,310.8C202.2,310.7 203.8,306.7 205.5,306.6C207.1,306.5 208.8,310.0 210.4,310.0C212.1,310.0 213.7,306.4 215.4,306.6C217.0,306.9 218.7,311.0 220.3,311.5C222.0,311.9 223.6,310.0 225.3,309.5C226.9,309.0 228.6,308.2 230.2,308.2C231.9,308.2 233.5,309.3 235.2,309.4C236.8,309.5 238.5,308.8 240.1,308.8C241.8,308.9 243.4,309.4 245.1,309.5C246.7,309.6 248.4,309.7 250.0,309.4C251.7,309.2 253.3,307.7 255.0,307.8C256.7,307.9 258.3,309.9 260.0,309.9C261.6,309.8 263.3,307.7 264.9,307.3C266.6,306.9 268.2,307.3 269.9,307.4C271.5,307.4 273.2,308.1 274.8,307.8C276.5,307.5 278.1,305.8 279.8,305.8C281.4,305.8 283.1,307.7 284.7,307.9C286.4,308.1 288.0,307.4 289.7,307.0C291.3,306.6 293.0,305.6 294.6,305.4C296.3,305.2 297.9,305.6 299.6,305.7C301.2,305.7 302.9,305.8 304.5,305.6C306.2,305.4 307.8,304.5 309.5,304.3C311.1,304.0 312.8,304.4 314.4,304.3C316.1,304.3 317.8,304.2 319.4,304.1C321.1,304.1 322.7,304.1 324.4,303.9C326.0,303.7 327.7,303.1 329.3,303.0C331.0,302.8 332.6,302.8 334.3,302.9C335.9,302.9 337.6,303.4 339.2,303.4C340.9,303.3 342.5,302.9 344.2,302.7C345.8,302.4 347.5,302.2 349.1,302.0C350.8,301.8 352.4,301.6 354.1,301.5C355.7,301.4 358.1,301.4 359.0,301.4C359.9,301.4 358.1,301.6 359.4,301.5C360.7,301.4 364.4,300.8 366.8,300.9C369.3,301.0 371.8,301.8 374.3,302.2C376.7,302.7 379.2,303.1 381.7,303.4C384.2,303.8 386.6,303.8 389.1,304.2C391.6,304.7 394.1,305.9 396.6,306.3C399.0,306.7 401.5,306.4 404.0,306.8C406.5,307.2 408.9,308.6 411.4,308.9C413.9,309.1 416.4,308.1 418.8,308.5C421.3,308.8 423.8,310.4 426.3,310.9C428.8,311.4 431.2,311.1 433.7,311.4C436.2,311.8 438.7,312.4 441.1,312.9C443.6,313.4 446.1,314.1 448.6,314.5C451.0,314.9 453.5,314.9 456.0,315.1C458.5,315.4 460.9,315.6 463.4,316.0C465.9,316.4 468.4,317.1 470.9,317.4C473.3,317.7 475.8,317.6 478.3,317.9C480.8,318.2 483.2,318.8 485.7,319.0C488.2,319.2 490.7,319.0 493.1,319.2C495.6,319.4 498.1,319.8 500.6,320.2C503.1,320.7 505.5,321.7 508.0,322.1C510.5,322.4 513.0,322.0 515.4,322.4C517.9,322.8 520.4,323.9 522.9,324.4C525.3,324.8 527.8,325.1 530.3,325.4C532.8,325.7 535.3,326.1 537.7,326.4C540.2,326.7 542.7,326.9 545.2,327.2C547.6,327.6 550.1,328.1 552.6,328.5C555.1,329.0 557.5,329.2 560.0,329.7C562.5,330.3 565.0,331.3 567.5,331.8C569.9,332.2 572.4,332.1 574.9,332.5C577.4,332.9 579.8,334.1 582.3,334.3C584.8,334.6 587.3,334.1 589.7,334.3C592.2,334.5 594.7,335.2 597.2,335.6C599.6,336.0 602.1,336.3 604.6,336.7C607.1,337.1 609.6,337.7 612.0,338.1C614.5,338.5 617.0,338.8 619.5,339.1C621.9,339.4 624.4,339.6 626.9,339.9C629.4,340.3 631.8,340.6 634.3,341.1C636.8,341.5 639.3,342.3 641.8,342.8C644.2,343.3 646.7,343.7 649.2,344.0C651.7,344.3 654.1,344.4 656.6,344.7C659.1,345.0 661.6,345.6 664.0,345.9C666.5,346.3 669.0,346.5 671.5,346.8C674.0,347.2 676.4,347.5 678.9,347.8C681.4,348.1 683.9,348.4 686.3,348.7C688.8,348.9 691.3,349.1 693.8,349.4C696.2,349.8 698.7,350.5 701.2,350.8C703.7,351.2 706.2,351.4 708.6,351.7C711.1,352.0 713.6,352.2 716.1,352.5C718.5,352.8 721.0,353.2 723.5,353.5C726.0,353.7 729.7,354.1 730.9,354.2" stroke="#C6D5A7"/>
<path d="M47.8,365.5C50.1,365.5 57.2,365.5 61.8,365.5C66.4,365.5 72.5,365.5 75.6,365.5C78.7,365.5 78.7,393.6 80.2,365.5C81.7,337.4 83.3,196.7 84.8,196.7C86.3,196.7 87.9,337.4 89.4,365.5C90.9,393.6 91.6,365.5 94.0,365.5C96.4,365.5 101.2,365.5 103.6,365.5C106.0,365.5 106.7,408.3 108.2,365.5C109.7,322.7 111.3,108.4 112.8,108.4C114.3,108.4 115.7,322.7 117.4,365.5C119.1,408.3 121.1,381.8 122.7,365.5C124.4,349.2 125.8,287.2 127.2,267.6C128.6,248.0 129.7,246.2 131.1,247.8C132.6,249.4 134.5,271.3 136.1,277.4C137.8,283.4 139.4,282.7 141.1,284.1C142.7,285.5 144.4,283.2 146.0,285.6C147.7,287.9 149.3,297.4 151.0,298.3C152.6,299.2 154.3,292.2 155.9,290.9C157.6,289.6 159.2,288.6 160.9,290.4C162.5,292.1 164.2,300.4 165.8,301.6C167.5,302.8 169.1,296.8 170.8,297.5C172.4,298.3 174.1,305.7 175.7,306.2C177.4,306.7 179.0,300.3 180.7,300.6C182.3,300.9 184.0,307.3 185.6,308.0C187.3,308.6 188.9,304.8 190.6,304.5C192.2,304.3 193.9,305.9 195.6,306.6C197.2,307.3 198.9,308.4 200.5,308.8C202.2,309.1 203.8,308.2 205.5,308.5C207.1,308.9 208.8,311.1 210.4,310.9C212.1,310.8 213.7,307.8 215.4,307.7C217.0,307.6 218.7,310.2 220.3,310.4C222.0,310.7 223.6,309.2 225.3,309.0C226.9,308.7 228.6,309.1 230.2,308.9C231.9,308.7 233.5,307.8 235.2,307.8C236.8,307.7 238.5,308.2 240.1,308.5C241.8,308.9 243.4,310.1 245.1,310.0C246.7,309.8 248.4,308.2 250.0,307.6C251.7,307.1 253.3,306.7 255.0,306.7C256.7,306.7 258.3,307.6 260.0,307.9C261.6,308.2 263.3,308.5 264.9,308.4C266.6,308.3 268.2,307.9 269.9,307.4C271.5,307.0 273.2,305.6 274.8,305.5C276.5,305.5 278.1,306.8 279.8,306.9C281.4,307.0 283.1,306.2 284.7,306.1C286.4,305.9 288.0,306.2 289.7,306.1C291.3,305.9 293.0,305.1 294.6,305.2C296.3,305.2 297.9,306.4 299.6,306.3C301.2,306.2 302.9,304.9 304.5,304.7C306.2,304.5 307.8,305.3 309.5,305.1C311.1,304.9 312.8,304.0 314.4,303.7C316.1,303.3 317.8,303.1 319.4,303.1C321.1,303.2 322.7,303.9 324.4,303.8C326.0,303.7 327.7,302.6 329.3,302.4C331.0,302.3 332.6,302.9 334.3,302.9C335.9,302.9 337.6,302.8 339.2,302.6C340.9,302.4 342.5,301.9 344.2,301.8C345.8,301.7 347.5,301.8 349.1,301.8C350.8,301.7 352.4,301.6 354.1,301.7C355.7,301.8 358.1,302.1 359.0,302.2C359.9,302.3 358.1,302.3 359.4,302.1C360.7,302.0 364.4,301.1 366.8,301.1C369.3,301.2 371.8,301.8 374.3,302.3C376.7,302.8 379.2,303.6 381.7,304.0C384.2,304.5 386.6,304.5 389.1,305.0C391.6,305.6 394.1,306.7 396.6,307.3C399.0,307.8 401.5,307.9 404.0,308.1C406.5,308.4 408.9,308.6 411.4,308.8C413.9,309.0 416.4,308.8 418.8,309.3C421.3,309.8 423.8,311.2 426.3,311.8C428.8,312.3 431.2,312.3 433.7,312.6C436.2,313.0 438.7,313.5 441.1,314.0C443.6,314.4 446.1,314.8 448.6,315.3C451.0,315.7 453.5,316.2 456.0,316.5C458.5,316.9 460.9,317.1 463.4,317.5C465.9,317.9 468.4,318.4 470.9,318.8C473.3,319.2 475.8,319.7 478.3,319.8C480.8,320.0 483.2,319.3 485.7,319.6C488.2,319.9 490.7,321.3 493.1,321.6C495.6,322.0 498.1,321.4 500.6,321.6C503.1,321.7 505.5,322.1 508.0,322.5C510.5,322.9 513.0,323.7 515.4,324.2C517.9,324.6 520.4,324.7 522.9,325.0C525.3,325.4 527.8,325.8 530.3,326.3C532.8,326.8 535.3,327.7 537.7,328.1C540.2,328.5 542.7,328.5 545.2,328.9C547.6,329.3 550.1,330.0 552.6,330.3C555.1,330.6 557.5,330.2 560.0,330.6C562.5,331.0 565.0,332.3 567.5,332.8C569.9,333.4 572.4,333.7 574.9,334.1C577.4,334.4 579.8,334.7 582.3,335.0C584.8,335.3 587.3,335.6 589.7,335.8C592.2,336.0 594.7,336.1 597.2,336.4C599.6,336.8 602.1,337.6 604.6,338.0C607.1,338.5 609.6,338.7 612.0,339.1C614.5,339.5 617.0,340.1 619.5,340.4C621.9,340.8 624.4,341.0 626.9,341.4C629.4,341.8 631.8,342.4 634.3,342.7C636.8,343.0 639.3,343.0 641.8,343.3C644.2,343.7 646.7,344.4 649.2,344.8C651.7,345.2 654.1,345.7 656.6,345.9C659.1,346.1 661.6,345.8 664.0,346.0C666.5,346.2 669.0,346.7 671.5,347.0C674.0,347.3 676.4,347.5 678.9,348.0C681.4,348.4 683.9,349.2 686.3,349.6C688.8,349.9 691.3,349.7 693.8,350.0C696.2,350.3 698.7,350.9 701.2,351.2C703.7,351.5 706.2,351.7 708.6,351.9C711.1,352.2 713.6,352.3 716.1,352.6C718.5,352.9 721.0,353.6 723.5,353.9C726.0,354.1 729.7,354.1 730.9,354.1" stroke="#B9ABC9"/>
<path d="M47.8,365.5C50.1,365.5 57.2,365.5 61.8,365.5C66.4,365.5 72.5,365.5 75.6,365.5C78.7,365.5 78.7,389.1 80.2,365.5C81.7,341.9 83.3,224.1 84.8,224.1C86.3,224.1 87.9,341.9 89.4,365.5C90.9,389.1 90.8,365.5 94.0,365.5C97.2,365.5 105.6,365.5 108.8,365.5C112.0,365.5 111.7,391.8 113.2,365.5C114.7,339.2 116.1,207.7 117.6,207.7C119.1,207.7 120.4,357.0 122.0,365.5C123.6,374.0 125.7,278.3 127.2,258.5C128.7,238.6 129.7,245.7 131.1,246.6C132.6,247.5 134.5,257.6 136.1,263.8C137.8,269.9 139.4,281.7 141.1,283.6C142.7,285.5 144.4,273.3 146.0,275.3C147.7,277.3 149.3,293.3 151.0,295.8C152.6,298.4 154.3,291.9 155.9,290.5C157.6,289.1 159.2,285.4 160.9,287.4C162.5,289.3 164.2,301.0 165.8,302.1C167.5,303.3 169.1,293.6 170.8,294.5C172.4,295.5 174.1,305.7 175.7,307.7C177.4,309.7 179.0,307.8 180.7,306.7C182.3,305.6 184.0,301.4 185.6,301.2C187.3,301.0 188.9,304.5 190.6,305.6C192.2,306.7 193.9,307.4 195.6,308.0C197.2,308.6 198.9,309.4 200.5,309.5C202.2,309.6 203.8,308.3 205.5,308.5C207.1,308.7 208.8,310.7 210.4,310.4C212.1,310.2 213.7,306.8 215.4,306.8C217.0,306.8 218.7,310.0 220.3,310.5C222.0,311.0 223.6,310.2 225.3,309.8C226.9,309.4 228.6,308.5 230.2,308.2C231.9,307.8 233.5,307.6 235.2,307.7C236.8,307.9 238.5,308.7 240.1,309.0C241.8,309.4 243.4,309.8 245.1,309.9C246.7,310.0 248.4,310.0 250.0,309.9C251.7,309.7 253.3,309.5 255.0,308.9C256.7,308.4 258.3,306.8 260.0,306.6C261.6,306.4 263.3,307.6 264.9,307.7C266.6,307.8 268.2,307.3 269.9,307.0C271.5,306.7 273.2,306.2 274.8,306.0C276.5,305.7 278.1,305.4 279.8,305.3C281.4,305.2 283.1,305.4 284.7,305.4C286.4,305.4 288.0,305.3 289.7,305.3C291.3,305.4 293.0,305.4 294.6,305.5C296.3,305.6 297.9,306.1 299.6,306.0C301.2,305.8 302.9,304.8 304.5,304.5C306.2,304.3 307.8,304.6 309.5,304.5C311.1,304.4 312.8,303.9 314.4,303.8C316.1,303.7 317.8,304.1 319.4,304.1C321.1,304.0 322.7,303.7 324.4,303.5C326.0,303.3 327.7,302.7 329.3,302.6C331.0,302.5 332.6,302.9 334.3,302.9C335.9,302.9 337.6,302.6 339.2,302.5C340.9,302.5 342.5,302.4 344.2,302.4C345.8,302.3 347.5,302.4 349.1,302.3C350.8,302.1 352.4,301.6 354.1,301.5C355.7,301.4 358.1,301.6 359.0,301.7C359.9,301.7 358.1,301.7 359.4,301.8C360.7,301.8 364.4,301.9 366.8,301.9C369.3,301.9 371.8,301.5 374.3,301.8C376.7,302.2 379.2,303.4 381.7,304.0C384.2,304.6 386.6,305.0 389.1,305.6C391.6,306.1 394.1,306.8 396.6,307.2C399.0,307.7 401.5,307.6 404.0,308.0C406.5,308.5 408.9,309.4 411.4,309.8C413.9,310.3 416.4,310.4 418.8,310.8C421.3,311.2 423.8,311.7 426.3,312.1C428.8,312.5 431.2,312.7 433.7,313.2C436.2,313.7 438.7,314.7 441.1,315.1C443.6,315.4 446.1,315.3 448.6,315.5C451.0,315.8 453.5,316.0 456.0,316.6C458.5,317.1 460.9,318.3 463.4,318.7C465.9,319.2 468.4,318.9 470.9,319.1C473.3,319.4 475.8,319.8 478.3,320.2C480.8,320.7 483.2,321.3 485.7,321.7C488.2,322.0 490.7,322.0 493.1,322.3C495.6,322.7 498.1,323.5 500.6,323.7C503.1,323.9 505.5,323.2 508.0,323.4C510.5,323.6 513.0,324.5 515.4,325.0C517.9,325.5 520.4,326.2 522.9,326.5C525.3,326.9 527.8,326.8 530.3,327.1C532.8,327.3 535.3,327.7 537.7,328.1C540.2,328.5 542.7,329.0 545.2,329.4C547.6,329.8 550.1,330.0 552.6,330.4C555.1,330.7 557.5,331.2 560.0,331.6C562.5,332.0 565.0,332.1 567.5,332.7C569.9,333.2 572.4,334.2 574.9,334.8C577.4,335.3 579.8,335.5 582.3,335.8C584.8,336.1 587.3,336.3 589.7,336.6C592.2,336.9 594.7,337.1 597.2,337.5C599.6,337.9 602.1,338.6 604.6,338.8C607.1,339.1 609.6,338.8 612.0,339.2C614.5,339.6 617.0,341.0 619.5,341.4C621.9,341.7 624.4,341.1 626.9,341.3C629.4,341.4 631.8,342.1 634.3,342.4C636.8,342.7 639.3,342.8 641.8,343.2C644.2,343.6 646.7,344.2 649.2,344.7C651.7,345.2 654.1,345.8 656.6,346.1C659.1,346.4 661.6,346.3 664.0,346.6C666.5,347.0 669.0,347.9 671.5,348.3C674.0,348.6 676.4,348.4 678.9,348.6C681.4,348.8 683.9,349.2 686.3,349.4C688.8,349.5 691.3,349.2 693.8,349.5C696.2,349.8 698.7,350.6 701.2,351.1C703.7,351.6 706.2,352.3 708.6,352.5C711.1,352.7 713.6,351.8 716.1,352.0C718.5,352.3 721.0,353.7 723.5,354.1C726.0,354.5 729.7,354.5 730.9,354.5" stroke="#A0CEDA"/>
<path d="M47.8,365.5C50.1,365.5 57.2,365.5 61.8,365.5C66.4,365.5 72.5,365.5 75.6,365.5C78.7,365.5 78.7,411.8 80.2,365.5C81.7,319.2 83.3,87.5 84.8,87.5C86.3,87.5 87.9,319.2 89.4,365.5C90.9,411.8 91.2,365.5 94.0,365.5C96.8,365.5 103.6,365.5 106.2,365.5C108.8,365.5 108.6,384.7 109.8,365.5C111.0,346.3 112.2,250.3 113.4,250.3C114.6,250.3 116.1,346.3 117.0,365.5C117.9,384.7 117.9,398.0 118.9,365.5C119.9,333.0 121.5,188.2 122.9,170.4C124.3,152.5 125.8,241.5 127.2,258.4C128.6,275.3 129.7,271.8 131.1,271.7C132.6,271.6 134.5,255.7 136.1,257.8C137.8,259.8 139.4,281.5 141.1,283.8C142.7,286.1 144.4,269.5 146.0,271.4C147.7,273.3 149.3,293.1 151.0,295.4C152.6,297.6 154.3,286.9 155.9,284.9C157.6,283.0 159.2,281.6 160.9,283.8C162.5,286.0 164.2,295.6 165.8,298.1C167.5,300.6 169.1,297.4 170.8,298.5C172.4,299.7 174.1,304.5 175.7,305.2C177.4,305.9 179.0,302.7 180.7,302.8C182.3,303.0 184.0,306.2 185.6,306.3C187.3,306.5 188.9,304.1 190.6,303.8C192.2,303.6 193.9,304.0 195.6,305.0C197.2,306.0 198.9,309.0 200.5,309.8C202.2,310.6 203.8,310.4 205.5,309.8C207.1,309.2 208.8,306.3 210.4,305.9C212.1,305.5 213.7,307.3 215.4,307.4C217.0,307.5 218.7,306.3 220.3,306.5C222.0,306.6 223.6,308.2 225.3,308.4C226.9,308.5 228.6,307.7 230.2,307.5C231.9,307.3 233.5,307.6 235.2,307.3C236.8,307.0 238.5,306.0 240.1,305.9C241.8,305.7 243.4,306.2 245.1,306.5C246.7,306.8 248.4,307.4 250.0,307.7C251.7,308.1 253.3,308.5 255.0,308.6C256.7,308.7 258.3,308.4 260.0,308.1C261.6,307.8 263.3,307.0 264.9,306.8C266.6,306.7 268.2,307.3 269.9,307.1C271.5,306.8 273.2,305.6 274.8,305.2C276.5,304.9 278.1,304.8 279.8,304.8C281.4,304.9 283.1,305.4 284.7,305.4C286.4,305.4 288.0,305.0 289.7,304.9C291.3,304.9 293.0,305.0 294.6,305.0C296.3,304.9 297.9,305.0 299.6,304.9C301.2,304.8 302.9,304.4 304.5,304.4C306.2,304.4 307.8,304.9 309.5,304.7C311.1,304.6 312.8,303.8 314.4,303.6C316.1,303.4 317.8,303.6 319.4,303.5C321.1,303.4 322.7,303.2 324.4,303.1C326.0,303.0 327.7,303.0 329.3,303.0C331.0,303.0 332.6,303.3 334.3,303.1C335.9,303.0 337.6,302.3 339.2,302.1C340.9,301.9 342.5,302.1 344.2,302.0C345.8,301.9 347.5,301.8 349.1,301.6C350.8,301.5 352.4,301.3 354.1,301.3C355.7,301.3 358.1,301.6 359.0,301.7C359.9,301.7 358.1,301.5 359.4,301.4C360.7,301.4 364.4,301.1 366.8,301.3C369.3,301.5 371.8,302.2 374.3,302.7C376.7,303.1 379.2,303.4 381.7,303.9C384.2,304.4 386.6,305.1 389.1,305.7C391.6,306.2 394.1,306.7 396.6,307.2C399.0,307.7 401.5,308.1 404.0,308.6C406.5,309.1 408.9,309.7 411.4,310.1C413.9,310.6 416.4,311.0 418.8,311.3C421.3,311.7 423.8,311.8 426.3,312.3C428.8,312.9 431.2,314.0 433.7,314.5C436.2,315.1 438.7,315.1 441.1,315.5C443.6,315.9 446.1,316.2 448.6,316.6C451.0,317.0 453.5,317.5 456.0,317.9C458.5,318.3 460.9,318.7 463.4,319.1C465.9,319.5 468.4,319.8 470.9,320.2C473.3,320.7 475.8,321.4 478.3,321.8C480.8,322.2 483.2,322.3 485.7,322.5C488.2,322.8 490.7,323.0 493.1,323.3C495.6,323.6 498.1,323.9 500.6,324.2C503.1,324.5 505.5,324.7 508.0,324.9C510.5,325.2 513.0,325.5 515.4,325.8C517.9,326.2 520.4,326.9 522.9,327.3C525.3,327.6 527.8,327.7 530.3,328.1C532.8,328.5 535.3,329.2 537.7,329.7C540.2,330.2 542.7,330.6 545.2,331.0C547.6,331.4 550.1,331.6 552.6,332.0C555.1,332.3 557.5,332.9 560.0,333.2C562.5,333.4 565.0,333.2 567.5,333.4C569.9,333.7 572.4,334.3 574.9,334.8C577.4,335.4 579.8,336.4 582.3,336.8C584.8,337.1 587.3,336.9 589.7,337.1C592.2,337.3 594.7,337.6 597.2,337.9C599.6,338.3 602.1,338.8 604.6,339.1C607.1,339.4 609.6,339.4 612.0,339.7C614.5,340.1 617.0,340.8 619.5,341.2C621.9,341.6 624.4,341.8 626.9,342.1C629.4,342.4 631.8,342.4 634.3,342.8C636.8,343.2 639.3,344.0 641.8,344.5C644.2,344.9 646.7,345.2 649.2,345.6C651.7,346.0 654.1,346.4 656.6,346.6C659.1,346.8 661.6,346.5 664.0,346.7C666.5,346.9 669.0,347.4 671.5,347.8C674.0,348.2 676.4,349.0 678.9,349.2C681.4,349.5 683.9,349.1 686.3,349.2C688.8,349.4 691.3,349.8 693.8,350.1C696.2,350.4 698.7,350.6 701.2,350.9C703.7,351.2 706.2,351.6 708.6,351.9C711.1,352.2 713.6,352.3 716.1,352.7C718.5,353.1 721.0,354.1 723.5,354.4C726.0,354.7 729.7,354.5 730.9,354.5" stroke="#F3C59F"/>
<path d="M47.8,365.5C50.1,365.5 52.1,365.5 61.8,365.5C71.5,365.5 97.9,365.5 106.0,365.5C114.1,365.5 108.8,383.8 110.2,365.5C111.6,347.2 112.9,286.0 114.4,255.8C115.9,225.7 118.1,197.2 119.4,184.7C120.7,172.1 121.1,174.4 122.4,180.3C123.7,186.1 125.7,206.8 127.2,219.6C128.7,232.4 129.7,251.9 131.1,257.1C132.6,262.2 134.5,247.2 136.1,250.7C137.8,254.3 139.4,274.7 141.1,278.4C142.7,282.1 144.4,270.3 146.0,273.0C147.7,275.6 149.3,292.1 151.0,294.2C152.6,296.4 154.3,285.9 155.9,285.8C157.6,285.7 159.2,291.3 160.9,293.8C162.5,296.3 164.2,300.0 165.8,300.6C167.5,301.1 169.1,296.4 170.8,297.1C172.4,297.7 174.1,302.9 175.7,304.2C177.4,305.6 179.0,304.9 180.7,305.4C182.3,305.8 184.0,306.9 185.6,306.9C187.3,306.8 188.9,305.0 190.6,305.2C192.2,305.3 193.9,307.3 195.6,307.8C197.2,308.3 198.9,308.2 200.5,308.0C202.2,307.8 203.8,306.0 205.5,306.6C207.1,307.1 208.8,311.3 210.4,311.2C212.1,311.2 213.7,306.1 215.4,306.1C217.0,306.0 218.7,310.9 220.3,311.0C222.0,311.1 223.6,307.5 225.3,306.7C226.9,306.0 228.6,306.7 230.2,306.6C231.9,306.6 233.5,306.2 235.2,306.6C236.8,307.0 238.5,308.7 240.1,308.9C241.8,309.1 243.4,308.1 245.1,307.9C246.7,307.6 248.4,307.5 250.0,307.4C251.7,307.3 253.3,307.4 255.0,307.4C256.7,307.4 258.3,307.6 260.0,307.3C261.6,307.0 263.3,305.9 264.9,305.6C266.6,305.4 268.2,306.2 269.9,306.0C271.5,305.8 273.2,304.7 274.8,304.4C276.5,304.1 278.1,304.0 279.8,304.2C281.4,304.4 283.1,305.5 284.7,305.6C286.4,305.7 288.0,304.9 289.7,304.8C291.3,304.7 293.0,304.7 294.6,304.9C296.3,305.0 297.9,305.8 299.6,305.6C301.2,305.5 302.9,304.3 304.5,304.1C306.2,303.9 307.8,304.7 309.5,304.5C311.1,304.3 312.8,303.1 314.4,302.8C316.1,302.6 317.8,302.8 319.4,303.0C321.1,303.2 322.7,304.2 324.4,304.1C326.0,304.1 327.7,302.9 329.3,302.7C331.0,302.6 332.6,303.2 334.3,303.1C335.9,303.0 337.6,302.2 339.2,302.1C340.9,301.9 342.5,302.4 344.2,302.3C345.8,302.3 347.5,302.1 349.1,301.9C350.8,301.8 352.4,301.6 354.1,301.6C355.7,301.6 358.1,301.9 359.0,301.9C359.9,301.9 358.1,302.0 359.4,301.8C360.7,301.6 364.4,300.7 366.8,300.9C369.3,301.0 371.8,302.0 374.3,302.5C376.7,303.0 379.2,303.3 381.7,303.8C384.2,304.4 386.6,305.4 389.1,305.9C391.6,306.4 394.1,306.6 396.6,306.9C399.0,307.3 401.5,307.5 404.0,308.0C406.5,308.6 408.9,309.6 411.4,310.2C413.9,310.7 416.4,310.7 418.8,311.1C421.3,311.5 423.8,312.1 426.3,312.6C428.8,313.1 431.2,313.6 433.7,314.1C436.2,314.6 438.7,315.3 441.1,315.7C443.6,316.2 446.1,316.6 448.6,316.9C451.0,317.1 453.5,317.0 456.0,317.3C458.5,317.6 460.9,318.4 463.4,318.8C465.9,319.3 468.4,319.5 470.9,320.1C473.3,320.6 475.8,321.6 478.3,322.0C480.8,322.5 483.2,322.5 485.7,322.6C488.2,322.8 490.7,322.4 493.1,322.7C495.6,323.0 498.1,324.1 500.6,324.5C503.1,324.9 505.5,325.0 508.0,325.2C510.5,325.5 513.0,325.5 515.4,325.9C517.9,326.3 520.4,327.3 522.9,327.7C525.3,328.0 527.8,327.5 530.3,327.9C532.8,328.4 535.3,329.8 537.7,330.3C540.2,330.7 542.7,330.3 545.2,330.6C547.6,331.0 550.1,332.1 552.6,332.5C555.1,332.9 557.5,332.7 560.0,333.1C562.5,333.5 565.0,334.5 567.5,334.9C569.9,335.3 572.4,335.4 574.9,335.6C577.4,335.8 579.8,335.9 582.3,336.2C584.8,336.5 587.3,337.1 589.7,337.5C592.2,337.9 594.7,338.2 597.2,338.5C599.6,338.9 602.1,339.3 604.6,339.6C607.1,339.9 609.6,339.9 612.0,340.2C614.5,340.6 617.0,341.3 619.5,341.6C621.9,341.9 624.4,341.8 626.9,342.1C629.4,342.5 631.8,343.2 634.3,343.6C636.8,344.0 639.3,344.2 641.8,344.5C644.2,344.7 646.7,344.8 649.2,345.2C651.7,345.6 654.1,346.6 656.6,346.9C659.1,347.2 661.6,346.8 664.0,346.9C666.5,347.0 669.0,347.3 671.5,347.6C674.0,347.9 676.4,348.3 678.9,348.7C681.4,349.1 683.9,350.2 686.3,350.3C688.8,350.5 691.3,349.5 693.8,349.7C696.2,350.0 698.7,351.4 701.2,351.8C703.7,352.1 706.2,351.9 708.6,352.0C711.1,352.2 713.6,352.4 716.1,352.6C718.5,352.8 721.0,352.9 723.5,353.2C726.0,353.6 729.7,354.4 730.9,354.6" stroke="#C9D5E4"/>
<path d="M47.8,365.5C50.1,365.5 57.1,365.5 61.8,365.5C66.5,365.5 72.9,365.5 76.0,365.5C79.1,365.5 78.9,379.8 80.4,365.5C81.9,351.2 83.3,280.0 84.8,280.0C86.3,280.0 87.7,351.2 89.2,365.5C90.7,379.8 91.0,365.5 93.6,365.5C96.2,365.5 102.4,365.5 104.8,365.5C107.2,365.5 106.8,383.8 107.8,365.5C108.8,347.2 109.6,255.8 110.8,255.8C112.0,255.8 113.9,369.9 115.0,365.5C116.1,361.1 116.2,229.6 117.4,229.6C118.6,229.6 120.6,361.8 122.2,365.5C123.8,369.2 125.7,278.5 127.2,252.0C128.7,225.5 129.7,207.4 131.1,206.5C132.6,205.6 134.5,233.9 136.1,246.7C137.8,259.5 139.4,279.7 141.1,283.3C142.7,286.9 144.4,267.4 146.0,268.4C147.7,269.3 149.3,286.5 151.0,289.1C152.6,291.7 154.3,284.1 155.9,283.9C157.6,283.7 159.2,285.8 160.9,288.0C162.5,290.2 164.2,295.7 165.8,296.8C167.5,298.0 169.1,294.5 170.8,294.7C172.4,295.0 174.1,296.5 175.7,298.3C177.4,300.2 179.0,305.6 180.7,305.7C182.3,305.8 184.0,299.3 185.6,298.9C187.3,298.4 188.9,301.4 190.6,302.8C192.2,304.2 193.9,306.3 195.6,307.4C197.2,308.4 198.9,309.4 200.5,308.9C202.2,308.3 203.8,303.9 205.5,304.1C207.1,304.4 208.8,310.6 210.4,310.6C212.1,310.5 213.7,304.1 215.4,304.1C217.0,304.0 218.7,309.7 220.3,310.3C222.0,310.9 223.6,308.0 225.3,307.8C226.9,307.6 228.6,309.0 230.2,309.1C231.9,309.3 233.5,308.9 235.2,308.7C236.8,308.5 238.5,308.5 240.1,308.0C241.8,307.5 243.4,305.8 245.1,305.6C246.7,305.4 248.4,306.7 250.0,306.8C251.7,306.8 253.3,306.1 255.0,305.8C256.7,305.6 258.3,305.3 260.0,305.2C261.6,305.0 263.3,304.7 264.9,304.9C266.6,305.1 268.2,306.4 269.9,306.4C271.5,306.3 273.2,305.0 274.8,304.7C276.5,304.4 278.1,304.4 279.8,304.5C281.4,304.6 283.1,305.2 284.7,305.4C286.4,305.6 288.0,306.0 289.7,305.8C291.3,305.6 293.0,304.3 294.6,304.0C296.3,303.7 297.9,304.1 299.6,304.2C301.2,304.2 302.9,304.5 304.5,304.3C306.2,304.1 307.8,303.2 309.5,303.1C311.1,303.0 312.8,303.7 314.4,303.8C316.1,303.8 317.8,303.4 319.4,303.3C321.1,303.2 322.7,303.1 324.4,303.1C326.0,303.0 327.7,303.0 329.3,302.9C331.0,302.8 332.6,302.7 334.3,302.5C335.9,302.4 337.6,301.9 339.2,301.9C340.9,302.0 342.5,302.5 344.2,302.6C345.8,302.7 347.5,302.8 349.1,302.7C350.8,302.6 352.4,302.2 354.1,302.1C355.7,302.0 358.1,301.9 359.0,301.9C359.9,301.9 358.1,302.1 359.4,302.0C360.7,302.0 364.4,301.6 366.8,301.7C369.3,301.7 371.8,302.0 374.3,302.4C376.7,302.7 379.2,303.1 381.7,303.7C384.2,304.3 386.6,305.5 389.1,306.1C391.6,306.7 394.1,306.8 396.6,307.3C399.0,307.8 401.5,308.6 404.0,309.2C406.5,309.8 408.9,310.4 411.4,311.0C413.9,311.5 416.4,311.9 418.8,312.3C421.3,312.8 423.8,313.1 426.3,313.5C428.8,313.9 431.2,314.3 433.7,314.7C436.2,315.1 438.7,315.3 441.1,315.9C443.6,316.5 446.1,317.6 448.6,318.2C451.0,318.7 453.5,318.7 456.0,319.1C458.5,319.5 460.9,320.2 463.4,320.6C465.9,321.0 468.4,321.1 470.9,321.4C473.3,321.7 475.8,322.2 478.3,322.5C480.8,322.9 483.2,323.3 485.7,323.5C488.2,323.8 490.7,323.7 493.1,324.1C495.6,324.4 498.1,325.2 500.6,325.6C503.1,326.0 505.5,326.3 508.0,326.5C510.5,326.8 513.0,326.7 515.4,327.0C517.9,327.3 520.4,327.7 522.9,328.2C525.3,328.7 527.8,329.3 530.3,329.8C532.8,330.4 535.3,331.2 537.7,331.5C540.2,331.9 542.7,331.8 545.2,332.0C547.6,332.3 550.1,332.8 552.6,333.1C555.1,333.5 557.5,334.0 560.0,334.3C562.5,334.5 565.0,334.4 567.5,334.9C569.9,335.3 572.4,336.4 574.9,336.9C577.4,337.3 579.8,337.5 582.3,337.7C584.8,338.0 587.3,338.2 589.7,338.4C592.2,338.6 594.7,338.6 597.2,338.9C599.6,339.2 602.1,339.7 604.6,340.1C607.1,340.5 609.6,340.8 612.0,341.2C614.5,341.6 617.0,342.3 619.5,342.6C621.9,342.8 624.4,342.4 626.9,342.7C629.4,343.0 631.8,344.1 634.3,344.4C636.8,344.7 639.3,344.3 641.8,344.5C644.2,344.7 646.7,345.2 649.2,345.6C651.7,346.0 654.1,346.5 656.6,346.8C659.1,347.2 661.6,347.3 664.0,347.5C666.5,347.8 669.0,348.1 671.5,348.3C674.0,348.5 676.4,348.5 678.9,348.8C681.4,349.1 683.9,349.8 686.3,350.0C688.8,350.3 691.3,349.8 693.8,350.2C696.2,350.5 698.7,351.8 701.2,352.1C703.7,352.3 706.2,351.5 708.6,351.7C711.1,351.8 713.6,352.6 716.1,352.9C718.5,353.2 721.0,353.2 723.5,353.5C726.0,353.7 729.7,354.4 730.9,354.6" stroke="#E5CAC9"/>
<path d="M47.8,365.5C50.1,365.5 57.3,365.5 61.8,365.5C66.3,365.5 72.0,365.5 75.0,365.5C78.0,365.5 78.3,388.5 79.9,365.5C81.5,342.5 83.2,227.4 84.8,227.4C86.4,227.4 88.1,342.5 89.7,365.5C91.3,388.5 91.5,365.5 94.6,365.5C97.7,365.5 105.4,365.5 108.4,365.5C111.4,365.5 111.1,382.0 112.4,365.5C113.7,349.0 114.7,291.6 116.4,266.8C118.1,242.0 120.6,219.8 122.4,216.8C124.2,213.8 125.7,242.7 127.2,248.6C128.7,254.5 129.7,249.7 131.1,252.4C132.6,255.1 134.5,261.6 136.1,264.7C137.8,267.9 139.4,268.6 141.1,271.3C142.7,273.9 144.4,276.3 146.0,280.5C147.7,284.7 149.3,296.7 151.0,296.4C152.6,296.1 154.3,280.6 155.9,278.9C157.6,277.1 159.2,282.0 160.9,285.8C162.5,289.5 164.2,299.9 165.8,301.5C167.5,303.0 169.1,294.1 170.8,294.9C172.4,295.7 174.1,304.9 175.7,306.0C177.4,307.1 179.0,301.6 180.7,301.5C182.3,301.4 184.0,305.4 185.6,305.4C187.3,305.5 188.9,301.6 190.6,301.7C192.2,301.7 193.9,304.9 195.6,305.6C197.2,306.3 198.9,305.1 200.5,305.8C202.2,306.5 203.8,309.0 205.5,309.7C207.1,310.3 208.8,309.9 210.4,309.8C212.1,309.7 213.7,309.3 215.4,309.2C217.0,309.1 218.7,309.1 220.3,309.0C222.0,308.9 223.6,308.4 225.3,308.6C226.9,308.8 228.6,310.4 230.2,310.2C231.9,310.0 233.5,308.1 235.2,307.6C236.8,307.2 238.5,307.6 240.1,307.5C241.8,307.4 243.4,307.1 245.1,307.1C246.7,307.0 248.4,307.5 250.0,307.3C251.7,307.1 253.3,306.4 255.0,306.0C256.7,305.6 258.3,304.7 260.0,305.0C261.6,305.3 263.3,307.7 264.9,307.6C266.6,307.6 268.2,304.9 269.9,304.7C271.5,304.5 273.2,306.3 274.8,306.3C276.5,306.3 278.1,304.7 279.8,304.7C281.4,304.6 283.1,305.7 284.7,305.7C286.4,305.7 288.0,304.8 289.7,304.7C291.3,304.5 293.0,304.9 294.6,304.8C296.3,304.6 297.9,304.0 299.6,304.0C301.2,304.0 302.9,305.0 304.5,304.9C306.2,304.8 307.8,303.7 309.5,303.4C311.1,303.1 312.8,303.1 314.4,303.0C316.1,302.9 317.8,302.6 319.4,302.7C321.1,302.8 322.7,303.6 324.4,303.5C326.0,303.4 327.7,302.2 329.3,302.0C331.0,301.8 332.6,302.4 334.3,302.5C335.9,302.5 337.6,302.4 339.2,302.3C340.9,302.3 342.5,302.3 344.2,302.2C345.8,302.1 347.5,301.9 349.1,301.8C350.8,301.6 352.4,301.3 354.1,301.3C355.7,301.3 358.1,301.4 359.0,301.6C359.9,301.8 358.1,302.5 359.4,302.5C360.7,302.5 364.4,301.4 366.8,301.4C369.3,301.3 371.8,301.6 374.3,302.1C376.7,302.6 379.2,303.9 381.7,304.6C384.2,305.3 386.6,305.7 389.1,306.4C391.6,307.0 394.1,308.2 396.6,308.6C399.0,309.0 401.5,308.6 404.0,309.0C406.5,309.4 408.9,310.8 411.4,311.2C413.9,311.6 416.4,311.1 418.8,311.4C421.3,311.7 423.8,312.7 426.3,313.2C428.8,313.7 431.2,313.8 433.7,314.3C436.2,314.8 438.7,315.6 441.1,316.1C443.6,316.6 446.1,316.7 448.6,317.2C451.0,317.6 453.5,318.4 456.0,318.9C458.5,319.3 460.9,319.4 463.4,319.9C465.9,320.4 468.4,321.5 470.9,322.0C473.3,322.5 475.8,322.9 478.3,323.0C480.8,323.1 483.2,322.4 485.7,322.6C488.2,322.9 490.7,323.8 493.1,324.3C495.6,324.9 498.1,325.4 500.6,325.7C503.1,326.1 505.5,326.3 508.0,326.5C510.5,326.6 513.0,326.5 515.4,326.8C517.9,327.1 520.4,327.8 522.9,328.3C525.3,328.7 527.8,328.9 530.3,329.3C532.8,329.8 535.3,330.7 537.7,331.1C540.2,331.6 542.7,331.7 545.2,332.0C547.6,332.3 550.1,332.5 552.6,332.9C555.1,333.4 557.5,334.0 560.0,334.4C562.5,334.8 565.0,334.7 567.5,335.2C569.9,335.6 572.4,336.6 574.9,337.0C577.4,337.3 579.8,337.0 582.3,337.2C584.8,337.4 587.3,337.8 589.7,338.2C592.2,338.5 594.7,339.2 597.2,339.6C599.6,340.0 602.1,340.1 604.6,340.5C607.1,340.8 609.6,341.5 612.0,341.8C614.5,342.0 617.0,341.5 619.5,341.8C621.9,342.0 624.4,343.0 626.9,343.3C629.4,343.7 631.8,343.6 634.3,343.9C636.8,344.2 639.3,344.7 641.8,345.0C644.2,345.3 646.7,345.3 649.2,345.6C651.7,346.0 654.1,346.9 656.6,347.2C659.1,347.4 661.6,346.8 664.0,347.0C666.5,347.2 669.0,347.7 671.5,348.1C674.0,348.5 676.4,348.9 678.9,349.3C681.4,349.6 683.9,350.1 686.3,350.2C688.8,350.3 691.3,349.7 693.8,350.0C696.2,350.2 698.7,351.4 701.2,351.8C703.7,352.2 706.2,352.2 708.6,352.4C711.1,352.7 713.6,353.1 716.1,353.3C718.5,353.6 721.0,353.6 723.5,353.9C726.0,354.1 729.7,354.6 730.9,354.8" stroke="#DCE4CC"/>
<path d="M47.8,365.5C50.1,365.5 52.5,365.5 61.8,365.5C71.1,365.5 95.9,365.5 103.6,365.5C111.3,365.5 106.7,395.6 108.2,365.5C109.7,335.4 111.3,184.7 112.8,184.7C114.3,184.7 116.8,335.4 117.4,365.5C118.0,395.6 115.9,384.7 116.4,365.5C116.9,346.3 118.9,250.3 120.2,250.3C121.5,250.3 122.8,369.5 124.0,365.5C125.2,361.5 126.0,251.8 127.2,226.2C128.4,200.6 129.7,204.7 131.1,212.0C132.6,219.2 134.5,260.8 136.1,269.6C137.8,278.4 139.4,265.6 141.1,264.7C142.7,263.9 144.4,260.7 146.0,264.6C147.7,268.5 149.3,283.9 151.0,288.3C152.6,292.7 154.3,292.0 155.9,290.9C157.6,289.8 159.2,280.0 160.9,281.6C162.5,283.2 164.2,298.3 165.8,300.3C167.5,302.4 169.1,293.6 170.8,294.1C172.4,294.6 174.1,302.2 175.7,303.3C177.4,304.4 179.0,300.4 180.7,300.7C182.3,301.0 184.0,304.5 185.6,304.9C187.3,305.3 188.9,303.1 190.6,303.0C192.2,303.0 193.9,304.4 195.6,304.8C197.2,305.2 198.9,305.7 200.5,305.7C202.2,305.6 203.8,304.6 205.5,304.6C207.1,304.7 208.8,306.1 210.4,306.0C212.1,305.8 213.7,303.1 215.4,303.8C217.0,304.5 218.7,309.4 220.3,310.0C222.0,310.7 223.6,308.0 225.3,307.6C226.9,307.2 228.6,308.0 230.2,307.7C231.9,307.4 233.5,306.3 235.2,305.8C236.8,305.4 238.5,305.2 240.1,305.2C241.8,305.1 243.4,305.4 245.1,305.3C246.7,305.3 248.4,304.7 250.0,305.0C251.7,305.3 253.3,306.7 255.0,307.0C256.7,307.3 258.3,306.9 260.0,306.9C261.6,306.9 263.3,307.1 264.9,306.9C266.6,306.6 268.2,305.6 269.9,305.5C271.5,305.4 273.2,306.3 274.8,306.2C276.5,306.0 278.1,304.6 279.8,304.6C281.4,304.6 283.1,306.0 284.7,306.1C286.4,306.1 288.0,305.1 289.7,304.8C291.3,304.6 293.0,304.6 294.6,304.5C296.3,304.3 297.9,304.0 299.6,303.9C301.2,303.8 302.9,304.0 304.5,304.0C306.2,304.0 307.8,304.1 309.5,303.9C311.1,303.7 312.8,302.9 314.4,302.9C316.1,302.8 317.8,303.6 319.4,303.5C321.1,303.5 322.7,302.7 324.4,302.6C326.0,302.4 327.7,302.6 329.3,302.6C331.0,302.5 332.6,302.3 334.3,302.3C335.9,302.3 337.6,302.7 339.2,302.7C340.9,302.6 342.5,302.3 344.2,302.2C345.8,302.1 347.5,302.2 349.1,302.1C350.8,302.1 352.4,302.2 354.1,302.1C355.7,302.0 358.1,301.6 359.0,301.5C359.9,301.4 358.1,301.5 359.4,301.6C360.7,301.6 364.4,301.9 366.8,302.0C369.3,302.1 371.8,302.1 374.3,302.4C376.7,302.7 379.2,303.3 381.7,304.0C384.2,304.7 386.6,305.8 389.1,306.4C391.6,307.1 394.1,307.3 396.6,307.7C399.0,308.2 401.5,308.5 404.0,309.1C406.5,309.7 408.9,310.9 411.4,311.4C413.9,312.0 416.4,311.9 418.8,312.3C421.3,312.6 423.8,312.9 426.3,313.3C428.8,313.8 431.2,314.2 433.7,314.8C436.2,315.3 438.7,316.2 441.1,316.7C443.6,317.3 446.1,317.4 448.6,317.9C451.0,318.4 453.5,319.4 456.0,319.9C458.5,320.4 460.9,320.5 463.4,320.9C465.9,321.3 468.4,322.1 470.9,322.4C473.3,322.8 475.8,322.8 478.3,323.0C480.8,323.3 483.2,323.5 485.7,323.7C488.2,324.0 490.7,324.3 493.1,324.6C495.6,324.9 498.1,325.2 500.6,325.5C503.1,325.9 505.5,326.2 508.0,326.6C510.5,327.0 513.0,327.6 515.4,328.0C517.9,328.5 520.4,329.0 522.9,329.3C525.3,329.6 527.8,329.4 530.3,329.7C532.8,329.9 535.3,330.3 537.7,330.8C540.2,331.3 542.7,332.3 545.2,332.8C547.6,333.2 550.1,333.2 552.6,333.4C555.1,333.7 557.5,333.9 560.0,334.3C562.5,334.6 565.0,335.2 567.5,335.6C569.9,336.1 572.4,336.6 574.9,337.0C577.4,337.3 579.8,337.4 582.3,337.6C584.8,337.7 587.3,337.6 589.7,338.0C592.2,338.4 594.7,339.3 597.2,339.8C599.6,340.3 602.1,340.5 604.6,340.9C607.1,341.3 609.6,341.8 612.0,342.0C614.5,342.2 617.0,342.1 619.5,342.3C621.9,342.4 624.4,342.5 626.9,342.8C629.4,343.1 631.8,343.8 634.3,344.2C636.8,344.6 639.3,344.8 641.8,345.2C644.2,345.5 646.7,346.0 649.2,346.3C651.7,346.5 654.1,346.4 656.6,346.7C659.1,347.0 661.6,347.9 664.0,348.1C666.5,348.4 669.0,348.0 671.5,348.2C674.0,348.4 676.4,349.2 678.9,349.5C681.4,349.7 683.9,349.6 686.3,349.8C688.8,349.9 691.3,350.2 693.8,350.4C696.2,350.6 698.7,350.7 701.2,351.0C703.7,351.4 706.2,352.0 708.6,352.3C711.1,352.7 713.6,352.9 716.1,353.2C718.5,353.5 721.0,353.8 723.5,354.1C726.0,354.5 729.7,354.9 730.9,355.1" stroke="#D5CEDD"/>
<path d="M47.8,365.5C50.1,365.5 52.1,365.5 61.8,365.5C71.5,365.5 98.0,365.5 106.0,365.5C114.0,365.5 108.4,381.0 109.6,365.5C110.8,350.0 111.8,298.0 113.2,272.3C114.6,246.5 116.4,218.1 118.0,211.0C119.6,203.9 121.3,227.3 122.8,229.6C124.3,231.9 125.8,222.1 127.2,224.7C128.6,227.2 129.7,243.8 131.1,245.1C132.6,246.5 134.5,228.6 136.1,232.8C137.8,237.0 139.4,264.1 141.1,270.5C142.7,276.8 144.4,267.0 146.0,270.9C147.7,274.8 149.3,292.0 151.0,294.0C152.6,296.1 154.3,284.7 155.9,283.1C157.6,281.6 159.2,282.2 160.9,284.7C162.5,287.2 164.2,296.2 165.8,298.2C167.5,300.2 169.1,295.6 170.8,296.6C172.4,297.6 174.1,303.0 175.7,304.2C177.4,305.3 179.0,304.5 180.7,303.4C182.3,302.4 184.0,297.4 185.6,297.7C187.3,297.9 188.9,304.1 190.6,305.0C192.2,306.0 193.9,303.5 195.6,303.4C197.2,303.3 198.9,304.0 200.5,304.4C202.2,304.8 203.8,304.9 205.5,305.8C207.1,306.7 208.8,310.0 210.4,309.7C212.1,309.4 213.7,304.1 215.4,303.9C217.0,303.7 218.7,308.3 220.3,308.5C222.0,308.7 223.6,305.4 225.3,305.3C226.9,305.2 228.6,307.3 230.2,307.7C231.9,308.1 233.5,308.1 235.2,307.7C236.8,307.2 238.5,305.0 240.1,304.9C241.8,304.8 243.4,307.0 245.1,307.2C246.7,307.4 248.4,306.5 250.0,306.0C251.7,305.6 253.3,304.4 255.0,304.4C256.7,304.5 258.3,306.1 260.0,306.5C261.6,306.9 263.3,306.9 264.9,306.7C266.6,306.4 268.2,305.5 269.9,305.0C271.5,304.5 273.2,303.8 274.8,303.7C276.5,303.5 278.1,303.9 279.8,304.1C281.4,304.3 283.1,305.0 284.7,304.9C286.4,304.7 288.0,303.6 289.7,303.4C291.3,303.1 293.0,303.3 294.6,303.5C296.3,303.6 297.9,304.3 299.6,304.2C301.2,304.1 302.9,303.0 304.5,302.9C306.2,302.8 307.8,303.7 309.5,303.7C311.1,303.7 312.8,302.8 314.4,302.8C316.1,302.7 317.8,303.3 319.4,303.3C321.1,303.3 322.7,302.9 324.4,302.7C326.0,302.4 327.7,301.9 329.3,301.9C331.0,301.9 332.6,302.2 334.3,302.4C335.9,302.6 337.6,303.1 339.2,303.0C340.9,302.9 342.5,302.1 344.2,302.0C345.8,301.8 347.5,302.0 349.1,302.0C350.8,301.9 352.4,301.6 354.1,301.6C355.7,301.7 358.1,302.0 359.0,302.0C359.9,302.0 358.1,301.8 359.4,301.7C360.7,301.7 364.4,301.6 366.8,301.7C369.3,301.8 371.8,301.7 374.3,302.2C376.7,302.6 379.2,303.8 381.7,304.6C384.2,305.3 386.6,306.0 389.1,306.7C391.6,307.3 394.1,308.0 396.6,308.5C399.0,309.0 401.5,309.2 404.0,309.6C406.5,310.0 408.9,310.5 411.4,311.0C413.9,311.5 416.4,312.1 418.8,312.7C421.3,313.3 423.8,313.9 426.3,314.5C428.8,315.1 431.2,315.7 433.7,316.2C436.2,316.8 438.7,317.2 441.1,317.7C443.6,318.2 446.1,318.9 448.6,319.3C451.0,319.8 453.5,320.0 456.0,320.3C458.5,320.6 460.9,320.8 463.4,321.2C465.9,321.6 468.4,322.3 470.9,322.8C473.3,323.2 475.8,323.7 478.3,324.1C480.8,324.4 483.2,324.5 485.7,324.8C488.2,325.1 490.7,325.6 493.1,325.9C495.6,326.1 498.1,326.1 500.6,326.5C503.1,326.8 505.5,327.4 508.0,327.8C510.5,328.2 513.0,328.6 515.4,328.9C517.9,329.2 520.4,329.3 522.9,329.6C525.3,329.9 527.8,330.2 530.3,330.7C532.8,331.2 535.3,331.9 537.7,332.3C540.2,332.8 542.7,333.3 545.2,333.6C547.6,333.9 550.1,333.9 552.6,334.1C555.1,334.4 557.5,334.7 560.0,335.1C562.5,335.6 565.0,336.4 567.5,336.8C569.9,337.2 572.4,337.4 574.9,337.7C577.4,338.0 579.8,338.5 582.3,338.7C584.8,338.9 587.3,338.6 589.7,338.9C592.2,339.2 594.7,340.1 597.2,340.5C599.6,340.9 602.1,340.9 604.6,341.2C607.1,341.5 609.6,341.9 612.0,342.3C614.5,342.7 617.0,343.2 619.5,343.5C621.9,343.8 624.4,343.7 626.9,343.9C629.4,344.1 631.8,344.3 634.3,344.6C636.8,345.0 639.3,345.4 641.8,345.9C644.2,346.3 646.7,346.7 649.2,347.1C651.7,347.4 654.1,347.5 656.6,347.7C659.1,348.0 661.6,348.2 664.0,348.3C666.5,348.5 669.0,348.6 671.5,348.7C674.0,348.9 676.4,348.9 678.9,349.1C681.4,349.3 683.9,349.8 686.3,350.0C688.8,350.2 691.3,349.9 693.8,350.3C696.2,350.7 698.7,352.1 701.2,352.4C703.7,352.6 706.2,351.6 708.6,351.8C711.1,352.0 713.6,353.2 716.1,353.5C718.5,353.9 721.0,353.7 723.5,353.9C726.0,354.1 729.7,354.7 730.9,354.8" stroke="#C8E0E7"/>
</svg>
<g class="tl">
<text x="35.4" y="369.9" textLength="5.0" lengthAdjust="spacingAndGlyphs">0</text>
<text x="28.1" y="314.8" textLength="12.3" lengthAdjust="spacingAndGlyphs">0.5</text>
<text x="35.4" y="260.2" textLength="5.0" lengthAdjust="spacingAndGlyphs">1</text>
<text x="28.1" y="205.2" textLength="12.3" lengthAdjust="spacingAndGlyphs">1.5</text>
<text x="35.4" y="150.5" textLength="5.0" lengthAdjust="spacingAndGlyphs">2</text>
<text x="28.1" y="95.6" textLength="12.3" lengthAdjust="spacingAndGlyphs">2.5</text>
<text x="35.4" y="40.6" textLength="5.0" lengthAdjust="spacingAndGlyphs">3</text>
<text x="42.4" y="385" textLength="15.0" lengthAdjust="spacingAndGlyphs">225</text>
<text x="166.2" y="385" textLength="15.0" lengthAdjust="spacingAndGlyphs">235</text>
<text x="290.0" y="385" textLength="15.0" lengthAdjust="spacingAndGlyphs">245</text>
<text x="413.7" y="385" textLength="15.0" lengthAdjust="spacingAndGlyphs">255</text>
<text x="537.5" y="385" textLength="15.0" lengthAdjust="spacingAndGlyphs">265</text>
<text x="661.3" y="385" textLength="15.0" lengthAdjust="spacingAndGlyphs">275</text>
</g>
<text class="at" x="354.8" y="404.6" textLength="70.9" lengthAdjust="spacingAndGlyphs">Wavelength (nm)</text>
<text class="at" transform="translate(17.9,236.1) rotate(-90)" textLength="70.5" lengthAdjust="spacingAndGlyphs">Absorbance (AU)</text>
</svg>
</body>
</html>
